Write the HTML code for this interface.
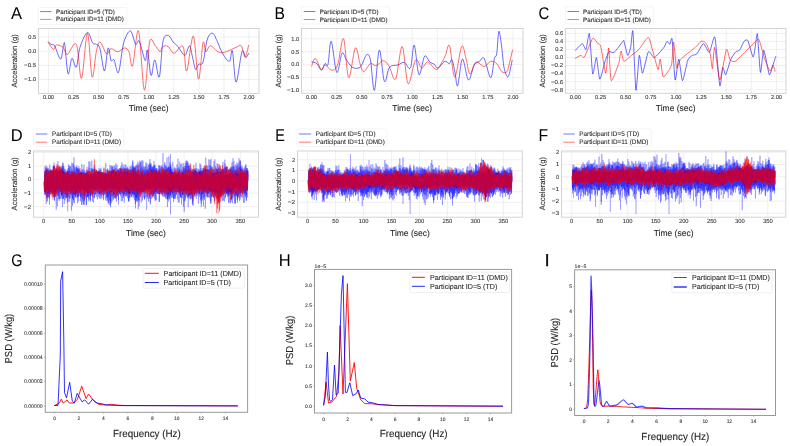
<!DOCTYPE html><html><head><meta charset="utf-8"><style>html,body{margin:0;padding:0;background:#fff;width:790px;height:446px;overflow:hidden}svg{display:block;will-change:transform}text{font-family:"Liberation Sans",sans-serif;text-rendering:geometricPrecision}</style></head><body><svg width="790" height="446" viewBox="0 0 790 446" font-family="'Liberation Sans', sans-serif">
<rect width="790" height="446" fill="#ffffff"/>
<rect x="38.5" y="28.5" width="220.5" height="65" fill="#ffffff" stroke="none" stroke-width="1"/>
<line x1="48.5" y1="28.5" x2="48.5" y2="93.5" stroke="#e9e9e9" stroke-width="0.7"/>
<line x1="73.56" y1="28.5" x2="73.56" y2="93.5" stroke="#e9e9e9" stroke-width="0.7"/>
<line x1="98.62" y1="28.5" x2="98.62" y2="93.5" stroke="#e9e9e9" stroke-width="0.7"/>
<line x1="123.69" y1="28.5" x2="123.69" y2="93.5" stroke="#e9e9e9" stroke-width="0.7"/>
<line x1="148.75" y1="28.5" x2="148.75" y2="93.5" stroke="#e9e9e9" stroke-width="0.7"/>
<line x1="173.81" y1="28.5" x2="173.81" y2="93.5" stroke="#e9e9e9" stroke-width="0.7"/>
<line x1="198.88" y1="28.5" x2="198.88" y2="93.5" stroke="#e9e9e9" stroke-width="0.7"/>
<line x1="223.94" y1="28.5" x2="223.94" y2="93.5" stroke="#e9e9e9" stroke-width="0.7"/>
<line x1="249" y1="28.5" x2="249" y2="93.5" stroke="#e9e9e9" stroke-width="0.7"/>
<line x1="38.5" y1="37.1" x2="259" y2="37.1" stroke="#e9e9e9" stroke-width="0.7"/>
<line x1="38.5" y1="51.23" x2="259" y2="51.23" stroke="#e9e9e9" stroke-width="0.7"/>
<line x1="38.5" y1="65.37" x2="259" y2="65.37" stroke="#e9e9e9" stroke-width="0.7"/>
<line x1="38.5" y1="79.5" x2="259" y2="79.5" stroke="#e9e9e9" stroke-width="0.7"/>
<path d="M48.1 41.6 C48.6 42.05 50.1 43.73 51.1 44.3 C52.1 44.87 53.35 44.38 54.1 45 C54.85 45.62 54.5 45.65 55.6 48 C56.7 50.35 59.35 59.72 60.7 59.1 C62.05 58.48 62.98 46.48 63.7 44.3 C64.42 42.12 64.27 41.07 65 46 C65.73 50.93 66.95 71.83 68.1 73.9 C69.25 75.97 70.53 59.5 71.9 58.4 C73.27 57.3 74.95 69.15 76.3 67.3 C77.65 65.45 78.15 53.12 80 47.3 C81.85 41.48 85.3 33.15 87.4 32.4 C89.5 31.65 91.12 40.82 92.6 42.8 C94.08 44.78 95.07 43.32 96.3 44.3 C97.53 45.28 98.65 44.25 100 48.7 C101.35 53.15 103.05 71.12 104.4 71 C105.75 70.88 106.98 49.73 108.1 48 C109.22 46.27 110.1 58.62 111.1 60.6 C112.1 62.58 112.87 57.93 114.1 59.9 C115.33 61.87 116.9 75.25 118.5 72.4 C120.1 69.55 121.72 49.7 123.7 42.8 C125.68 35.9 128.42 30.75 130.4 31 C132.38 31.25 134.12 42.58 135.6 44.3 C137.08 46.02 137.7 38.58 139.3 41.3 C140.9 44.02 143.85 59.12 145.2 60.6 C146.55 62.08 146.42 47.73 147.4 50.2 C148.38 52.67 149.87 73.78 151.1 75.4 C152.33 77.02 153.43 59.65 154.8 59.9 C156.17 60.15 157.93 80 159.3 76.9 C160.67 73.8 161.53 48.22 163 41.3 C164.47 34.38 166.38 35.27 168.1 35.4 C169.82 35.53 171.68 40.25 173.3 42.1 C174.92 43.95 176.07 44.4 177.8 46.5 C179.53 48.6 182.33 53.45 183.7 54.7 C185.07 55.95 185.02 55.48 186 54 C186.98 52.52 188.5 45.2 189.6 45.8 C190.7 46.4 191.6 53.65 192.6 57.6 C193.6 61.55 194.62 68.38 195.6 69.5 C196.58 70.62 197.27 65.53 198.5 64.3 C199.73 63.07 201.52 66.3 203 62.1 C204.48 57.9 205.8 43.92 207.4 39.1 C209 34.28 211.02 32.95 212.6 33.2 C214.18 33.45 215.2 37.15 216.9 40.6 C218.6 44.05 220.72 50.45 222.8 53.9 C224.88 57.35 227.8 61.78 229.4 61.3 C231 60.82 231.28 47.53 232.4 51 C233.52 54.47 234.5 81.98 236.1 82.1 C237.7 82.22 240.4 55.78 242 51.7 C243.6 47.62 244.58 57.35 245.7 57.6 C246.82 57.85 248.2 53.93 248.7 53.2" fill="none" stroke="#0000ff" stroke-width="0.95" stroke-opacity="0.62" stroke-linejoin="round"/>
<path d="M48.1 42.1 C48.97 43.33 51.93 49.02 53.3 49.5 C54.67 49.98 54.68 45.37 56.3 45 C57.92 44.63 61.15 45.73 63 47.3 C64.85 48.87 65.18 54.9 67.4 54.4 C69.62 53.9 73.95 40.3 76.3 44.3 C78.65 48.3 79.65 80.25 81.5 78.4 C83.35 76.55 85.63 33.45 87.4 33.2 C89.17 32.95 90.62 73.82 92.1 76.9 C93.58 79.98 94.98 57.5 96.3 51.7 C97.62 45.9 98.27 41.73 100 42.1 C101.73 42.47 104.85 52.8 106.7 53.9 C108.55 55 109.25 49.07 111.1 48.7 C112.95 48.33 115.58 51.82 117.8 51.7 C120.02 51.58 122.55 48 124.4 48 C126.25 48 127.53 48.73 128.9 51.7 C130.27 54.67 131 69.25 132.6 65.8 C134.2 62.35 136.53 26.93 138.5 31 C140.47 35.07 142.55 88.35 144.4 90.2 C146.25 92.05 147.87 49.63 149.6 42.1 C151.33 34.57 153.07 43.4 154.8 45 C156.53 46.6 158.63 51.45 160 51.7 C161.37 51.95 161.65 47.37 163 46.5 C164.35 45.63 166.25 45.38 168.1 46.5 C169.95 47.62 171.62 53.2 174.1 53.2 C176.58 53.2 180.9 43.53 183 46.5 C185.1 49.47 184.98 72.73 186.7 71 C188.42 69.27 191.33 34.75 193.3 36.1 C195.27 37.45 196.88 77.98 198.5 79.1 C200.12 80.22 201.77 47.37 203 42.8 C204.23 38.23 204.67 51.2 205.9 51.7 C207.13 52.2 208.2 45.68 210.4 45.8 C212.6 45.92 216.42 51.42 219.1 52.4 C221.78 53.38 223.67 52.55 226.5 51.7 C229.33 50.85 233.63 48.28 236.1 47.3 C238.57 46.32 239.82 44.2 241.3 45.8 C242.78 47.4 243.77 57.03 245 56.9 C246.23 56.77 248.08 46.98 248.7 45" fill="none" stroke="#ff0000" stroke-width="0.95" stroke-opacity="0.62" stroke-linejoin="round"/>
<rect x="38.5" y="28.5" width="220.5" height="65" fill="none" stroke="#cfcfcf" stroke-width="0.9"/>
<text x="48.5" y="99.1" font-size="5.75" text-anchor="middle" fill="#333333" stroke="#333333" stroke-width="0.08" textLength="11.13" lengthAdjust="spacingAndGlyphs">0.00</text>
<text x="73.56" y="99.1" font-size="5.75" text-anchor="middle" fill="#333333" stroke="#333333" stroke-width="0.08" textLength="11.13" lengthAdjust="spacingAndGlyphs">0.25</text>
<text x="98.62" y="99.1" font-size="5.75" text-anchor="middle" fill="#333333" stroke="#333333" stroke-width="0.08" textLength="11.13" lengthAdjust="spacingAndGlyphs">0.50</text>
<text x="123.69" y="99.1" font-size="5.75" text-anchor="middle" fill="#333333" stroke="#333333" stroke-width="0.08" textLength="11.13" lengthAdjust="spacingAndGlyphs">0.75</text>
<text x="148.75" y="99.1" font-size="5.75" text-anchor="middle" fill="#333333" stroke="#333333" stroke-width="0.08" textLength="11.13" lengthAdjust="spacingAndGlyphs">1.00</text>
<text x="173.81" y="99.1" font-size="5.75" text-anchor="middle" fill="#333333" stroke="#333333" stroke-width="0.08" textLength="11.13" lengthAdjust="spacingAndGlyphs">1.25</text>
<text x="198.88" y="99.1" font-size="5.75" text-anchor="middle" fill="#333333" stroke="#333333" stroke-width="0.08" textLength="11.13" lengthAdjust="spacingAndGlyphs">1.50</text>
<text x="223.94" y="99.1" font-size="5.75" text-anchor="middle" fill="#333333" stroke="#333333" stroke-width="0.08" textLength="11.13" lengthAdjust="spacingAndGlyphs">1.75</text>
<text x="249" y="99.1" font-size="5.75" text-anchor="middle" fill="#333333" stroke="#333333" stroke-width="0.08" textLength="11.13" lengthAdjust="spacingAndGlyphs">2.00</text>
<text x="36.2" y="39" font-size="5.75" text-anchor="end" fill="#333333" stroke="#333333" stroke-width="0.08" textLength="7.95" lengthAdjust="spacingAndGlyphs">0.5</text>
<text x="36.2" y="53.13" font-size="5.75" text-anchor="end" fill="#333333" stroke="#333333" stroke-width="0.08" textLength="7.95" lengthAdjust="spacingAndGlyphs">0.0</text>
<text x="36.2" y="67.27" font-size="5.75" text-anchor="end" fill="#333333" stroke="#333333" stroke-width="0.08" textLength="12.14" lengthAdjust="spacingAndGlyphs">−0.5</text>
<text x="36.2" y="81.4" font-size="5.75" text-anchor="end" fill="#333333" stroke="#333333" stroke-width="0.08" textLength="12.14" lengthAdjust="spacingAndGlyphs">−1.0</text>
<text transform="translate(11,18.7) scale(0.97,1)" x="0" y="0" font-size="17" fill="#000000">A</text>
<rect x="38.2" y="7.6" width="88.6" height="17.1" fill="#ffffff" stroke="#ececec" stroke-width="0.6" rx="1.2"/>
<line x1="40.1" y1="11.6" x2="51.5" y2="11.6" stroke="#0000ff" stroke-width="0.9" stroke-opacity="0.6"/>
<line x1="40.1" y1="19.4" x2="51.5" y2="19.4" stroke="#ff0000" stroke-width="0.9" stroke-opacity="0.6"/>
<text x="56" y="13.69" font-size="6.32" text-anchor="start" fill="#262626" stroke="#262626" stroke-width="0.08" textLength="58.79" lengthAdjust="spacingAndGlyphs">Participant ID=5 (TD)</text>
<text x="56" y="21.49" font-size="6.32" text-anchor="start" fill="#262626" stroke="#262626" stroke-width="0.08" textLength="67.91" lengthAdjust="spacingAndGlyphs">Participant ID=11 (DMD)</text>
<text x="148.75" y="110.8" font-size="8.74" text-anchor="middle" fill="#262626" stroke="#262626" stroke-width="0.105" textLength="39.76" lengthAdjust="spacingAndGlyphs">Time (sec)</text>
<text transform="translate(16.9,60.9) rotate(-90)" x="0" y="0" font-size="7.7" text-anchor="middle" fill="#262626" stroke="#262626" stroke-width="0.092" textLength="53.25" lengthAdjust="spacingAndGlyphs">Acceleration (g)</text>
<rect x="301.5" y="28.5" width="221.5" height="64.8" fill="#ffffff" stroke="none" stroke-width="1"/>
<line x1="311.5" y1="28.5" x2="311.5" y2="93.3" stroke="#e9e9e9" stroke-width="0.7"/>
<line x1="336.69" y1="28.5" x2="336.69" y2="93.3" stroke="#e9e9e9" stroke-width="0.7"/>
<line x1="361.88" y1="28.5" x2="361.88" y2="93.3" stroke="#e9e9e9" stroke-width="0.7"/>
<line x1="387.06" y1="28.5" x2="387.06" y2="93.3" stroke="#e9e9e9" stroke-width="0.7"/>
<line x1="412.25" y1="28.5" x2="412.25" y2="93.3" stroke="#e9e9e9" stroke-width="0.7"/>
<line x1="437.44" y1="28.5" x2="437.44" y2="93.3" stroke="#e9e9e9" stroke-width="0.7"/>
<line x1="462.62" y1="28.5" x2="462.62" y2="93.3" stroke="#e9e9e9" stroke-width="0.7"/>
<line x1="487.81" y1="28.5" x2="487.81" y2="93.3" stroke="#e9e9e9" stroke-width="0.7"/>
<line x1="513" y1="28.5" x2="513" y2="93.3" stroke="#e9e9e9" stroke-width="0.7"/>
<line x1="301.5" y1="38.8" x2="523" y2="38.8" stroke="#e9e9e9" stroke-width="0.7"/>
<line x1="301.5" y1="51.67" x2="523" y2="51.67" stroke="#e9e9e9" stroke-width="0.7"/>
<line x1="301.5" y1="64.55" x2="523" y2="64.55" stroke="#e9e9e9" stroke-width="0.7"/>
<line x1="301.5" y1="77.42" x2="523" y2="77.42" stroke="#e9e9e9" stroke-width="0.7"/>
<line x1="301.5" y1="90.3" x2="523" y2="90.3" stroke="#e9e9e9" stroke-width="0.7"/>
<path d="M311.6 61.8 C312.47 62.1 315.18 62.2 316.8 63.6 C318.42 65 319.93 70.2 321.3 70.2 C322.67 70.2 323.88 64.58 325 63.6 C326.12 62.62 326.97 68.02 328 64.3 C329.03 60.58 329.73 39.95 331.2 41.3 C332.67 42.65 335 70.42 336.8 72.4 C338.6 74.38 340.4 55.28 342 53.2 C343.6 51.12 344.67 57.55 346.4 59.9 C348.13 62.25 350.3 65.95 352.4 67.3 C354.5 68.65 357.4 68.5 359 68 C360.6 67.5 360.72 66.52 362 64.3 C363.28 62.08 365.3 55.43 366.7 54.7 C368.1 53.97 369.12 53.98 370.4 59.9 C371.68 65.82 372.92 91.82 374.4 90.2 C375.88 88.58 377.63 51.68 379.3 50.2 C380.97 48.72 382.68 78.45 384.4 81.3 C386.12 84.15 387.37 70.02 389.6 67.3 C391.83 64.58 395.33 65.82 397.8 65 C400.27 64.18 402.3 61.9 404.4 62.4 C406.5 62.9 408.78 70.9 410.4 68 C412.02 65.1 412.83 44.5 414.1 45 C415.37 45.5 416.98 66.3 418 71 C419.02 75.7 419.08 75.68 420.2 73.2 C421.32 70.72 423.08 57.95 424.7 56.1 C426.32 54.25 428.3 60.73 429.9 62.1 C431.5 63.47 432.95 63.32 434.3 64.3 C435.65 65.28 436.27 68.5 438 68 C439.73 67.5 442.85 62.03 444.7 61.3 C446.55 60.57 447.87 63.83 449.1 63.6 C450.33 63.37 451.12 58.43 452.1 59.9 C453.08 61.37 454.07 68.08 455 72.4 C455.93 76.72 456.47 88.02 457.7 85.8 C458.93 83.58 460.62 60.08 462.4 59.1 C464.18 58.12 466.42 78.92 468.4 79.9 C470.38 80.88 472.43 68.1 474.3 65 C476.17 61.9 477.97 62.4 479.6 61.3 C481.23 60.2 482.25 55.68 484.1 58.4 C485.95 61.12 488.98 77.6 490.7 77.6 C492.42 77.6 493.4 62.35 494.4 58.4 C495.4 54.45 495.95 58.42 496.7 53.9 C497.45 49.38 498.03 32.17 498.9 31.3 C499.77 30.43 501.03 42.58 501.9 48.7 C502.77 54.82 503.05 63.35 504.1 68 C505.15 72.65 506.85 77.95 508.2 76.6 C509.55 75.25 511.53 62.68 512.2 59.9" fill="none" stroke="#0000ff" stroke-width="0.95" stroke-opacity="0.62" stroke-linejoin="round"/>
<path d="M311.6 66.5 C312.22 65.15 313.68 57.9 315.3 58.4 C316.92 58.9 319.68 68.4 321.3 69.5 C322.92 70.6 323.28 64.88 325 65 C326.72 65.12 329.5 70.2 331.6 70.2 C333.7 70.2 335.62 70.25 337.6 65 C339.58 59.75 341.65 36.6 343.5 38.7 C345.35 40.8 346.73 76.05 348.7 77.6 C350.67 79.15 353.42 50.33 355.3 48 C357.18 45.67 358.6 59.65 360 63.6 C361.4 67.55 361.97 71.7 363.7 71.7 C365.43 71.7 368.3 64.58 370.4 63.6 C372.5 62.62 374.2 66.3 376.3 65.8 C378.4 65.3 380.9 60.6 383 60.6 C385.1 60.6 386.8 62.72 388.9 65.8 C391 68.88 393.38 82.32 395.6 79.1 C397.82 75.88 400.12 45.75 402.2 46.5 C404.28 47.25 405.87 81.37 408.1 83.6 C410.33 85.83 413.33 62.5 415.6 59.9 C417.87 57.3 419.7 67.63 421.7 68 C423.7 68.37 425.13 61.85 427.6 62.1 C430.07 62.35 434.03 69.63 436.5 69.5 C438.97 69.37 440.92 63.65 442.4 61.3 C443.88 58.95 444.2 57.98 445.4 55.4 C446.6 52.82 448.05 42.22 449.6 45.8 C451.15 49.38 452.68 76.78 454.7 76.9 C456.72 77.02 459.8 49.47 461.7 46.5 C463.6 43.53 464.73 54.53 466.1 59.1 C467.47 63.67 468.27 73.4 469.9 73.9 C471.53 74.4 473.53 63.33 475.9 62.1 C478.27 60.87 481.63 66.63 484.1 66.5 C486.57 66.37 488.6 61.78 490.7 61.3 C492.8 60.82 494.83 61.87 496.7 63.6 C498.57 65.33 500.18 70.35 501.9 71.7 C503.62 73.05 505.77 73.05 507 71.7 C508.23 70.35 508.35 67.3 509.3 63.6 C510.25 59.9 512.13 51.85 512.7 49.5" fill="none" stroke="#ff0000" stroke-width="0.95" stroke-opacity="0.62" stroke-linejoin="round"/>
<rect x="301.5" y="28.5" width="221.5" height="64.8" fill="none" stroke="#cfcfcf" stroke-width="0.9"/>
<text x="311.5" y="98.9" font-size="5.75" text-anchor="middle" fill="#333333" stroke="#333333" stroke-width="0.08" textLength="11.13" lengthAdjust="spacingAndGlyphs">0.00</text>
<text x="336.69" y="98.9" font-size="5.75" text-anchor="middle" fill="#333333" stroke="#333333" stroke-width="0.08" textLength="11.13" lengthAdjust="spacingAndGlyphs">0.25</text>
<text x="361.88" y="98.9" font-size="5.75" text-anchor="middle" fill="#333333" stroke="#333333" stroke-width="0.08" textLength="11.13" lengthAdjust="spacingAndGlyphs">0.50</text>
<text x="387.06" y="98.9" font-size="5.75" text-anchor="middle" fill="#333333" stroke="#333333" stroke-width="0.08" textLength="11.13" lengthAdjust="spacingAndGlyphs">0.75</text>
<text x="412.25" y="98.9" font-size="5.75" text-anchor="middle" fill="#333333" stroke="#333333" stroke-width="0.08" textLength="11.13" lengthAdjust="spacingAndGlyphs">1.00</text>
<text x="437.44" y="98.9" font-size="5.75" text-anchor="middle" fill="#333333" stroke="#333333" stroke-width="0.08" textLength="11.13" lengthAdjust="spacingAndGlyphs">1.25</text>
<text x="462.62" y="98.9" font-size="5.75" text-anchor="middle" fill="#333333" stroke="#333333" stroke-width="0.08" textLength="11.13" lengthAdjust="spacingAndGlyphs">1.50</text>
<text x="487.81" y="98.9" font-size="5.75" text-anchor="middle" fill="#333333" stroke="#333333" stroke-width="0.08" textLength="11.13" lengthAdjust="spacingAndGlyphs">1.75</text>
<text x="513" y="98.9" font-size="5.75" text-anchor="middle" fill="#333333" stroke="#333333" stroke-width="0.08" textLength="11.13" lengthAdjust="spacingAndGlyphs">2.00</text>
<text x="299.2" y="40.7" font-size="5.75" text-anchor="end" fill="#333333" stroke="#333333" stroke-width="0.08" textLength="7.95" lengthAdjust="spacingAndGlyphs">1.0</text>
<text x="299.2" y="53.57" font-size="5.75" text-anchor="end" fill="#333333" stroke="#333333" stroke-width="0.08" textLength="7.95" lengthAdjust="spacingAndGlyphs">0.5</text>
<text x="299.2" y="66.45" font-size="5.75" text-anchor="end" fill="#333333" stroke="#333333" stroke-width="0.08" textLength="7.95" lengthAdjust="spacingAndGlyphs">0.0</text>
<text x="299.2" y="79.33" font-size="5.75" text-anchor="end" fill="#333333" stroke="#333333" stroke-width="0.08" textLength="12.14" lengthAdjust="spacingAndGlyphs">−0.5</text>
<text x="299.2" y="92.2" font-size="5.75" text-anchor="end" fill="#333333" stroke="#333333" stroke-width="0.08" textLength="12.14" lengthAdjust="spacingAndGlyphs">−1.0</text>
<text transform="translate(274.61,18.9) scale(0.92,1)" x="0" y="0" font-size="17" fill="#000000">B</text>
<rect x="301.4" y="6.8" width="88" height="17.2" fill="#ffffff" stroke="#ececec" stroke-width="0.6" rx="1.2"/>
<line x1="303.7" y1="11.5" x2="315.3" y2="11.5" stroke="#0000ff" stroke-width="0.9" stroke-opacity="0.6"/>
<line x1="303.7" y1="19.5" x2="315.3" y2="19.5" stroke="#ff0000" stroke-width="0.9" stroke-opacity="0.6"/>
<text x="319.7" y="13.59" font-size="6.32" text-anchor="start" fill="#262626" stroke="#262626" stroke-width="0.08" textLength="58.79" lengthAdjust="spacingAndGlyphs">Participant ID=5 (TD)</text>
<text x="319.7" y="21.59" font-size="6.32" text-anchor="start" fill="#262626" stroke="#262626" stroke-width="0.08" textLength="67.91" lengthAdjust="spacingAndGlyphs">Participant ID=11 (DMD)</text>
<text x="412.25" y="110.8" font-size="8.74" text-anchor="middle" fill="#262626" stroke="#262626" stroke-width="0.105" textLength="39.76" lengthAdjust="spacingAndGlyphs">Time (sec)</text>
<text transform="translate(281,60.9) rotate(-90)" x="0" y="0" font-size="7.7" text-anchor="middle" fill="#262626" stroke="#262626" stroke-width="0.092" textLength="53.25" lengthAdjust="spacingAndGlyphs">Acceleration (g)</text>
<rect x="565.4" y="28.5" width="220.6" height="64.8" fill="#ffffff" stroke="none" stroke-width="1"/>
<line x1="575.4" y1="28.5" x2="575.4" y2="93.3" stroke="#e9e9e9" stroke-width="0.7"/>
<line x1="600.54" y1="28.5" x2="600.54" y2="93.3" stroke="#e9e9e9" stroke-width="0.7"/>
<line x1="625.67" y1="28.5" x2="625.67" y2="93.3" stroke="#e9e9e9" stroke-width="0.7"/>
<line x1="650.81" y1="28.5" x2="650.81" y2="93.3" stroke="#e9e9e9" stroke-width="0.7"/>
<line x1="675.95" y1="28.5" x2="675.95" y2="93.3" stroke="#e9e9e9" stroke-width="0.7"/>
<line x1="701.09" y1="28.5" x2="701.09" y2="93.3" stroke="#e9e9e9" stroke-width="0.7"/>
<line x1="726.23" y1="28.5" x2="726.23" y2="93.3" stroke="#e9e9e9" stroke-width="0.7"/>
<line x1="751.36" y1="28.5" x2="751.36" y2="93.3" stroke="#e9e9e9" stroke-width="0.7"/>
<line x1="776.5" y1="28.5" x2="776.5" y2="93.3" stroke="#e9e9e9" stroke-width="0.7"/>
<line x1="565.4" y1="33.3" x2="786" y2="33.3" stroke="#e9e9e9" stroke-width="0.7"/>
<line x1="565.4" y1="41.36" x2="786" y2="41.36" stroke="#e9e9e9" stroke-width="0.7"/>
<line x1="565.4" y1="49.41" x2="786" y2="49.41" stroke="#e9e9e9" stroke-width="0.7"/>
<line x1="565.4" y1="57.47" x2="786" y2="57.47" stroke="#e9e9e9" stroke-width="0.7"/>
<line x1="565.4" y1="65.53" x2="786" y2="65.53" stroke="#e9e9e9" stroke-width="0.7"/>
<line x1="565.4" y1="73.59" x2="786" y2="73.59" stroke="#e9e9e9" stroke-width="0.7"/>
<line x1="565.4" y1="81.64" x2="786" y2="81.64" stroke="#e9e9e9" stroke-width="0.7"/>
<line x1="565.4" y1="89.7" x2="786" y2="89.7" stroke="#e9e9e9" stroke-width="0.7"/>
<path d="M575.2 50.5 C575.91 49.81 581.22 43.7 582.3 43.6 C583.38 43.5 585.29 50.5 586 49.5 C586.71 48.5 588.73 31.16 589.4 33.6 C590.07 36.04 592 71.5 592.7 73.9 C593.4 76.3 595.69 57.08 596.4 57.6 C597.11 58.12 598.91 78.8 599.8 79.1 C600.69 79.4 604.38 63.34 605.3 60.6 C606.22 57.86 608.12 52.52 609 51.7 C609.88 50.88 612.7 53.44 614.1 52.4 C615.5 51.36 622.01 42.41 623 41.3 C623.99 40.19 623.53 39.89 624 41.3 C624.47 42.71 627.03 54.8 627.7 55.4 C628.37 56 630.18 49.71 630.7 47.3 C631.22 44.89 632.38 27.01 632.9 31.3 C633.42 35.59 635.26 87.79 635.9 90.2 C636.54 92.61 638.64 57.1 639.3 55.4 C639.96 53.7 641.59 73.57 642.5 73.2 C643.41 72.83 647.21 53.26 648.4 51.7 C649.59 50.14 652.84 58.04 654.4 57.6 C655.96 57.16 662.74 48.93 664 47.3 C665.26 45.67 666.41 41.6 667 41.3 C667.59 41 669.39 44.52 669.9 44.3 C670.41 44.08 671.58 35.54 672.1 39.1 C672.62 42.66 674.43 77.9 675.1 79.9 C675.77 81.9 678.06 59.03 678.8 59.1 C679.54 59.17 681.59 80.52 682.5 80.6 C683.41 80.68 686.91 62.42 687.9 59.9 C688.89 57.38 691.51 56 692.4 55.4 C693.29 54.8 695.69 55.08 696.8 53.9 C697.91 52.72 702.24 43.75 703.5 43.6 C704.76 43.45 708.26 53.04 709.4 52.4 C710.54 51.76 713.86 33.86 714.9 37.2 C715.94 40.54 719.02 82.79 719.8 85.8 C720.58 88.81 722.11 68.41 722.7 67.3 C723.29 66.19 724.88 75.52 725.7 74.7 C726.52 73.88 729.88 61.4 730.9 59.1 C731.92 56.8 735.03 52.59 735.9 51.7 C736.77 50.81 738.78 51.24 739.6 50.2 C740.42 49.16 743.28 42.26 744.1 41.3 C744.92 40.34 746.91 39.04 747.8 40.6 C748.69 42.16 752.26 56.23 753 56.9 C753.74 57.57 754.76 49.6 755.2 47.3 C755.64 45 756.88 31.39 757.4 33.9 C757.92 36.41 759.76 70.77 760.4 72.4 C761.04 74.03 762.91 49.97 763.8 50.2 C764.69 50.43 768.38 73.22 769.3 74.7 C770.22 76.18 772.34 66.86 773 65 C773.66 63.14 775.61 56.99 775.9 56.1" fill="none" stroke="#0000ff" stroke-width="0.95" stroke-opacity="0.62" stroke-linejoin="round"/>
<path d="M575.2 58.4 C575.76 58.1 579.87 55.55 580.8 55.4 C581.73 55.25 583.31 58.6 584.5 56.9 C585.69 55.2 591.36 39.73 592.7 38.4 C594.04 37.07 597.09 42.79 597.9 43.6 C598.71 44.41 600.02 43.54 600.8 46.5 C601.58 49.46 604.91 73.05 605.7 73.2 C606.49 73.35 608.15 47.26 608.7 48 C609.25 48.74 610.21 79.04 611.2 80.6 C612.19 82.16 617.61 66.56 618.6 63.6 C619.59 60.64 620.58 51.23 621.1 51 C621.62 50.77 622.77 60.86 623.8 61.3 C624.83 61.74 629.9 56.58 631.4 55.4 C632.9 54.22 637.32 51.13 638.8 49.5 C640.28 47.87 645.16 40.21 646.2 39.1 C647.24 37.99 648.38 36.62 649.2 38.4 C650.02 40.18 653.51 53.79 654.4 56.9 C655.29 60.01 657.51 69.28 658.1 69.5 C658.69 69.72 659.78 58.36 660.3 59.1 C660.82 59.84 662.19 76.31 663.3 76.9 C664.41 77.49 670.37 68.48 671.4 65 C672.43 61.52 673.08 41.8 673.6 42.1 C674.12 42.4 675.93 66.22 676.6 68 C677.27 69.78 679.17 61.38 680.3 59.9 C681.43 58.42 686.4 54.46 687.9 53.2 C689.4 51.94 693.96 48.49 695.3 47.3 C696.64 46.11 700.26 41.75 701.3 41.3 C702.34 40.85 704.82 41.61 705.7 42.8 C706.58 43.99 709.43 50.61 710.1 53.2 C710.77 55.79 711.95 69.29 712.4 68.7 C712.85 68.11 713.86 46.18 714.6 47.3 C715.34 48.42 718.62 79.68 719.8 79.9 C720.98 80.12 725.37 51.5 726.4 49.5 C727.43 47.5 729.22 58.72 730.1 59.9 C730.98 61.08 733.73 62.05 735.2 61.3 C736.67 60.55 742.58 54.54 744.8 52.4 C747.02 50.26 755.92 41.01 757.4 39.9 C758.88 38.79 758.86 39.38 759.6 41.3 C760.34 43.22 763.76 56.13 764.8 59.1 C765.84 62.07 769.18 70.41 770 71 C770.82 71.59 772.48 64.93 773 65 C773.52 65.07 774.98 71.03 775.2 71.7" fill="none" stroke="#ff0000" stroke-width="0.95" stroke-opacity="0.62" stroke-linejoin="round"/>
<rect x="565.4" y="28.5" width="220.6" height="64.8" fill="none" stroke="#cfcfcf" stroke-width="0.9"/>
<text x="575.4" y="98.9" font-size="5.75" text-anchor="middle" fill="#333333" stroke="#333333" stroke-width="0.08" textLength="11.13" lengthAdjust="spacingAndGlyphs">0.00</text>
<text x="600.54" y="98.9" font-size="5.75" text-anchor="middle" fill="#333333" stroke="#333333" stroke-width="0.08" textLength="11.13" lengthAdjust="spacingAndGlyphs">0.25</text>
<text x="625.67" y="98.9" font-size="5.75" text-anchor="middle" fill="#333333" stroke="#333333" stroke-width="0.08" textLength="11.13" lengthAdjust="spacingAndGlyphs">0.50</text>
<text x="650.81" y="98.9" font-size="5.75" text-anchor="middle" fill="#333333" stroke="#333333" stroke-width="0.08" textLength="11.13" lengthAdjust="spacingAndGlyphs">0.75</text>
<text x="675.95" y="98.9" font-size="5.75" text-anchor="middle" fill="#333333" stroke="#333333" stroke-width="0.08" textLength="11.13" lengthAdjust="spacingAndGlyphs">1.00</text>
<text x="701.09" y="98.9" font-size="5.75" text-anchor="middle" fill="#333333" stroke="#333333" stroke-width="0.08" textLength="11.13" lengthAdjust="spacingAndGlyphs">1.25</text>
<text x="726.23" y="98.9" font-size="5.75" text-anchor="middle" fill="#333333" stroke="#333333" stroke-width="0.08" textLength="11.13" lengthAdjust="spacingAndGlyphs">1.50</text>
<text x="751.36" y="98.9" font-size="5.75" text-anchor="middle" fill="#333333" stroke="#333333" stroke-width="0.08" textLength="11.13" lengthAdjust="spacingAndGlyphs">1.75</text>
<text x="776.5" y="98.9" font-size="5.75" text-anchor="middle" fill="#333333" stroke="#333333" stroke-width="0.08" textLength="11.13" lengthAdjust="spacingAndGlyphs">2.00</text>
<text x="563.1" y="35.2" font-size="5.75" text-anchor="end" fill="#333333" stroke="#333333" stroke-width="0.08" textLength="7.95" lengthAdjust="spacingAndGlyphs">0.6</text>
<text x="563.1" y="43.26" font-size="5.75" text-anchor="end" fill="#333333" stroke="#333333" stroke-width="0.08" textLength="7.95" lengthAdjust="spacingAndGlyphs">0.4</text>
<text x="563.1" y="51.31" font-size="5.75" text-anchor="end" fill="#333333" stroke="#333333" stroke-width="0.08" textLength="7.95" lengthAdjust="spacingAndGlyphs">0.2</text>
<text x="563.1" y="59.37" font-size="5.75" text-anchor="end" fill="#333333" stroke="#333333" stroke-width="0.08" textLength="7.95" lengthAdjust="spacingAndGlyphs">0.0</text>
<text x="563.1" y="67.43" font-size="5.75" text-anchor="end" fill="#333333" stroke="#333333" stroke-width="0.08" textLength="12.14" lengthAdjust="spacingAndGlyphs">−0.2</text>
<text x="563.1" y="75.49" font-size="5.75" text-anchor="end" fill="#333333" stroke="#333333" stroke-width="0.08" textLength="12.14" lengthAdjust="spacingAndGlyphs">−0.4</text>
<text x="563.1" y="83.54" font-size="5.75" text-anchor="end" fill="#333333" stroke="#333333" stroke-width="0.08" textLength="12.14" lengthAdjust="spacingAndGlyphs">−0.6</text>
<text x="563.1" y="91.6" font-size="5.75" text-anchor="end" fill="#333333" stroke="#333333" stroke-width="0.08" textLength="12.14" lengthAdjust="spacingAndGlyphs">−0.8</text>
<text transform="translate(538.41,18.7) scale(0.88,1)" x="0" y="0" font-size="17" fill="#000000">C</text>
<rect x="565.4" y="6.8" width="88" height="17.2" fill="#ffffff" stroke="#ececec" stroke-width="0.6" rx="1.2"/>
<line x1="567.5" y1="11.5" x2="579" y2="11.5" stroke="#0000ff" stroke-width="0.9" stroke-opacity="0.6"/>
<line x1="567.5" y1="19.5" x2="579" y2="19.5" stroke="#ff0000" stroke-width="0.9" stroke-opacity="0.6"/>
<text x="583" y="13.59" font-size="6.32" text-anchor="start" fill="#262626" stroke="#262626" stroke-width="0.08" textLength="58.79" lengthAdjust="spacingAndGlyphs">Participant ID=5 (TD)</text>
<text x="583" y="21.59" font-size="6.32" text-anchor="start" fill="#262626" stroke="#262626" stroke-width="0.08" textLength="67.91" lengthAdjust="spacingAndGlyphs">Participant ID=11 (DMD)</text>
<text x="675.7" y="110.8" font-size="8.74" text-anchor="middle" fill="#262626" stroke="#262626" stroke-width="0.105" textLength="39.76" lengthAdjust="spacingAndGlyphs">Time (sec)</text>
<text transform="translate(544.6,60.9) rotate(-90)" x="0" y="0" font-size="7.7" text-anchor="middle" fill="#262626" stroke="#262626" stroke-width="0.092" textLength="53.25" lengthAdjust="spacingAndGlyphs">Acceleration (g)</text>
<rect x="33.5" y="151" width="225" height="66.2" fill="#ffffff" stroke="none" stroke-width="1"/>
<line x1="43.7" y1="151" x2="43.7" y2="217.2" stroke="#e9e9e9" stroke-width="0.7"/>
<line x1="71.79" y1="151" x2="71.79" y2="217.2" stroke="#e9e9e9" stroke-width="0.7"/>
<line x1="99.87" y1="151" x2="99.87" y2="217.2" stroke="#e9e9e9" stroke-width="0.7"/>
<line x1="127.96" y1="151" x2="127.96" y2="217.2" stroke="#e9e9e9" stroke-width="0.7"/>
<line x1="156.04" y1="151" x2="156.04" y2="217.2" stroke="#e9e9e9" stroke-width="0.7"/>
<line x1="184.13" y1="151" x2="184.13" y2="217.2" stroke="#e9e9e9" stroke-width="0.7"/>
<line x1="212.21" y1="151" x2="212.21" y2="217.2" stroke="#e9e9e9" stroke-width="0.7"/>
<line x1="240.3" y1="151" x2="240.3" y2="217.2" stroke="#e9e9e9" stroke-width="0.7"/>
<line x1="33.5" y1="152.5" x2="258.5" y2="152.5" stroke="#e9e9e9" stroke-width="0.7"/>
<line x1="33.5" y1="166.03" x2="258.5" y2="166.03" stroke="#e9e9e9" stroke-width="0.7"/>
<line x1="33.5" y1="179.55" x2="258.5" y2="179.55" stroke="#e9e9e9" stroke-width="0.7"/>
<line x1="33.5" y1="193.07" x2="258.5" y2="193.07" stroke="#e9e9e9" stroke-width="0.7"/>
<line x1="33.5" y1="206.6" x2="258.5" y2="206.6" stroke="#e9e9e9" stroke-width="0.7"/>
<clipPath id="cp33"><rect x="33.5" y="151" width="225.0" height="66.19999999999999"/></clipPath><g clip-path="url(#cp33)">
<path d="M44.0 181.9 44.2 181.9 44.5 191.9 44.8 166.7 45.0 168.3 45.2 194.4 45.5 193.2 45.8 169.8 46.0 170.6 46.2 204.1 46.5 192.6 46.8 170.6 47.0 168.8 47.2 201.5 47.5 193.0 47.8 173.4 48.0 172.7 48.2 194.4 48.5 189.1 48.8 172.6 49.0 171.4 49.2 192.7 49.5 191.0 49.8 171.1 50.0 172.6 50.2 188.6 50.5 187.0 50.8 169.3 51.0 174.7 51.2 189.7 51.5 188.7 51.8 171.5 52.0 171.4 52.2 188.9 52.5 186.3 52.8 175.6 53.0 169.7 53.2 190.3 53.5 189.3 53.8 175.4 54.0 170.8 54.2 192.9 54.5 200.7 54.8 175.0 55.0 171.4 55.2 190.4 55.5 197.3 55.8 169.9 56.0 168.4 56.2 192.9 56.5 192.0 56.8 168.3 57.0 169.9 57.2 190.3 57.5 191.5 57.8 171.6 58.0 173.2 58.2 192.6 58.5 199.3 58.8 171.5 59.0 171.9 59.2 192.7 59.5 199.2 59.8 170.2 60.0 171.1 60.2 196.7 60.5 198.9 60.8 172.3 61.0 171.4 61.2 197.9 61.5 195.4 61.8 167.2 62.0 165.5 62.2 194.8 62.5 206.9 62.8 163.1 63.0 169.0 63.2 198.6 63.5 197.2 63.8 171.4 64.0 172.9 64.2 204.0 64.5 200.6 64.8 169.2 65.0 174.4 65.2 200.4 65.5 190.7 65.8 173.0 66.0 172.2 66.2 190.6 66.5 195.8 66.8 175.0 67.0 172.6 67.2 191.9 67.5 195.4 67.8 176.5 68.0 172.4 68.2 201.7 68.5 194.3 68.8 175.9 69.0 175.9 69.2 197.7 69.5 201.6 69.8 170.8 70.0 176.3 70.2 197.5 70.5 198.4 70.8 174.3 71.0 175.4 71.2 204.5 71.5 210.6 71.8 173.2 72.0 172.2 72.2 195.3 72.5 198.1 72.8 170.6 73.0 173.7 73.2 193.5 73.5 202.7 73.8 174.5 74.0 171.7 74.2 195.2 74.5 194.8 74.8 174.2 75.0 172.5 75.2 193.7 75.5 196.6 75.8 174.8 76.0 174.4 76.2 191.6 76.5 194.6 76.8 165.3 77.0 170.0 77.2 193.9 77.5 197.4 77.8 169.2 78.0 171.5 78.2 196.1 78.5 196.0 78.8 166.2 79.0 173.5 79.2 192.8 79.5 193.6 79.8 173.0 80.0 174.7 80.2 190.5 80.5 201.1 80.8 171.8 81.0 175.1 81.2 193.6 81.5 205.0 81.8 164.0 82.0 175.7 82.2 202.1 82.5 194.8 82.8 169.5 83.0 174.6 83.2 204.7 83.5 198.8 83.8 171.9 84.0 176.1 84.2 204.1 84.5 204.8 84.8 171.5 85.0 175.0 85.2 199.2 85.5 192.2 85.8 175.0 86.0 172.8 86.2 205.2 86.5 195.7 86.8 170.3 87.0 173.8 87.2 196.1 87.5 197.1 87.8 170.9 88.0 172.0 88.2 195.5 88.5 195.0 88.8 174.0 89.0 172.0 89.2 192.9 89.5 193.7 89.8 173.9 90.0 174.2 90.2 190.1 90.5 196.0 90.8 174.8 91.0 174.4 91.2 193.9 91.5 192.2 91.8 174.9 92.0 170.6 92.2 195.6 92.5 192.9 92.8 168.7 93.0 170.9 93.2 194.2 93.5 193.6 93.8 171.7 94.0 168.9 94.2 193.3 94.5 198.2 94.8 171.9 95.0 168.6 95.2 194.7 95.5 194.0 95.8 171.5 96.0 172.2 96.2 191.8 96.5 190.7 96.8 170.4 97.0 174.9 97.2 191.0 97.5 192.9 97.8 171.4 98.0 174.0 98.2 192.1 98.5 189.7 98.8 173.7 99.0 171.8 99.2 190.9 99.5 194.6 99.8 169.4 100.0 169.1 100.2 199.0 100.5 194.4 100.8 173.6 101.0 172.9 101.2 198.6 101.5 197.9 101.8 172.1 102.0 173.7 102.2 195.2 102.5 194.9 102.8 173.3 103.0 174.3 103.2 195.5 103.5 195.0 103.8 174.7 104.0 173.4 104.2 191.1 104.5 194.7 104.8 176.6 105.0 173.3 105.2 192.4 105.5 190.2 105.8 169.3 106.0 176.1 106.2 201.0 106.5 198.8 106.8 173.0 107.0 173.5 107.2 196.0 107.5 196.3 107.8 173.3 108.0 170.8 108.2 202.7 108.5 201.4 108.8 170.9 109.0 173.1 109.2 195.0 109.5 200.3 109.8 172.4 110.0 172.5 110.2 205.4 110.5 204.5 110.8 173.9 111.0 171.1 111.2 196.4 111.5 195.2 111.8 171.4 112.0 172.5 112.2 201.2 112.5 196.6 112.8 173.1 113.0 170.1 113.2 198.4 113.5 194.1 113.8 171.0 114.0 169.0 114.2 194.6 114.5 197.9 114.8 171.1 115.0 173.8 115.2 198.5 115.5 193.2 115.8 172.9 116.0 168.1 116.2 198.2 116.5 201.5 116.8 171.3 117.0 164.6 117.2 193.4 117.5 195.5 117.8 168.8 118.0 170.6 118.2 192.0 118.5 200.2 118.8 169.7 119.0 170.7 119.2 190.9 119.5 192.6 119.8 172.5 120.0 171.0 120.2 192.0 120.5 190.6 120.8 166.1 121.0 172.5 121.2 191.8 121.5 191.4 121.8 170.4 122.0 174.6 122.2 189.1 122.5 189.6 122.8 172.1 123.0 176.6 123.2 198.2 123.5 191.5 123.8 173.3 124.0 173.7 124.2 195.4 124.5 194.7 124.8 170.7 125.0 169.3 125.2 192.6 125.5 196.5 125.8 170.2 126.0 164.6 126.2 194.2 126.5 196.2 126.8 168.7 127.0 171.4 127.2 191.8 127.5 192.6 127.8 172.3 128.0 170.2 128.2 190.9 128.5 201.7 128.8 169.5 129.0 173.2 129.2 201.4 129.5 191.8 129.8 172.5 130.0 165.9 130.2 194.2 130.5 192.2 130.8 166.9 131.0 167.2 131.2 196.4 131.5 191.1 131.8 171.7 132.0 169.9 132.2 196.7 132.5 192.7 132.8 161.8 133.0 167.3 133.2 194.4 133.5 194.9 133.8 168.0 134.0 169.9 134.2 195.8 134.5 200.3 134.8 168.4 135.0 167.8 135.2 198.3 135.5 204.1 135.8 172.3 136.0 170.0 136.2 197.9 136.5 196.8 136.8 174.0 137.0 173.3 137.2 197.5 137.5 192.1 137.8 176.6 138.0 172.5 138.2 190.2 138.5 200.1 138.8 176.3 139.0 177.3 139.2 192.3 139.5 188.4 139.8 176.2 140.0 175.5 140.2 189.1 140.5 192.8 140.8 168.2 141.0 175.4 141.2 191.7 141.5 191.8 141.8 174.5 142.0 171.1 142.2 188.9 142.5 186.9 142.8 174.6 143.0 170.9 143.2 189.9 143.5 189.5 143.8 173.4 144.0 173.3 144.2 188.4 144.5 187.6 144.8 169.3 145.0 170.8 145.2 188.9 145.5 191.4 145.8 168.8 146.0 162.2 146.2 189.1 146.5 196.3 146.8 169.6 147.0 163.3 147.2 194.5 147.5 197.2 147.8 167.1 148.0 170.4 148.2 192.1 148.5 201.4 148.8 164.3 149.0 168.8 149.2 193.8 149.5 197.1 149.8 162.9 150.0 169.8 150.2 203.0 150.5 204.6 150.8 164.3 151.0 169.6 151.2 192.9 151.5 195.3 151.8 171.3 152.0 167.6 152.2 193.2 152.5 194.6 152.8 172.4 153.0 166.2 153.2 196.6 153.5 193.2 153.8 170.4 154.0 168.8 154.2 193.2 154.5 190.4 154.8 170.4 155.0 171.7 155.2 200.1 155.5 196.5 155.8 170.1 156.0 174.1 156.2 192.5 156.5 200.2 156.8 170.4 157.0 170.0 157.2 193.8 157.5 190.3 157.8 173.0 158.0 172.3 158.2 193.2 158.5 193.8 158.8 166.3 159.0 165.6 159.2 201.7 159.5 196.0 159.8 171.1 160.0 168.7 160.2 192.4 160.5 191.0 160.8 171.9 161.0 168.3 161.2 192.9 161.5 191.4 161.8 168.2 162.0 165.0 162.2 191.9 162.5 194.3 162.8 167.7 163.0 168.6 163.2 189.4 163.5 191.3 163.8 173.5 164.0 170.0 164.2 191.7 164.5 190.0 164.8 162.1 165.0 169.3 165.2 189.6 165.5 198.7 165.8 165.7 166.0 171.0 166.2 191.1 166.5 195.0 166.8 170.3 167.0 157.4 167.2 199.8 167.5 197.4 167.8 170.1 168.0 166.9 168.2 198.0 168.5 193.0 168.8 156.4 169.0 157.7 169.2 195.0 169.5 199.4 169.8 162.6 170.0 168.1 170.2 193.4 170.5 188.2 170.8 164.2 171.0 166.4 171.2 190.0 171.5 187.7 171.8 171.3 172.0 169.8 172.2 191.3 172.5 192.5 172.8 173.6 173.0 175.3 173.2 193.6 173.5 198.1 173.8 174.7 174.0 175.6 174.2 190.4 174.5 191.7 174.8 173.3 175.0 170.8 175.2 196.8 175.5 191.8 175.8 173.3 176.0 173.0 176.2 195.0 176.5 192.6 176.8 172.2 177.0 173.9 177.2 192.2 177.5 189.6 177.8 173.2 178.0 158.7 178.2 190.8 178.5 191.2 178.8 170.5 179.0 174.4 179.2 194.7 179.5 193.4 179.8 171.2 180.0 174.1 180.2 193.1 180.5 196.9 180.8 174.3 181.0 174.2 181.2 197.0 181.5 197.7 181.8 174.3 182.0 172.3 182.2 196.0 182.5 197.9 182.8 171.7 183.0 166.8 183.2 195.5 183.5 206.8 183.8 167.3 184.0 167.6 184.2 211.8 184.5 196.3 184.8 165.9 185.0 167.2 185.2 197.9 185.5 197.2 185.8 161.2 186.0 164.4 186.2 190.0 186.5 191.5 186.8 170.4 187.0 170.4 187.2 190.4 187.5 190.4 187.8 166.4 188.0 162.7 188.2 194.2 188.5 197.0 188.8 168.2 189.0 164.9 189.2 195.9 189.5 193.2 189.8 169.9 190.0 171.8 190.2 194.9 190.5 192.8 190.8 166.9 191.0 167.8 191.2 195.2 191.5 195.0 191.8 171.0 192.0 170.7 192.2 198.4 192.5 193.1 192.8 174.4 193.0 170.4 193.2 193.1 193.5 192.5 193.8 171.8 194.0 168.9 194.2 195.8 194.5 191.8 194.8 174.7 195.0 168.6 195.2 193.7 195.5 196.5 195.8 177.4 196.0 176.2 196.2 199.1 196.5 191.6 196.8 171.7 197.0 172.3 197.2 190.3 197.5 193.1 197.8 173.0 198.0 172.9 198.2 188.4 198.5 187.8 198.8 171.5 199.0 173.9 199.2 188.3 199.5 193.4 199.8 171.4 200.0 174.3 200.2 189.1 200.5 190.1 200.8 173.1 201.0 176.3 201.2 199.1 201.5 191.8 201.8 174.5 202.0 176.9 202.2 200.5 202.5 198.8 202.8 171.8 203.0 175.5 203.2 196.2 203.5 206.3 203.8 170.7 204.0 167.9 204.2 198.0 204.5 199.9 204.8 174.3 205.0 168.8 205.2 208.9 205.5 204.5 205.8 175.3 206.0 173.8 206.2 194.0 206.5 196.6 206.8 172.9 207.0 169.3 207.2 196.0 207.5 190.5 207.8 165.9 208.0 171.7 208.2 193.6 208.5 197.1 208.8 169.3 209.0 170.4 209.2 193.8 209.5 197.7 209.8 168.5 210.0 160.1 210.2 191.5 210.5 203.8 210.8 169.9 211.0 158.9 211.2 195.3 211.5 197.1 211.8 169.9 212.0 173.9 212.2 197.0 212.5 191.0 212.8 169.9 213.0 173.0 213.2 192.5 213.5 197.1 213.8 169.1 214.0 171.3 214.2 192.6 214.5 192.0 214.8 173.3 215.0 169.2 215.2 191.7 215.5 188.9 215.8 171.1 216.0 173.1 216.2 189.9 216.5 191.6 216.8 172.9 217.0 172.1 217.2 192.3 217.5 194.4 217.8 168.1 218.0 163.8 218.2 190.2 218.5 196.0 218.8 168.1 219.0 169.8 219.2 190.7 219.5 192.0 219.8 168.0 220.0 166.1 220.2 189.9 220.5 193.5 220.8 168.5 221.0 172.1 221.2 191.3 221.5 191.0 221.8 169.4 222.0 174.1 222.2 193.5 222.5 190.4 222.8 169.1 223.0 172.0 223.2 189.8 223.5 191.7 223.8 170.6 224.0 171.4 224.2 191.8 224.5 188.9 224.8 172.1 225.0 163.4 225.2 190.6 225.5 191.9 225.8 172.1 226.0 167.2 226.2 190.6 226.5 192.7 226.8 165.9 227.0 173.7 227.2 196.1 227.5 196.8 227.8 175.0 228.0 170.8 228.2 197.0 228.5 202.7 228.8 175.6 229.0 174.9 229.2 202.9 229.5 196.3 229.8 175.9 230.0 170.3 230.2 197.5 230.5 203.4 230.8 169.3 231.0 173.0 231.2 202.0 231.5 194.2 231.8 169.8 232.0 170.4 232.2 193.1 232.5 189.5 232.8 173.1 233.0 167.1 233.2 190.0 233.5 192.5 233.8 174.5 234.0 177.3 234.2 190.6 234.5 190.0 234.8 174.5 235.0 172.9 235.2 195.5 235.5 190.6 235.8 169.2 236.0 172.9 236.2 189.9 236.5 196.0 236.8 171.0 237.0 169.8 237.2 196.8 237.5 198.5 237.8 165.1 238.0 163.3 238.2 196.4 238.5 196.4 238.8 168.3 239.0 167.5 239.2 191.2 239.5 194.1 239.8 169.0 240.0 160.3 240.2 196.2 240.5 189.5 240.8 170.6 241.0 168.9 241.2 190.2 241.5 193.2 241.8 171.6 242.0 167.3 242.2 189.9 242.5 190.8 242.8 172.6 243.0 175.1 243.2 190.9 243.5 191.5 243.8 171.8 244.0 171.1 244.2 194.2 244.5 193.3 244.8 172.7 245.0 172.7 245.2 192.1 245.5 192.4 245.8 173.0 246.0 175.5 246.2 192.6 246.5 195.0 246.8 176.1 247.0 168.2 247.2 197.5 247.5 196.6 247.8 171.5 247.6 181.9" fill="none" stroke="#0000ff" stroke-width="0.6" stroke-opacity="0.42" stroke-linejoin="bevel"/>
<path d="M44.0 181.9 44.2 181.9 44.5 189.2 44.8 171.6 45.0 171.1 45.2 191.7 45.5 192.9 45.8 165.2 46.0 167.0 46.2 197.6 46.5 192.3 46.8 167.3 47.0 166.6 47.2 198.4 47.5 190.0 47.8 168.6 48.0 169.0 48.2 195.1 48.5 196.9 48.8 168.5 49.0 172.4 49.2 199.1 49.5 204.6 49.8 171.8 50.0 170.2 50.2 193.5 50.5 192.0 50.8 174.6 51.0 170.7 51.2 193.5 51.5 190.6 51.8 173.6 52.0 174.9 52.2 193.8 52.5 189.6 52.8 172.2 53.0 170.6 53.2 191.4 53.5 188.8 53.8 173.2 54.0 165.3 54.2 189.3 54.5 200.4 54.8 173.4 55.0 170.3 55.2 190.3 55.5 191.5 55.8 168.6 56.0 168.8 56.2 191.0 56.5 189.9 56.8 168.4 57.0 166.0 57.2 191.9 57.5 193.0 57.8 164.5 58.0 161.0 58.2 194.5 58.5 191.9 58.8 172.3 59.0 168.1 59.2 192.3 59.5 191.4 59.8 170.5 60.0 172.2 60.2 190.7 60.5 191.4 60.8 169.6 61.0 172.0 61.2 191.9 61.5 190.3 61.8 166.7 62.0 173.7 62.2 198.8 62.5 197.6 62.8 166.6 63.0 174.7 63.2 193.6 63.5 199.1 63.8 171.5 64.0 168.4 64.2 197.2 64.5 194.3 64.8 170.9 65.0 175.0 65.2 193.4 65.5 194.7 65.8 174.8 66.0 172.7 66.2 197.9 66.5 191.9 66.8 172.8 67.0 172.4 67.2 196.7 67.5 197.9 67.8 171.3 68.0 171.5 68.2 190.8 68.5 192.2 68.8 165.7 69.0 173.0 69.2 191.1 69.5 190.0 69.8 167.4 70.0 172.4 70.2 188.9 70.5 193.9 70.8 166.3 71.0 168.2 71.2 192.8 71.5 192.1 71.8 162.8 72.0 167.2 72.2 195.6 72.5 199.2 72.8 163.1 73.0 165.9 73.2 192.6 73.5 200.2 73.8 164.6 74.0 157.3 74.2 193.4 74.5 203.2 74.8 166.5 75.0 171.4 75.2 192.6 75.5 196.9 75.8 172.4 76.0 170.5 76.2 192.7 76.5 192.5 76.8 169.0 77.0 167.8 77.2 198.7 77.5 203.3 77.8 168.5 78.0 173.6 78.2 192.5 78.5 201.4 78.8 171.8 79.0 168.3 79.2 196.1 79.5 193.6 79.8 169.9 80.0 172.2 80.2 193.8 80.5 197.5 80.8 173.7 81.0 172.7 81.2 193.1 81.5 197.5 81.8 175.7 82.0 173.5 82.2 193.6 82.5 199.6 82.8 172.2 83.0 174.8 83.2 204.7 83.5 194.6 83.8 174.3 84.0 176.0 84.2 197.4 84.5 201.3 84.8 170.1 85.0 173.6 85.2 196.6 85.5 196.3 85.8 175.3 86.0 173.0 86.2 191.0 86.5 191.7 86.8 171.1 87.0 169.7 87.2 197.3 87.5 194.6 87.8 171.3 88.0 170.5 88.2 194.2 88.5 197.7 88.8 161.2 89.0 170.2 89.2 199.4 89.5 199.3 89.8 171.0 90.0 161.6 90.2 202.1 90.5 198.2 90.8 170.5 91.0 168.1 91.2 194.6 91.5 192.9 91.8 160.7 92.0 169.2 92.2 192.8 92.5 201.5 92.8 169.0 93.0 173.1 93.2 196.4 93.5 202.6 93.8 168.5 94.0 166.9 94.2 198.0 94.5 195.0 94.8 164.5 95.0 171.5 95.2 194.1 95.5 194.6 95.8 172.4 96.0 172.9 96.2 196.4 96.5 197.1 96.8 175.1 97.0 175.4 97.2 192.9 97.5 199.4 97.8 177.3 98.0 172.4 98.2 193.7 98.5 191.6 98.8 172.2 99.0 167.9 99.2 198.2 99.5 191.6 99.8 175.3 100.0 170.4 100.2 191.7 100.5 191.0 100.8 171.8 101.0 169.9 101.2 192.9 101.5 187.3 101.8 175.9 102.0 172.2 102.2 191.4 102.5 193.0 102.8 175.9 103.0 177.6 103.2 190.8 103.5 189.3 103.8 174.5 104.0 174.1 104.2 190.3 104.5 188.4 104.8 173.2 105.0 172.8 105.2 190.9 105.5 193.6 105.8 163.0 106.0 173.1 106.2 190.9 106.5 190.5 106.8 170.3 107.0 172.8 107.2 196.4 107.5 198.4 107.8 168.9 108.0 171.8 108.2 196.4 108.5 197.0 108.8 174.5 109.0 173.8 109.2 204.8 109.5 193.4 109.8 173.0 110.0 170.2 110.2 193.0 110.5 201.6 110.8 172.2 111.0 170.8 111.2 203.2 111.5 195.8 111.8 170.6 112.0 166.9 112.2 196.6 112.5 193.9 112.8 166.3 113.0 168.4 113.2 192.1 113.5 194.8 113.8 173.4 114.0 170.9 114.2 189.5 114.5 194.9 114.8 171.4 115.0 174.2 115.2 189.7 115.5 189.7 115.8 170.5 116.0 175.1 116.2 192.7 116.5 192.9 116.8 176.4 117.0 173.2 117.2 196.6 117.5 191.3 117.8 173.8 118.0 169.6 118.2 192.4 118.5 191.5 118.8 172.7 119.0 170.8 119.2 194.5 119.5 193.8 119.8 171.7 120.0 168.1 120.2 192.3 120.5 196.3 120.8 170.0 121.0 169.0 121.2 192.1 121.5 194.1 121.8 162.3 122.0 171.4 122.2 193.1 122.5 192.7 122.8 171.4 123.0 164.1 123.2 194.5 123.5 193.0 123.8 169.5 124.0 168.9 124.2 202.7 124.5 198.2 124.8 167.9 125.0 172.4 125.2 191.2 125.5 191.3 125.8 171.3 126.0 172.6 126.2 192.3 126.5 191.9 126.8 169.6 127.0 167.5 127.2 195.4 127.5 193.1 127.8 166.8 128.0 173.6 128.2 189.6 128.5 192.0 128.8 171.2 129.0 172.0 129.2 193.1 129.5 191.3 129.8 173.5 130.0 173.0 130.2 194.1 130.5 193.2 130.8 172.0 131.0 173.0 131.2 191.4 131.5 191.2 131.8 172.2 132.0 168.6 132.2 192.4 132.5 193.9 132.8 171.7 133.0 166.9 133.2 198.1 133.5 196.4 133.8 166.4 134.0 169.8 134.2 195.6 134.5 195.0 134.8 171.9 135.0 167.9 135.2 202.3 135.5 208.4 135.8 171.9 136.0 165.9 136.2 201.7 136.5 196.4 136.8 172.3 137.0 173.9 137.2 201.5 137.5 200.6 137.8 161.6 138.0 167.0 138.2 209.4 138.5 196.8 138.8 169.6 139.0 171.3 139.2 206.2 139.5 191.1 139.8 160.5 140.0 169.7 140.2 190.1 140.5 192.8 140.8 161.5 141.0 170.2 141.2 194.9 141.5 190.4 141.8 170.6 142.0 160.0 142.2 191.5 142.5 191.8 142.8 171.8 143.0 160.7 143.2 191.7 143.5 192.7 143.8 166.5 144.0 170.9 144.2 196.3 144.5 199.2 144.8 173.2 145.0 166.2 145.2 189.6 145.5 197.8 145.8 172.5 146.0 166.7 146.2 188.1 146.5 188.6 146.8 172.9 147.0 170.4 147.2 189.7 147.5 188.1 147.8 168.9 148.0 169.5 148.2 190.5 148.5 192.0 148.8 165.0 149.0 167.3 149.2 192.2 149.5 198.7 149.8 163.3 150.0 159.1 150.2 202.7 150.5 195.1 150.8 170.9 151.0 162.9 151.2 192.4 151.5 193.3 151.8 170.1 152.0 171.5 152.2 192.3 152.5 190.7 152.8 171.3 153.0 166.6 153.2 196.1 153.5 194.9 153.8 168.9 154.0 165.3 154.2 191.6 154.5 194.3 154.8 165.4 155.0 169.8 155.2 201.3 155.5 192.9 155.8 167.7 156.0 170.7 156.2 191.8 156.5 189.9 156.8 168.2 157.0 174.1 157.2 188.9 157.5 187.5 157.8 173.1 158.0 170.9 158.2 187.4 158.5 192.4 158.8 171.3 159.0 165.2 159.2 189.9 159.5 194.0 159.8 165.4 160.0 165.6 160.2 189.5 160.5 192.0 160.8 172.1 161.0 166.0 161.2 191.6 161.5 193.8 161.8 169.0 162.0 170.1 162.2 194.0 162.5 196.1 162.8 171.2 163.0 153.2 163.2 193.8 163.5 194.0 163.8 167.2 164.0 168.0 164.2 196.8 164.5 193.8 164.8 170.7 165.0 171.2 165.2 192.4 165.5 192.2 165.8 169.7 166.0 166.3 166.2 197.5 166.5 198.2 166.8 167.5 167.0 173.1 167.2 195.8 167.5 198.9 167.8 168.2 168.0 169.8 168.2 192.6 168.5 194.8 168.8 167.1 169.0 169.5 169.2 196.1 169.5 194.7 169.8 173.1 170.0 166.9 170.2 190.6 170.5 194.6 170.8 173.9 171.0 169.6 171.2 193.3 171.5 192.4 171.8 168.8 172.0 168.5 172.2 192.1 172.5 195.6 172.8 161.8 173.0 166.6 173.2 193.1 173.5 191.6 173.8 169.1 174.0 168.2 174.2 198.8 174.5 192.2 174.8 167.0 175.0 172.4 175.2 189.5 175.5 190.9 175.8 168.6 176.0 168.1 176.2 192.2 176.5 188.2 176.8 171.7 177.0 164.4 177.2 192.0 177.5 189.2 177.8 171.7 178.0 168.0 178.2 192.4 178.5 192.3 178.8 167.0 179.0 168.1 179.2 192.2 179.5 190.9 179.8 161.7 180.0 170.5 180.2 197.9 180.5 193.6 180.8 164.3 181.0 167.4 181.2 189.7 181.5 189.7 181.8 169.5 182.0 163.3 182.2 190.7 182.5 194.9 182.8 174.3 183.0 170.9 183.2 192.7 183.5 195.1 183.8 163.1 184.0 170.4 184.2 191.3 184.5 192.0 184.8 172.6 185.0 170.6 185.2 195.3 185.5 200.6 185.8 169.1 186.0 166.1 186.2 192.8 186.5 195.5 186.8 160.2 187.0 167.2 187.2 197.9 187.5 192.3 187.8 170.4 188.0 173.1 188.2 196.3 188.5 196.1 188.8 166.6 189.0 170.5 189.2 198.6 189.5 193.7 189.8 172.1 190.0 169.6 190.2 199.5 190.5 196.3 190.8 172.4 191.0 172.0 191.2 194.6 191.5 192.2 191.8 173.2 192.0 169.5 192.2 193.2 192.5 202.8 192.8 169.7 193.0 172.9 193.2 190.3 193.5 190.9 193.8 172.0 194.0 171.9 194.2 197.3 194.5 191.8 194.8 171.0 195.0 170.5 195.2 191.4 195.5 193.1 195.8 172.9 196.0 170.9 196.2 191.0 196.5 195.1 196.8 168.1 197.0 173.3 197.2 193.2 197.5 196.0 197.8 171.4 198.0 169.2 198.2 194.2 198.5 194.5 198.8 168.8 199.0 169.7 199.2 197.0 199.5 195.8 199.8 163.3 200.0 163.3 200.2 193.4 200.5 200.4 200.8 164.4 201.0 169.7 201.2 207.1 201.5 203.2 201.8 170.0 202.0 171.9 202.2 194.0 202.5 193.7 202.8 167.9 203.0 171.0 203.2 193.9 203.5 192.2 203.8 166.7 204.0 171.6 204.2 191.7 204.5 192.0 204.8 170.8 205.0 166.0 205.2 189.4 205.5 189.0 205.8 167.5 206.0 170.7 206.2 193.4 206.5 189.3 206.8 170.9 207.0 169.8 207.2 193.6 207.5 188.5 207.8 169.6 208.0 169.7 208.2 193.7 208.5 189.6 208.8 159.2 209.0 169.5 209.2 189.3 209.5 190.9 209.8 165.0 210.0 166.2 210.2 191.5 210.5 188.7 210.8 168.2 211.0 170.7 211.2 187.5 211.5 192.1 211.8 167.6 212.0 168.3 212.2 191.1 212.5 192.4 212.8 166.8 213.0 167.6 213.2 187.8 213.5 192.1 213.8 166.0 214.0 160.9 214.2 194.1 214.5 200.8 214.8 159.2 215.0 160.5 215.2 194.1 215.5 192.5 215.8 168.6 216.0 167.6 216.2 194.4 216.5 194.4 216.8 172.7 217.0 163.4 217.2 196.0 217.5 197.9 217.8 171.1 218.0 172.6 218.2 197.3 218.5 194.9 218.8 167.0 219.0 171.4 219.2 191.2 219.5 193.5 219.8 175.1 220.0 168.4 220.2 196.9 220.5 195.0 220.8 170.4 221.0 173.6 221.2 195.1 221.5 195.9 221.8 168.7 222.0 172.7 222.2 196.5 222.5 201.1 222.8 170.6 223.0 169.1 223.2 193.5 223.5 193.0 223.8 171.8 224.0 169.7 224.2 196.2 224.5 201.4 224.8 167.5 225.0 170.9 225.2 192.9 225.5 192.0 225.8 173.1 226.0 167.6 226.2 193.2 226.5 194.1 226.8 169.6 227.0 171.4 227.2 192.2 227.5 190.5 227.8 174.5 228.0 174.8 228.2 196.5 228.5 191.9 228.8 169.8 229.0 171.9 229.2 191.5 229.5 191.4 229.8 168.8 230.0 173.5 230.2 192.7 230.5 193.9 230.8 170.9 231.0 166.7 231.2 195.5 231.5 199.5 231.8 173.7 232.0 170.2 232.2 196.3 232.5 203.2 232.8 173.5 233.0 166.3 233.2 193.0 233.5 194.3 233.8 166.7 234.0 171.2 234.2 196.6 234.5 203.4 234.8 169.8 235.0 172.1 235.2 200.4 235.5 202.7 235.8 172.6 236.0 172.4 236.2 195.7 236.5 196.0 236.8 166.5 237.0 174.6 237.2 200.1 237.5 198.9 237.8 170.6 238.0 172.5 238.2 196.6 238.5 196.2 238.8 172.7 239.0 174.1 239.2 194.2 239.5 201.2 239.8 170.5 240.0 161.9 240.2 199.6 240.5 196.0 240.8 166.4 241.0 171.0 241.2 190.2 241.5 192.3 241.8 172.9 242.0 165.4 242.2 192.1 242.5 190.0 242.8 170.6 243.0 169.8 243.2 192.0 243.5 192.7 243.8 170.1 244.0 167.7 244.2 194.0 244.5 191.2 244.8 169.4 245.0 172.5 245.2 194.7 245.5 196.8 245.8 165.2 246.0 170.6 246.2 197.7 246.5 200.8 246.8 170.2 247.0 168.0 247.2 190.1 247.5 190.8 247.8 170.8 247.6 181.9" fill="none" stroke="#0000ff" stroke-width="0.6" stroke-opacity="0.42" stroke-linejoin="bevel"/>
<path d="M44.0 181.9 44.2 181.9 44.5 195.0 44.8 171.1 45.0 173.1 45.2 192.7 45.5 193.9 45.8 168.4 46.0 170.5 46.2 191.2 46.5 189.7 46.8 171.7 47.0 173.6 47.2 197.1 47.5 194.4 47.8 170.8 48.0 167.6 48.2 195.7 48.5 197.6 48.8 170.4 49.0 172.5 49.2 191.0 49.5 198.9 49.8 164.6 50.0 172.9 50.2 194.8 50.5 190.2 50.8 169.6 51.0 170.9 51.2 192.1 51.5 187.3 51.8 171.7 52.0 171.5 52.2 190.9 52.5 187.9 52.8 170.0 53.0 166.2 53.2 188.6 53.5 189.4 53.8 167.7 54.0 162.6 54.2 188.0 54.5 196.4 54.8 170.0 55.0 174.5 55.2 196.6 55.5 195.4 55.8 173.4 56.0 174.2 56.2 209.7 56.5 198.5 56.8 171.5 57.0 171.5 57.2 203.9 57.5 206.2 57.8 171.1 58.0 169.4 58.2 196.4 58.5 195.9 58.8 172.7 59.0 170.0 59.2 201.0 59.5 194.1 59.8 169.7 60.0 169.0 60.2 190.4 60.5 191.5 60.8 170.4 61.0 168.6 61.2 194.4 61.5 191.3 61.8 172.3 62.0 168.1 62.2 190.9 62.5 194.7 62.8 172.4 63.0 162.6 63.2 193.5 63.5 188.2 63.8 165.8 64.0 169.7 64.2 191.0 64.5 191.5 64.8 173.6 65.0 172.9 65.2 193.8 65.5 191.1 65.8 169.0 66.0 174.5 66.2 193.3 66.5 198.0 66.8 174.1 67.0 170.9 67.2 202.7 67.5 194.6 67.8 173.5 68.0 168.0 68.2 196.6 68.5 196.2 68.8 164.2 69.0 171.1 69.2 196.0 69.5 198.3 69.8 169.1 70.0 165.9 70.2 193.8 70.5 193.6 70.8 173.3 71.0 171.1 71.2 195.2 71.5 193.0 71.8 169.4 72.0 172.3 72.2 193.2 72.5 205.8 72.8 171.9 73.0 171.9 73.2 194.4 73.5 194.3 73.8 164.6 74.0 170.8 74.2 193.3 74.5 194.6 74.8 169.3 75.0 168.5 75.2 197.5 75.5 191.8 75.8 167.1 76.0 167.0 76.2 195.9 76.5 197.8 76.8 167.3 77.0 169.0 77.2 191.8 77.5 192.0 77.8 174.4 78.0 168.6 78.2 197.1 78.5 189.8 78.8 171.1 79.0 170.1 79.2 192.4 79.5 191.0 79.8 172.8 80.0 172.0 80.2 194.3 80.5 196.0 80.8 170.4 81.0 170.5 81.2 190.5 81.5 190.1 81.8 172.6 82.0 172.6 82.2 188.8 82.5 190.0 82.8 173.6 83.0 169.0 83.2 194.7 83.5 189.4 83.8 170.4 84.0 164.8 84.2 194.6 84.5 197.1 84.8 172.7 85.0 173.3 85.2 192.7 85.5 193.1 85.8 174.5 86.0 175.3 86.2 195.3 86.5 204.6 86.8 171.9 87.0 174.3 87.2 194.9 87.5 196.7 87.8 174.6 88.0 174.9 88.2 197.1 88.5 200.9 88.8 173.0 89.0 167.4 89.2 196.0 89.5 191.9 89.8 175.7 90.0 173.6 90.2 194.5 90.5 200.4 90.8 175.7 91.0 173.8 91.2 193.6 91.5 190.6 91.8 168.5 92.0 173.4 92.2 191.3 92.5 190.8 92.8 174.2 93.0 173.6 93.2 188.7 93.5 191.0 93.8 174.0 94.0 172.8 94.2 189.3 94.5 190.1 94.8 169.0 95.0 172.4 95.2 187.1 95.5 189.2 95.8 170.0 96.0 174.2 96.2 186.8 96.5 191.1 96.8 170.8 97.0 173.8 97.2 188.9 97.5 190.4 97.8 174.2 98.0 170.7 98.2 190.2 98.5 196.5 98.8 170.8 99.0 174.5 99.2 193.5 99.5 192.2 99.8 171.6 100.0 174.4 100.2 193.5 100.5 194.4 100.8 169.8 101.0 167.6 101.2 196.3 101.5 192.5 101.8 172.7 102.0 172.0 102.2 190.0 102.5 192.1 102.8 172.8 103.0 172.2 103.2 198.3 103.5 192.2 103.8 173.6 104.0 168.5 104.2 193.3 104.5 194.3 104.8 173.1 105.0 173.3 105.2 199.4 105.5 199.5 105.8 175.0 106.0 173.7 106.2 190.7 106.5 197.4 106.8 176.6 107.0 173.3 107.2 193.8 107.5 200.7 107.8 174.7 108.0 172.4 108.2 203.6 108.5 191.8 108.8 170.5 109.0 173.3 109.2 193.3 109.5 193.7 109.8 168.1 110.0 164.9 110.2 194.1 110.5 207.3 110.8 171.7 111.0 165.6 111.2 192.3 111.5 190.6 111.8 170.7 112.0 165.5 112.2 191.6 112.5 191.2 112.8 168.8 113.0 170.8 113.2 192.6 113.5 199.8 113.8 169.0 114.0 165.2 114.2 196.3 114.5 192.3 114.8 166.6 115.0 172.7 115.2 193.7 115.5 198.6 115.8 163.4 116.0 168.1 116.2 198.0 116.5 196.2 116.8 171.1 117.0 175.0 117.2 191.6 117.5 192.9 117.8 175.3 118.0 169.7 118.2 193.0 118.5 204.5 118.8 170.1 119.0 168.7 119.2 192.5 119.5 193.9 119.8 168.0 120.0 173.1 120.2 192.3 120.5 194.3 120.8 168.3 121.0 170.8 121.2 201.5 121.5 198.0 121.8 169.4 122.0 168.5 122.2 195.2 122.5 201.0 122.8 169.7 123.0 168.4 123.2 194.8 123.5 196.7 123.8 167.1 124.0 170.9 124.2 191.0 124.5 193.7 124.8 170.9 125.0 164.6 125.2 194.0 125.5 191.2 125.8 168.4 126.0 172.2 126.2 196.2 126.5 192.6 126.8 172.9 127.0 170.3 127.2 194.6 127.5 198.2 127.8 168.3 128.0 168.8 128.2 192.4 128.5 200.5 128.8 169.8 129.0 171.9 129.2 193.6 129.5 197.6 129.8 168.9 130.0 169.7 130.2 197.7 130.5 191.4 130.8 172.9 131.0 171.5 131.2 194.7 131.5 196.9 131.8 164.9 132.0 168.4 132.2 194.6 132.5 191.1 132.8 160.1 133.0 170.3 133.2 193.7 133.5 192.8 133.8 172.6 134.0 166.6 134.2 193.0 134.5 194.4 134.8 171.0 135.0 166.9 135.2 194.5 135.5 197.5 135.8 165.5 136.0 167.0 136.2 199.8 136.5 194.9 136.8 164.2 137.0 169.4 137.2 201.5 137.5 194.3 137.8 165.1 138.0 168.7 138.2 194.7 138.5 193.9 138.8 167.6 139.0 163.1 139.2 200.8 139.5 193.8 139.8 172.0 140.0 170.4 140.2 196.8 140.5 193.7 140.8 162.2 141.0 172.2 141.2 202.7 141.5 194.6 141.8 166.5 142.0 168.7 142.2 194.4 142.5 200.7 142.8 169.4 143.0 172.5 143.2 197.5 143.5 194.0 143.8 171.7 144.0 167.4 144.2 194.5 144.5 199.5 144.8 172.2 145.0 170.8 145.2 193.4 145.5 191.7 145.8 171.7 146.0 172.0 146.2 191.1 146.5 189.8 146.8 172.3 147.0 169.8 147.2 192.1 147.5 194.5 147.8 172.0 148.0 170.6 148.2 188.8 148.5 189.8 148.8 171.8 149.0 172.4 149.2 188.7 149.5 189.2 149.8 168.4 150.0 169.6 150.2 188.5 150.5 189.4 150.8 165.3 151.0 173.5 151.2 191.6 151.5 198.6 151.8 170.2 152.0 166.7 152.2 191.0 152.5 197.6 152.8 168.0 153.0 167.8 153.2 195.0 153.5 190.0 153.8 168.7 154.0 160.9 154.2 198.3 154.5 194.6 154.8 164.4 155.0 166.8 155.2 191.4 155.5 192.0 155.8 170.5 156.0 169.0 156.2 193.0 156.5 191.4 156.8 168.0 157.0 170.1 157.2 191.4 157.5 193.8 157.8 173.0 158.0 174.4 158.2 193.8 158.5 190.3 158.8 175.9 159.0 170.3 159.2 201.9 159.5 195.5 159.8 171.8 160.0 170.6 160.2 193.6 160.5 190.9 160.8 174.2 161.0 174.9 161.2 195.2 161.5 188.4 161.8 172.3 162.0 172.9 162.2 192.0 162.5 192.3 162.8 172.7 163.0 173.4 163.2 192.7 163.5 192.6 163.8 169.0 164.0 169.1 164.2 196.6 164.5 195.0 164.8 164.1 165.0 171.4 165.2 193.0 165.5 195.6 165.8 170.9 166.0 169.1 166.2 192.4 166.5 193.2 166.8 169.4 167.0 169.7 167.2 200.4 167.5 207.0 167.8 171.7 168.0 168.3 168.2 193.0 168.5 201.4 168.8 170.1 169.0 166.5 169.2 198.9 169.5 190.8 169.8 172.9 170.0 168.1 170.2 196.0 170.5 196.5 170.8 166.6 171.0 171.5 171.2 193.8 171.5 197.7 171.8 171.8 172.0 174.8 172.2 197.8 172.5 195.7 172.8 173.4 173.0 172.1 173.2 196.4 173.5 202.1 173.8 173.1 174.0 172.9 174.2 199.1 174.5 198.0 174.8 171.3 175.0 171.7 175.2 198.9 175.5 197.9 175.8 174.5 176.0 176.3 176.2 194.1 176.5 194.5 176.8 175.4 177.0 173.2 177.2 199.4 177.5 198.9 177.8 173.4 178.0 171.5 178.2 202.6 178.5 197.6 178.8 174.9 179.0 172.4 179.2 202.6 179.5 195.1 179.8 168.9 180.0 171.6 180.2 196.0 180.5 196.7 180.8 173.8 181.0 174.1 181.2 190.4 181.5 204.6 181.8 169.8 182.0 169.3 182.2 192.2 182.5 194.9 182.8 172.7 183.0 172.6 183.2 191.8 183.5 192.3 183.8 168.4 184.0 170.6 184.2 201.4 184.5 191.6 184.8 168.6 185.0 168.9 185.2 192.7 185.5 191.8 185.8 163.1 186.0 163.2 186.2 194.7 186.5 194.6 186.8 170.8 187.0 160.9 187.2 194.8 187.5 197.6 187.8 169.8 188.0 162.2 188.2 207.1 188.5 193.4 188.8 165.8 189.0 169.2 189.2 195.7 189.5 193.7 189.8 167.4 190.0 165.1 190.2 196.4 190.5 198.2 190.8 172.1 191.0 168.3 191.2 197.8 191.5 199.2 191.8 172.7 192.0 175.5 192.2 192.7 192.5 205.2 192.8 175.1 193.0 176.2 193.2 205.6 193.5 202.6 193.8 175.2 194.0 170.0 194.2 194.9 194.5 193.8 194.8 169.6 195.0 171.5 195.2 192.6 195.5 193.5 195.8 173.1 196.0 162.7 196.2 190.8 196.5 190.2 196.8 171.3 197.0 172.1 197.2 192.0 197.5 190.4 197.8 174.4 198.0 175.7 198.2 195.5 198.5 203.7 198.8 174.8 199.0 170.4 199.2 194.1 199.5 193.5 199.8 171.0 200.0 175.0 200.2 195.4 200.5 193.4 200.8 167.9 201.0 170.0 201.2 203.4 201.5 192.7 201.8 170.1 202.0 173.9 202.2 194.5 202.5 194.6 202.8 172.0 203.0 169.8 203.2 198.5 203.5 193.0 203.8 170.2 204.0 170.9 204.2 192.3 204.5 196.8 204.8 172.4 205.0 169.5 205.2 192.0 205.5 191.9 205.8 157.7 206.0 168.0 206.2 192.9 206.5 191.4 206.8 172.2 207.0 169.5 207.2 190.9 207.5 196.9 207.8 169.6 208.0 169.3 208.2 191.4 208.5 193.1 208.8 172.0 209.0 170.3 209.2 193.8 209.5 191.8 209.8 171.2 210.0 171.3 210.2 192.0 210.5 201.1 210.8 166.0 211.0 174.2 211.2 203.3 211.5 194.7 211.8 171.9 212.0 175.3 212.2 194.2 212.5 191.9 212.8 173.0 213.0 172.5 213.2 192.7 213.5 197.9 213.8 172.6 214.0 176.1 214.2 201.6 214.5 199.2 214.8 172.1 215.0 176.5 215.2 196.3 215.5 196.7 215.8 174.9 216.0 172.9 216.2 194.7 216.5 198.0 216.8 176.6 217.0 176.0 217.2 192.3 217.5 190.9 217.8 176.4 218.0 176.4 218.2 193.8 218.5 194.0 218.8 175.8 219.0 175.8 219.2 197.0 219.5 193.5 219.8 174.6 220.0 175.0 220.2 193.1 220.5 195.6 220.8 174.3 221.0 172.2 221.2 194.1 221.5 197.8 221.8 170.7 222.0 172.5 222.2 195.0 222.5 193.2 222.8 167.8 223.0 161.9 223.2 193.0 223.5 200.6 223.8 168.9 224.0 170.5 224.2 192.4 224.5 193.5 224.8 159.6 225.0 172.5 225.2 198.3 225.5 191.5 225.8 167.2 226.0 172.9 226.2 193.9 226.5 189.6 226.8 169.0 227.0 167.1 227.2 194.6 227.5 189.4 227.8 173.6 228.0 169.0 228.2 191.9 228.5 195.9 228.8 169.6 229.0 173.7 229.2 192.9 229.5 194.7 229.8 172.1 230.0 167.7 230.2 193.0 230.5 194.3 230.8 172.5 231.0 167.6 231.2 196.0 231.5 199.2 231.8 165.2 232.0 162.3 232.2 198.7 232.5 196.2 232.8 169.4 233.0 158.2 233.2 197.4 233.5 192.0 233.8 167.3 234.0 161.0 234.2 196.3 234.5 196.6 234.8 168.1 235.0 165.7 235.2 203.9 235.5 200.1 235.8 164.5 236.0 164.7 236.2 192.4 236.5 193.4 236.8 162.4 237.0 164.1 237.2 194.5 237.5 202.8 237.8 166.5 238.0 164.9 238.2 190.4 238.5 194.1 238.8 168.1 239.0 158.2 239.2 187.8 239.5 191.3 239.8 167.0 240.0 169.9 240.2 192.6 240.5 193.0 240.8 169.3 241.0 170.6 241.2 195.6 241.5 196.8 241.8 170.4 242.0 168.5 242.2 197.8 242.5 196.1 242.8 170.5 243.0 172.0 243.2 197.5 243.5 202.7 243.8 174.5 244.0 171.8 244.2 200.0 244.5 202.6 244.8 166.6 245.0 170.9 245.2 196.5 245.5 192.5 245.8 164.2 246.0 169.4 246.2 200.4 246.5 191.0 246.8 169.7 247.0 168.3 247.2 189.5 247.5 189.4 247.8 170.0 247.6 181.9" fill="none" stroke="#0000ff" stroke-width="0.6" stroke-opacity="0.42" stroke-linejoin="bevel"/>
<path d="M44.0 181.7 44.2 181.7 44.5 190.3 44.8 174.8 45.0 174.3 45.2 192.3 45.5 190.4 45.8 171.6 46.0 173.7 46.2 189.7 46.5 190.7 46.8 173.2 47.0 169.8 47.2 189.8 47.5 188.9 47.8 174.3 48.0 172.8 48.2 192.5 48.5 191.3 48.8 173.9 49.0 171.6 49.2 189.4 49.5 189.7 49.8 172.5 50.0 173.7 50.2 190.7 50.5 191.3 50.8 171.7 51.0 171.2 51.2 191.9 51.5 191.9 51.8 171.9 52.0 170.0 52.2 193.5 52.5 192.2 52.8 171.4 53.0 171.5 53.2 196.8 53.5 192.9 53.8 170.4 54.0 166.4 54.2 193.3 54.5 194.0 54.8 171.2 55.0 172.4 55.2 192.6 55.5 190.0 55.8 170.9 56.0 170.1 56.2 190.2 56.5 188.5 56.8 168.9 57.0 170.2 57.2 190.4 57.5 188.1 57.8 172.5 58.0 170.8 58.2 188.0 58.5 188.7 58.8 172.1 59.0 172.5 59.2 188.5 59.5 188.1 59.8 167.1 60.0 168.2 60.2 188.1 60.5 189.5 60.8 172.1 61.0 169.8 61.2 188.2 61.5 195.4 61.8 171.7 62.0 173.5 62.2 189.5 62.5 189.4 62.8 173.4 63.0 171.0 63.2 188.3 63.5 189.3 63.8 172.3 64.0 172.9 64.2 189.5 64.5 189.1 64.8 173.8 65.0 174.1 65.2 188.5 65.5 190.6 65.8 173.3 66.0 175.3 66.2 190.9 66.5 188.7 66.8 175.0 67.0 175.0 67.2 190.7 67.5 190.4 67.8 170.4 68.0 174.2 68.2 190.3 68.5 189.5 68.8 175.0 69.0 175.7 69.2 189.6 69.5 189.2 69.8 174.8 70.0 174.7 70.2 191.8 70.5 190.4 70.8 176.3 71.0 175.6 71.2 189.9 71.5 188.5 71.8 174.3 72.0 173.6 72.2 189.4 72.5 188.8 72.8 173.7 73.0 174.0 73.2 191.1 73.5 189.7 73.8 174.6 74.0 173.4 74.2 189.7 74.5 190.0 74.8 173.6 75.0 174.1 75.2 193.6 75.5 193.5 75.8 176.0 76.0 175.8 76.2 191.8 76.5 192.5 76.8 175.2 77.0 175.6 77.2 189.5 77.5 189.2 77.8 175.1 78.0 174.4 78.2 189.7 78.5 190.0 78.8 174.1 79.0 175.1 79.2 188.6 79.5 187.8 79.8 173.8 80.0 173.3 80.2 188.3 80.5 191.4 80.8 174.0 81.0 172.2 81.2 189.4 81.5 189.8 81.8 173.1 82.0 173.9 82.2 188.0 82.5 188.7 82.8 174.4 83.0 175.3 83.2 188.9 83.5 189.2 83.8 174.9 84.0 175.3 84.2 189.2 84.5 189.3 84.8 174.3 85.0 175.4 85.2 190.4 85.5 189.9 85.8 173.4 86.0 174.8 86.2 191.1 86.5 188.6 86.8 175.4 87.0 172.9 87.2 188.1 87.5 191.1 87.8 175.3 88.0 174.9 88.2 191.1 88.5 190.3 88.8 175.7 89.0 173.7 89.2 189.0 89.5 189.8 89.8 175.6 90.0 175.2 90.2 189.7 90.5 188.7 90.8 174.2 91.0 175.9 91.2 188.0 91.5 187.1 91.8 175.1 92.0 176.6 92.2 187.4 92.5 187.6 92.8 174.4 93.0 175.3 93.2 187.5 93.5 187.4 93.8 175.7 94.0 173.7 94.2 189.9 94.5 187.3 94.8 173.6 95.0 175.0 95.2 189.2 95.5 189.6 95.8 173.7 96.0 173.9 96.2 187.8 96.5 188.4 96.8 171.4 97.0 174.4 97.2 187.3 97.5 188.2 97.8 173.1 98.0 173.7 98.2 188.8 98.5 188.1 98.8 172.2 99.0 173.6 99.2 188.2 99.5 187.4 99.8 173.2 100.0 173.3 100.2 186.9 100.5 188.2 100.8 172.1 101.0 174.1 101.2 188.5 101.5 189.0 101.8 172.6 102.0 174.2 102.2 188.7 102.5 189.1 102.8 174.0 103.0 173.1 103.2 191.5 103.5 187.7 103.8 173.8 104.0 174.8 104.2 188.0 104.5 190.5 104.8 175.3 105.0 174.5 105.2 188.6 105.5 190.0 105.8 174.1 106.0 174.9 106.2 187.7 106.5 189.5 106.8 175.6 107.0 174.8 107.2 187.8 107.5 187.4 107.8 174.0 108.0 174.4 108.2 188.4 108.5 188.3 108.8 174.9 109.0 172.6 109.2 187.8 109.5 188.1 109.8 175.0 110.0 175.2 110.2 188.7 110.5 187.9 110.8 173.5 111.0 173.6 111.2 191.7 111.5 189.4 111.8 171.8 112.0 172.7 112.2 188.8 112.5 187.6 112.8 171.4 113.0 170.4 113.2 188.8 113.5 189.0 113.8 171.1 114.0 173.0 114.2 189.0 114.5 188.7 114.8 172.3 115.0 174.1 115.2 189.1 115.5 189.3 115.8 173.2 116.0 172.5 116.2 190.9 116.5 191.1 116.8 173.7 117.0 173.0 117.2 189.4 117.5 189.8 117.8 173.9 118.0 174.1 118.2 191.0 118.5 191.4 118.8 173.3 119.0 172.0 119.2 189.9 119.5 189.7 119.8 172.4 120.0 172.5 120.2 188.2 120.5 187.9 120.8 171.8 121.0 172.5 121.2 190.2 121.5 188.1 121.8 172.5 122.0 172.5 122.2 186.7 122.5 187.2 122.8 173.0 123.0 172.3 123.2 187.7 123.5 189.7 123.8 174.6 124.0 173.7 124.2 187.4 124.5 189.0 124.8 173.9 125.0 171.6 125.2 190.0 125.5 187.7 125.8 171.7 126.0 171.6 126.2 188.7 126.5 189.5 126.8 173.2 127.0 172.9 127.2 189.5 127.5 189.1 127.8 171.2 128.0 173.7 128.2 189.3 128.5 193.0 128.8 174.2 129.0 172.5 129.2 193.7 129.5 188.1 129.8 173.7 130.0 174.2 130.2 188.1 130.5 189.8 130.8 172.4 131.0 170.0 131.2 190.8 131.5 188.9 131.8 173.0 132.0 173.3 132.2 188.6 132.5 189.3 132.8 173.7 133.0 170.4 133.2 190.2 133.5 190.5 133.8 171.9 134.0 174.2 134.2 190.3 134.5 191.0 134.8 174.0 135.0 173.0 135.2 190.1 135.5 190.6 135.8 172.8 136.0 174.7 136.2 191.3 136.5 190.6 136.8 175.6 137.0 175.3 137.2 191.0 137.5 191.5 137.8 174.3 138.0 170.1 138.2 188.6 138.5 189.2 138.8 174.0 139.0 176.7 139.2 192.6 139.5 190.8 139.8 174.9 140.0 176.0 140.2 190.6 140.5 189.8 140.8 174.9 141.0 175.5 141.2 190.6 141.5 189.8 141.8 174.3 142.0 176.8 142.2 190.5 142.5 192.2 142.8 175.1 143.0 174.6 143.2 191.4 143.5 189.6 143.8 175.1 144.0 174.8 144.2 189.4 144.5 191.0 144.8 174.7 145.0 176.1 145.2 188.2 145.5 189.6 145.8 176.4 146.0 176.2 146.2 188.9 146.5 188.2 146.8 174.4 147.0 175.8 147.2 188.3 147.5 188.7 147.8 174.9 148.0 173.6 148.2 188.6 148.5 190.0 148.8 173.8 149.0 175.1 149.2 189.4 149.5 188.3 149.8 174.5 150.0 173.8 150.2 188.7 150.5 188.0 150.8 174.0 151.0 174.4 151.2 188.6 151.5 187.4 151.8 170.2 152.0 173.9 152.2 188.7 152.5 188.4 152.8 174.0 153.0 171.9 153.2 187.1 153.5 187.7 153.8 174.6 154.0 173.2 154.2 186.7 154.5 188.9 154.8 171.3 155.0 171.7 155.2 186.4 155.5 187.3 155.8 172.8 156.0 172.4 156.2 190.7 156.5 188.1 156.8 172.3 157.0 172.3 157.2 188.9 157.5 188.8 157.8 173.2 158.0 173.4 158.2 188.8 158.5 188.5 158.8 173.0 159.0 174.0 159.2 188.2 159.5 187.4 159.8 172.7 160.0 174.5 160.2 188.2 160.5 188.3 160.8 175.6 161.0 175.3 161.2 186.3 161.5 187.1 161.8 175.4 162.0 173.1 162.2 187.0 162.5 187.7 162.8 174.8 163.0 172.6 163.2 187.9 163.5 188.4 163.8 174.1 164.0 172.6 164.2 190.2 164.5 187.0 164.8 173.3 165.0 172.0 165.2 186.8 165.5 186.9 165.8 170.9 166.0 173.8 166.2 188.5 166.5 190.0 166.8 174.4 167.0 173.9 167.2 187.5 167.5 189.3 167.8 174.9 168.0 174.3 168.2 188.9 168.5 190.1 168.8 173.0 169.0 173.5 169.2 187.9 169.5 190.9 169.8 172.1 170.0 171.3 170.2 190.5 170.5 188.6 170.8 172.0 171.0 172.6 171.2 191.6 171.5 190.2 171.8 172.9 172.0 172.1 172.2 189.4 172.5 188.6 172.8 172.0 173.0 172.4 173.2 187.7 173.5 189.1 173.8 173.7 174.0 174.3 174.2 187.6 174.5 188.2 174.8 172.3 175.0 172.8 175.2 187.9 175.5 186.7 175.8 175.3 176.0 175.4 176.2 187.3 176.5 188.3 176.8 175.3 177.0 174.8 177.2 188.9 177.5 188.0 177.8 174.6 178.0 173.8 178.2 189.5 178.5 188.0 178.8 174.1 179.0 173.8 179.2 191.3 179.5 191.7 179.8 174.4 180.0 174.6 180.2 191.3 180.5 190.2 180.8 174.9 181.0 173.9 181.2 189.9 181.5 190.0 181.8 175.5 182.0 175.4 182.2 190.8 182.5 189.9 182.8 172.4 183.0 174.0 183.2 190.0 183.5 191.0 183.8 174.7 184.0 174.0 184.2 189.7 184.5 188.6 184.8 174.2 185.0 175.6 185.2 189.6 185.5 189.0 185.8 174.2 186.0 175.9 186.2 190.4 186.5 190.2 186.8 175.5 187.0 176.6 187.2 189.1 187.5 191.1 187.8 177.1 188.0 174.1 188.2 191.0 188.5 190.0 188.8 176.7 189.0 176.2 189.2 190.0 189.5 190.2 189.8 175.1 190.0 176.6 190.2 189.7 190.5 192.2 190.8 175.1 191.0 175.3 191.2 191.1 191.5 189.8 191.8 174.3 192.0 171.8 192.2 190.1 192.5 188.6 192.8 175.4 193.0 173.3 193.2 189.1 193.5 190.0 193.8 172.9 194.0 171.1 194.2 190.2 194.5 189.2 194.8 173.2 195.0 174.3 195.2 188.8 195.5 189.3 195.8 170.4 196.0 174.5 196.2 190.4 196.5 189.8 196.8 174.3 197.0 173.6 197.2 188.4 197.5 189.7 197.8 173.1 198.0 172.8 198.2 188.2 198.5 188.3 198.8 173.6 199.0 172.4 199.2 191.2 199.5 188.6 199.8 173.6 200.0 171.6 200.2 188.0 200.5 188.5 200.8 171.6 201.0 171.5 201.2 189.0 201.5 188.6 201.8 173.2 202.0 173.7 202.2 189.5 202.5 189.5 202.8 171.1 203.0 174.3 203.2 190.8 203.5 190.3 203.8 174.2 204.0 174.8 204.2 189.0 204.5 188.5 204.8 174.2 205.0 172.2 205.2 189.8 205.5 188.5 205.8 169.3 206.0 175.0 206.2 190.8 206.5 190.9 206.8 174.3 207.0 175.2 207.2 189.1 207.5 188.9 207.8 175.9 208.0 175.2 208.2 189.1 208.5 190.1 208.8 175.6 209.0 175.6 209.2 188.9 209.5 189.6 209.8 172.6 210.0 174.7 210.2 191.4 210.5 189.9 210.8 175.2 211.0 176.7 211.2 191.5 211.5 189.2 211.8 175.9 212.0 175.4 212.2 189.7 212.5 191.3 212.8 173.2 213.0 176.4 213.2 191.3 213.5 191.9 213.8 175.4 214.0 174.8 214.2 192.0 214.5 192.7 214.8 175.0 215.0 172.9 215.2 195.5 215.5 194.1 215.8 173.8 216.0 173.8 216.2 193.1 216.5 193.6 216.8 168.8 217.0 173.1 217.2 194.9 217.5 199.3 217.8 169.5 218.0 172.7 218.2 198.5 218.5 201.4 218.8 172.4 219.0 172.5 219.2 198.4 219.5 200.3 219.8 172.7 220.0 171.8 220.2 195.8 220.5 196.4 220.8 171.9 221.0 172.5 221.2 193.7 221.5 192.8 221.8 171.9 222.0 172.6 222.2 189.8 222.5 189.1 222.8 171.2 223.0 172.3 223.2 188.1 223.5 188.1 223.8 174.7 224.0 175.0 224.2 187.3 224.5 188.2 224.8 175.3 225.0 176.3 225.2 188.5 225.5 189.6 225.8 175.2 226.0 175.1 226.2 189.5 226.5 189.2 226.8 174.6 227.0 174.6 227.2 190.5 227.5 193.0 227.8 174.6 228.0 174.6 228.2 190.4 228.5 190.2 228.8 173.4 229.0 174.5 229.2 192.3 229.5 190.2 229.8 173.0 230.0 175.3 230.2 190.6 230.5 191.9 230.8 174.1 231.0 175.4 231.2 192.6 231.5 190.8 231.8 174.7 232.0 173.2 232.2 190.5 232.5 189.6 232.8 174.5 233.0 174.3 233.2 189.9 233.5 187.7 233.8 173.8 234.0 173.7 234.2 187.8 234.5 187.7 234.8 173.2 235.0 171.5 235.2 187.7 235.5 188.0 235.8 173.4 236.0 173.7 236.2 187.4 236.5 188.0 236.8 173.2 237.0 173.7 237.2 188.6 237.5 187.5 237.8 173.3 238.0 175.7 238.2 188.0 238.5 187.6 238.8 175.8 239.0 175.7 239.2 188.8 239.5 188.8 239.8 174.3 240.0 173.4 240.2 187.4 240.5 190.6 240.8 174.1 241.0 173.8 241.2 188.2 241.5 187.9 241.8 174.2 242.0 173.1 242.2 190.0 242.5 189.1 242.8 173.7 243.0 173.5 243.2 189.5 243.5 189.6 243.8 175.0 244.0 175.2 244.2 190.4 244.5 188.7 244.8 174.5 245.0 175.0 245.2 188.0 245.5 187.1 245.8 173.0 246.0 174.7 246.2 190.0 246.5 188.1 246.8 174.0 247.0 171.5 247.2 188.9 247.5 188.5 247.8 174.7 247.6 181.5" fill="none" stroke="#0000ff" stroke-width="0.6" stroke-opacity="0.8" stroke-linejoin="bevel"/>
<line x1="67.7" y1="195" x2="67.7" y2="211.5" stroke="#0000ff" stroke-width="0.7" stroke-opacity="0.55"/>
<line x1="170.5" y1="154" x2="170.5" y2="214.5" stroke="#0000ff" stroke-width="0.7" stroke-opacity="0.55"/>
<line x1="146.6" y1="195" x2="146.6" y2="210" stroke="#0000ff" stroke-width="0.7" stroke-opacity="0.55"/>
<line x1="240.6" y1="170" x2="240.6" y2="160.5" stroke="#0000ff" stroke-width="0.7" stroke-opacity="0.55"/>
<path d="M44.0 181.7 44.3 181.7 44.6 191.9 44.9 175.2 45.2 173.9 45.5 194.8 45.8 191.3 46.1 173.7 46.4 175.1 46.7 192.3 47.0 193.3 47.3 172.8 47.6 171.1 47.9 189.7 48.2 190.7 48.5 171.9 48.8 171.0 49.1 191.2 49.4 193.9 49.7 170.3 50.0 171.3 50.3 195.0 50.6 193.0 50.9 171.6 51.2 170.9 51.5 191.5 51.8 196.3 52.1 171.2 52.4 170.4 52.7 194.5 53.0 194.4 53.3 169.9 53.6 167.2 53.9 195.7 54.2 193.2 54.5 166.0 54.8 166.1 55.1 193.7 55.4 192.0 55.7 169.2 56.0 168.4 56.3 195.8 56.6 194.3 56.9 164.0 57.2 167.8 57.5 189.7 57.8 190.2 58.1 165.7 58.4 169.2 58.7 189.4 59.0 188.4 59.3 165.3 59.6 169.1 59.9 190.1 60.2 189.9 60.5 166.6 60.8 169.9 61.1 190.6 61.4 193.0 61.7 169.3 62.0 172.0 62.3 189.4 62.6 193.7 62.9 172.6 63.2 173.2 63.5 191.3 63.8 191.4 64.1 172.6 64.4 174.0 64.7 191.5 65.0 193.9 65.3 174.4 65.6 172.9 65.9 198.3 66.2 192.0 66.5 171.8 66.8 174.6 67.1 191.9 67.4 193.2 67.7 171.6 68.0 173.8 68.3 191.0 68.6 189.9 68.9 174.0 69.2 173.8 69.5 189.9 69.8 188.6 70.1 173.7 70.4 173.6 70.7 189.0 71.0 192.0 71.3 175.0 71.6 173.9 71.9 190.3 72.2 189.9 72.5 172.3 72.8 173.8 73.1 191.8 73.4 190.5 73.7 176.1 74.0 174.0 74.3 192.9 74.6 191.2 74.9 174.9 75.2 174.3 75.5 190.7 75.8 190.9 76.1 174.0 76.4 174.0 76.7 191.5 77.0 193.8 77.3 173.4 77.6 175.8 77.9 196.0 78.2 191.7 78.5 172.6 78.8 172.9 79.1 192.2 79.4 191.6 79.7 175.0 80.0 174.4 80.3 189.8 80.6 192.8 80.9 173.8 81.2 174.5 81.5 195.5 81.8 191.1 82.1 175.0 82.4 173.9 82.7 190.2 83.0 190.6 83.3 173.6 83.6 172.7 83.9 191.1 84.2 191.0 84.5 174.0 84.8 174.8 85.1 194.5 85.4 195.2 85.7 174.6 86.0 173.9 86.3 191.8 86.6 193.3 86.9 167.1 87.2 171.3 87.5 193.2 87.8 192.5 88.1 172.7 88.4 170.4 88.7 192.9 89.0 191.6 89.3 171.9 89.6 174.1 89.9 189.6 90.2 190.9 90.5 174.4 90.8 171.4 91.1 193.0 91.4 191.3 91.7 174.6 92.0 174.5 92.3 196.9 92.6 195.3 92.9 171.8 93.2 173.0 93.5 191.2 93.8 191.1 94.1 173.3 94.4 171.4 94.7 188.7 95.0 189.5 95.3 170.7 95.6 172.3 95.9 188.9 96.2 187.6 96.5 169.6 96.8 173.0 97.1 191.0 97.4 188.5 97.7 173.5 98.0 172.8 98.3 189.0 98.6 189.4 98.9 171.7 99.2 172.9 99.5 190.1 99.8 190.6 100.1 172.2 100.4 171.5 100.7 193.8 101.0 191.3 101.3 171.9 101.6 172.7 101.9 194.1 102.2 188.9 102.5 172.4 102.8 172.8 103.1 193.9 103.4 190.4 103.7 172.2 104.0 167.4 104.3 190.9 104.6 188.5 104.9 171.6 105.2 173.0 105.5 188.1 105.8 191.2 106.1 173.7 106.4 173.5 106.7 189.3 107.0 190.2 107.3 173.0 107.6 168.6 107.9 189.3 108.2 188.8 108.5 171.2 108.8 173.0 109.1 188.6 109.4 190.0 109.7 173.0 110.0 174.4 110.3 188.8 110.6 190.7 110.9 173.9 111.2 175.2 111.5 190.5 111.8 189.3 112.1 173.9 112.4 173.9 112.7 189.9 113.0 192.8 113.3 170.5 113.6 171.2 113.9 191.6 114.2 193.4 114.5 169.0 114.8 172.3 115.1 197.6 115.4 192.3 115.7 174.1 116.0 171.9 116.3 195.6 116.6 192.0 116.9 170.7 117.2 173.3 117.5 192.3 117.8 190.5 118.1 174.1 118.4 172.3 118.7 189.2 119.0 191.4 119.3 173.4 119.6 170.8 119.9 190.0 120.2 191.1 120.5 171.1 120.8 167.9 121.1 189.6 121.4 191.6 121.7 170.6 122.0 169.3 122.3 191.3 122.6 190.5 122.9 169.4 123.2 171.8 123.5 190.9 123.8 191.3 124.1 174.1 124.4 174.5 124.7 191.5 125.0 189.9 125.3 174.3 125.6 172.5 125.9 191.7 126.2 191.2 126.5 175.1 126.8 174.8 127.1 191.7 127.4 193.8 127.7 173.5 128.0 170.7 128.3 193.5 128.6 193.1 128.9 171.8 129.2 174.0 129.5 189.5 129.8 189.6 130.1 170.7 130.4 172.3 130.7 189.8 131.0 189.9 131.3 173.2 131.6 171.3 131.9 190.7 132.2 189.3 132.5 169.7 132.8 170.7 133.1 190.0 133.4 189.6 133.7 172.7 134.0 170.5 134.3 189.6 134.6 191.7 134.9 170.5 135.2 174.0 135.5 192.6 135.8 189.6 136.1 171.2 136.4 172.5 136.7 190.0 137.0 189.7 137.3 170.5 137.6 174.2 137.9 191.7 138.2 188.9 138.5 171.8 138.8 165.7 139.1 189.1 139.4 189.8 139.7 173.1 140.0 173.3 140.3 191.3 140.6 193.0 140.9 172.9 141.2 174.0 141.5 191.4 141.8 191.8 142.1 172.8 142.4 169.6 142.7 191.8 143.0 192.0 143.3 174.0 143.6 171.8 143.9 191.7 144.2 190.3 144.5 176.1 144.8 173.0 145.1 191.2 145.4 192.7 145.7 173.2 146.0 173.8 146.3 189.8 146.6 191.4 146.9 175.5 147.2 176.7 147.5 190.9 147.8 198.8 148.1 173.6 148.4 173.3 148.7 191.9 149.0 195.1 149.3 173.1 149.6 170.1 149.9 195.2 150.2 195.1 150.5 171.6 150.8 173.7 151.1 194.0 151.4 189.7 151.7 173.4 152.0 174.1 152.3 190.7 152.6 189.9 152.9 171.7 153.2 173.0 153.5 189.5 153.8 190.0 154.1 173.7 154.4 171.9 154.7 189.3 155.0 189.0 155.3 171.4 155.6 173.0 155.9 188.7 156.2 190.5 156.5 172.6 156.8 172.9 157.1 188.6 157.4 189.2 157.7 171.7 158.0 173.1 158.3 194.0 158.6 192.0 158.9 171.8 159.2 169.5 159.5 189.8 159.8 189.7 160.1 171.6 160.4 172.8 160.7 190.2 161.0 190.0 161.3 166.8 161.6 168.3 161.9 189.1 162.2 189.4 162.5 170.6 162.8 167.2 163.1 189.3 163.4 188.8 163.7 171.6 164.0 173.3 164.3 191.5 164.6 191.6 164.9 172.4 165.2 169.9 165.5 190.1 165.8 190.8 166.1 170.2 166.4 173.3 166.7 191.5 167.0 192.0 167.3 169.4 167.6 170.6 167.9 192.9 168.2 190.3 168.5 173.5 168.8 171.5 169.1 189.4 169.4 188.6 169.7 173.1 170.0 172.7 170.3 191.5 170.6 187.0 170.9 172.8 171.2 172.0 171.5 186.2 171.8 188.3 172.1 173.2 172.4 172.8 172.7 187.1 173.0 186.9 173.3 172.7 173.6 172.9 173.9 191.1 174.2 190.1 174.5 173.7 174.8 168.8 175.1 190.6 175.4 192.4 175.7 172.4 176.0 174.3 176.3 189.1 176.6 188.7 176.9 169.5 177.2 173.4 177.5 189.8 177.8 191.6 178.1 172.7 178.4 174.2 178.7 193.3 179.0 192.5 179.3 174.1 179.6 169.2 179.9 192.9 180.2 192.6 180.5 173.3 180.8 175.2 181.1 193.3 181.4 190.5 181.7 175.2 182.0 174.0 182.3 190.5 182.6 192.6 182.9 173.5 183.2 176.8 183.5 190.8 183.8 194.4 184.1 175.7 184.4 173.0 184.7 191.3 185.0 190.6 185.3 171.2 185.6 174.1 185.9 192.8 186.2 191.9 186.5 173.4 186.8 174.3 187.1 194.0 187.4 194.3 187.7 173.5 188.0 174.1 188.3 193.1 188.6 195.5 188.9 171.5 189.2 172.8 189.5 191.6 189.8 192.5 190.1 174.6 190.4 171.5 190.7 194.0 191.0 194.3 191.3 172.9 191.6 171.1 191.9 190.3 192.2 192.6 192.5 171.1 192.8 168.8 193.1 194.1 193.4 194.2 193.7 164.9 194.0 172.0 194.3 195.5 194.6 192.2 194.9 168.1 195.2 168.9 195.5 192.4 195.8 189.6 196.1 171.4 196.4 171.7 196.7 191.1 197.0 192.9 197.3 172.0 197.6 173.2 197.9 189.9 198.2 189.6 198.5 175.2 198.8 172.0 199.1 188.9 199.4 188.7 199.7 172.4 200.0 173.0 200.3 188.9 200.6 188.6 200.9 172.5 201.2 173.7 201.5 187.8 201.8 192.2 202.1 174.0 202.4 172.0 202.7 188.4 203.0 190.7 203.3 168.2 203.6 171.9 203.9 190.0 204.2 190.3 204.5 172.3 204.8 165.0 205.1 187.7 205.4 193.0 205.7 170.8 206.0 166.2 206.3 188.9 206.6 188.7 206.9 165.0 207.2 169.5 207.5 189.0 207.8 190.6 208.1 173.3 208.4 173.8 208.7 189.5 209.0 188.9 209.3 171.1 209.6 174.0 209.9 189.9 210.2 190.1 210.5 170.5 210.8 175.1 211.1 192.3 211.4 193.0 211.7 173.8 212.0 174.9 212.3 195.3 212.6 191.8 212.9 175.9 213.2 175.1 213.5 191.1 213.8 191.7 214.1 175.7 214.4 175.1 214.7 194.4 215.0 194.1 215.3 173.6 215.6 173.6 215.9 195.2 216.2 197.9 216.5 175.9 216.8 173.5 217.1 197.9 217.4 203.4 217.7 172.4 218.0 173.9 218.3 204.3 218.6 199.4 218.9 167.5 219.2 164.1 219.5 209.8 219.8 209.1 220.1 165.4 220.4 167.9 220.7 201.8 221.0 198.8 221.3 169.4 221.6 170.4 221.9 196.1 222.2 195.2 222.5 165.1 222.8 167.7 223.1 193.1 223.4 195.8 223.7 170.7 224.0 167.5 224.3 192.3 224.6 193.5 224.9 173.6 225.2 172.9 225.5 196.6 225.8 190.8 226.1 173.3 226.4 172.1 226.7 192.0 227.0 190.6 227.3 171.1 227.6 172.6 227.9 188.5 228.2 193.0 228.5 170.8 228.8 169.2 229.1 190.2 229.4 190.3 229.7 173.2 230.0 170.7 230.3 194.1 230.6 199.9 230.9 173.3 231.2 170.7 231.5 193.3 231.8 194.8 232.1 174.5 232.4 173.5 232.7 195.3 233.0 190.7 233.3 172.7 233.6 172.7 233.9 192.8 234.2 192.7 234.5 174.7 234.8 176.7 235.1 189.1 235.4 190.4 235.7 174.6 236.0 175.1 236.3 190.5 236.6 189.1 236.9 176.0 237.2 176.5 237.5 190.0 237.8 188.9 238.1 177.5 238.4 177.0 238.7 194.3 239.0 198.1 239.3 174.7 239.6 173.7 239.9 193.4 240.2 192.0 240.5 173.3 240.8 172.1 241.1 191.9 241.4 193.0 241.7 169.6 242.0 170.4 242.3 195.2 242.6 192.1 242.9 171.0 243.2 172.3 243.5 191.2 243.8 189.3 244.1 171.5 244.4 174.0 244.7 189.9 245.0 189.8 245.3 174.0 245.6 173.5 245.9 189.9 246.2 189.3 246.5 175.0 246.8 174.5 247.1 189.0 247.4 189.7 247.7 170.2 247.6 181.5" fill="none" stroke="#ff0000" stroke-width="0.6" stroke-opacity="0.58" stroke-linejoin="bevel"/>
<path d="M44.0 181.7 44.3 181.7 44.6 189.3 44.9 173.7 45.2 172.4 45.5 189.7 45.8 189.3 46.1 172.3 46.4 168.6 46.7 194.0 47.0 189.5 47.3 173.0 47.6 171.9 47.9 191.2 48.2 190.0 48.5 171.4 48.8 171.2 49.1 196.8 49.4 190.9 49.7 173.4 50.0 170.0 50.3 190.2 50.6 189.5 50.9 172.4 51.2 171.9 51.5 190.9 51.8 193.8 52.1 169.7 52.4 169.9 52.7 195.3 53.0 199.5 53.3 168.4 53.6 165.8 53.9 197.4 54.2 194.0 54.5 169.2 54.8 167.1 55.1 196.3 55.4 194.1 55.7 168.6 56.0 169.0 56.3 194.3 56.6 194.0 56.9 169.5 57.2 166.3 57.5 195.4 57.8 190.6 58.1 170.6 58.4 166.5 58.7 190.4 59.0 189.5 59.3 169.0 59.6 167.3 59.9 189.4 60.2 190.4 60.5 170.6 60.8 170.1 61.1 189.1 61.4 189.9 61.7 169.7 62.0 171.7 62.3 191.3 62.6 188.8 62.9 173.5 63.2 173.5 63.5 188.2 63.8 189.2 64.1 173.8 64.4 173.4 64.7 190.7 65.0 189.2 65.3 175.3 65.6 173.3 65.9 191.3 66.2 193.7 66.5 172.7 66.8 173.6 67.1 193.8 67.4 192.3 67.7 174.9 68.0 174.6 68.3 194.4 68.6 193.2 68.9 175.0 69.2 173.9 69.5 191.9 69.8 191.0 70.1 174.2 70.4 174.9 70.7 193.8 71.0 190.9 71.3 174.1 71.6 174.0 71.9 189.8 72.2 192.8 72.5 173.0 72.8 172.2 73.1 191.5 73.4 193.8 73.7 172.0 74.0 173.0 74.3 190.9 74.6 192.4 74.9 171.5 75.2 174.0 75.5 192.0 75.8 195.6 76.1 174.8 76.4 174.6 76.7 189.8 77.0 190.5 77.3 168.9 77.6 174.1 77.9 190.3 78.2 192.4 78.5 174.2 78.8 172.6 79.1 189.7 79.4 190.0 79.7 170.6 80.0 168.0 80.3 190.8 80.6 191.7 80.9 173.5 81.2 171.5 81.5 192.1 81.8 190.9 82.1 174.0 82.4 173.6 82.7 195.7 83.0 191.9 83.3 172.8 83.6 176.2 83.9 193.7 84.2 199.6 84.5 176.7 84.8 174.8 85.1 192.8 85.4 190.3 85.7 175.4 86.0 174.0 86.3 192.5 86.6 190.0 86.9 175.4 87.2 174.9 87.5 189.9 87.8 190.0 88.1 174.8 88.4 171.9 88.7 189.6 89.0 191.8 89.3 172.4 89.6 170.8 89.9 191.8 90.2 192.0 90.5 171.0 90.8 175.1 91.1 192.4 91.4 195.5 91.7 171.6 92.0 174.5 92.3 194.0 92.6 191.5 92.9 172.9 93.2 173.3 93.5 194.1 93.8 190.6 94.1 169.0 94.4 159.3 94.7 191.2 95.0 191.2 95.3 173.6 95.6 172.6 95.9 192.3 96.2 194.0 96.5 170.3 96.8 174.0 97.1 190.2 97.4 190.0 97.7 174.5 98.0 173.5 98.3 192.3 98.6 189.9 98.9 173.6 99.2 173.2 99.5 188.1 99.8 189.1 100.1 173.4 100.4 172.0 100.7 189.2 101.0 191.5 101.3 172.0 101.6 173.3 101.9 191.5 102.2 190.8 102.5 173.1 102.8 173.0 103.1 192.5 103.4 200.3 103.7 171.8 104.0 171.5 104.3 191.3 104.6 192.3 104.9 175.1 105.2 175.5 105.5 193.4 105.8 189.4 106.1 176.1 106.4 174.6 106.7 194.4 107.0 189.9 107.3 171.7 107.6 172.6 107.9 190.9 108.2 190.5 108.5 171.6 108.8 172.8 109.1 191.6 109.4 191.3 109.7 170.6 110.0 172.4 110.3 189.5 110.6 194.7 110.9 170.8 111.2 172.6 111.5 191.9 111.8 188.0 112.1 170.3 112.4 170.2 112.7 189.0 113.0 193.9 113.3 173.4 113.6 172.8 113.9 191.1 114.2 190.1 114.5 171.9 114.8 173.1 115.1 190.1 115.4 190.6 115.7 170.9 116.0 173.5 116.3 194.4 116.6 194.2 116.9 170.9 117.2 174.0 117.5 192.4 117.8 195.8 118.1 174.3 118.4 172.5 118.7 192.0 119.0 189.2 119.3 174.1 119.6 171.7 119.9 189.4 120.2 188.7 120.5 173.2 120.8 174.9 121.1 189.0 121.4 191.6 121.7 172.9 122.0 171.4 122.3 192.2 122.6 189.4 122.9 170.6 123.2 169.9 123.5 191.2 123.8 193.8 124.1 172.0 124.4 169.8 124.7 187.9 125.0 190.6 125.3 168.7 125.6 171.7 125.9 187.6 126.2 187.7 126.5 170.3 126.8 171.5 127.1 189.3 127.4 189.5 127.7 170.5 128.0 168.8 128.3 188.2 128.6 189.6 128.9 169.6 129.2 171.1 129.5 191.5 129.8 189.6 130.1 172.6 130.4 172.7 130.7 193.9 131.0 190.4 131.3 172.1 131.6 170.3 131.9 190.5 132.2 190.4 132.5 174.4 132.8 170.6 133.1 191.1 133.4 190.0 133.7 175.4 134.0 174.8 134.3 190.3 134.6 190.6 134.9 175.5 135.2 172.6 135.5 190.8 135.8 193.7 136.1 174.0 136.4 174.7 136.7 192.3 137.0 190.6 137.3 171.5 137.6 172.3 137.9 194.8 138.2 192.7 138.5 169.5 138.8 170.2 139.1 192.1 139.4 195.0 139.7 172.1 140.0 173.5 140.3 197.3 140.6 192.1 140.9 174.9 141.2 171.9 141.5 191.5 141.8 194.3 142.1 176.2 142.4 175.7 142.7 191.1 143.0 191.2 143.3 176.2 143.6 174.8 143.9 192.5 144.2 192.1 144.5 176.8 144.8 175.1 145.1 191.0 145.4 190.4 145.7 176.9 146.0 172.0 146.3 191.4 146.6 193.8 146.9 173.3 147.2 173.8 147.5 190.0 147.8 190.9 148.1 171.4 148.4 175.6 148.7 190.3 149.0 192.8 149.3 174.7 149.6 171.2 149.9 192.8 150.2 194.0 150.5 170.1 150.8 172.5 151.1 192.1 151.4 193.1 151.7 172.2 152.0 170.8 152.3 195.8 152.6 196.9 152.9 172.2 153.2 172.8 153.5 192.0 153.8 193.7 154.1 172.5 154.4 170.6 154.7 191.9 155.0 190.1 155.3 169.5 155.6 172.3 155.9 188.2 156.2 188.1 156.5 172.7 156.8 173.2 157.1 188.1 157.4 191.1 157.7 170.9 158.0 170.3 158.3 190.5 158.6 188.6 158.9 171.7 159.2 173.1 159.5 190.7 159.8 191.3 160.1 172.8 160.4 174.4 160.7 193.8 161.0 192.6 161.3 173.8 161.6 169.9 161.9 190.9 162.2 191.1 162.5 168.9 162.8 173.0 163.1 196.6 163.4 190.0 163.7 172.3 164.0 170.9 164.3 193.7 164.6 192.4 164.9 171.5 165.2 171.6 165.5 191.5 165.8 193.4 166.1 172.0 166.4 173.2 166.7 192.1 167.0 192.8 167.3 169.2 167.6 170.7 167.9 192.7 168.2 192.9 168.5 171.6 168.8 171.7 169.1 189.8 169.4 188.8 169.7 172.7 170.0 171.3 170.3 187.7 170.6 190.4 170.9 174.6 171.2 174.8 171.5 187.6 171.8 190.5 172.1 173.5 172.4 173.7 172.7 190.4 173.0 191.6 173.3 174.1 173.6 173.2 173.9 192.3 174.2 189.9 174.5 172.6 174.8 172.2 175.1 191.7 175.4 189.0 175.7 170.2 176.0 171.8 176.3 192.7 176.6 191.8 176.9 173.6 177.2 172.8 177.5 190.8 177.8 189.3 178.1 171.9 178.4 173.7 178.7 188.2 179.0 188.8 179.3 174.3 179.6 171.1 179.9 191.0 180.2 190.2 180.5 173.5 180.8 172.3 181.1 190.0 181.4 190.2 181.7 172.6 182.0 171.0 182.3 188.8 182.6 188.5 182.9 174.4 183.2 171.9 183.5 193.3 183.8 193.3 184.1 174.7 184.4 173.2 184.7 191.3 185.0 193.5 185.3 173.1 185.6 170.0 185.9 193.7 186.2 193.6 186.5 171.7 186.8 169.6 187.1 193.7 187.4 192.0 187.7 171.5 188.0 169.7 188.3 189.7 188.6 191.7 188.9 170.1 189.2 169.0 189.5 193.6 189.8 189.5 190.1 172.4 190.4 163.4 190.7 193.2 191.0 193.2 191.3 171.9 191.6 173.9 191.9 196.7 192.2 196.1 192.5 173.7 192.8 175.5 193.1 200.5 193.4 192.1 193.7 175.6 194.0 174.9 194.3 193.3 194.6 191.9 194.9 175.1 195.2 176.1 195.5 192.8 195.8 191.5 196.1 176.4 196.4 176.6 196.7 191.5 197.0 190.1 197.3 177.2 197.6 174.0 197.9 189.4 198.2 193.5 198.5 176.7 198.8 173.3 199.1 189.9 199.4 190.5 199.7 175.9 200.0 174.2 200.3 191.2 200.6 190.6 200.9 174.8 201.2 175.6 201.5 196.1 201.8 192.9 202.1 175.4 202.4 175.3 202.7 191.5 203.0 189.8 203.3 172.6 203.6 169.7 203.9 191.7 204.2 191.7 204.5 171.5 204.8 172.9 205.1 188.7 205.4 190.7 205.7 172.8 206.0 174.5 206.3 190.1 206.6 193.4 206.9 175.1 207.2 173.8 207.5 189.7 207.8 197.8 208.1 170.9 208.4 172.6 208.7 190.7 209.0 191.7 209.3 173.7 209.6 172.7 209.9 188.8 210.2 191.7 210.5 169.6 210.8 172.6 211.1 190.5 211.4 190.9 211.7 170.0 212.0 167.2 212.3 196.3 212.6 195.1 212.9 169.3 213.2 171.4 213.5 194.8 213.8 193.7 214.1 172.7 214.4 170.7 214.7 204.2 215.0 196.2 215.3 166.1 215.6 170.9 215.9 198.6 216.2 199.6 216.5 170.9 216.8 168.7 217.1 196.3 217.4 208.4 217.7 174.0 218.0 174.3 218.3 202.5 218.6 198.4 218.9 173.7 219.2 175.1 219.5 203.1 219.8 197.0 220.1 173.9 220.4 173.6 220.7 197.4 221.0 197.7 221.3 173.9 221.6 171.5 221.9 193.0 222.2 194.7 222.5 173.5 222.8 171.4 223.1 192.1 223.4 194.6 223.7 171.6 224.0 171.2 224.3 189.8 224.6 189.2 224.9 170.9 225.2 173.3 225.5 188.9 225.8 189.2 226.1 166.0 226.4 170.5 226.7 188.2 227.0 186.9 227.3 170.9 227.6 167.0 227.9 186.5 228.2 186.9 228.5 172.2 228.8 172.5 229.1 186.7 229.4 186.6 229.7 172.9 230.0 173.9 230.3 189.1 230.6 186.7 230.9 170.4 231.2 167.5 231.5 189.4 231.8 188.1 232.1 172.7 232.4 172.6 232.7 187.0 233.0 189.7 233.3 171.5 233.6 171.8 233.9 188.2 234.2 192.8 234.5 171.8 234.8 170.7 235.1 189.7 235.4 191.8 235.7 170.8 236.0 173.2 236.3 188.9 236.6 193.3 236.9 171.9 237.2 170.2 237.5 189.2 237.8 191.1 238.1 168.0 238.4 172.7 238.7 189.0 239.0 189.4 239.3 174.1 239.6 171.2 239.9 189.9 240.2 190.3 240.5 170.6 240.8 173.5 241.1 189.4 241.4 191.6 241.7 171.8 242.0 172.1 242.3 190.6 242.6 193.4 242.9 169.2 243.2 171.8 243.5 192.1 243.8 191.7 244.1 174.5 244.4 170.6 244.7 190.0 245.0 187.9 245.3 173.8 245.6 170.2 245.9 190.5 246.2 190.6 246.5 172.7 246.8 174.2 247.1 187.3 247.4 190.6 247.7 173.2 247.6 181.5" fill="none" stroke="#ff0000" stroke-width="0.6" stroke-opacity="0.58" stroke-linejoin="bevel"/>
<line x1="216.5" y1="195" x2="216.5" y2="213" stroke="#ff0000" stroke-width="0.7" stroke-opacity="0.6"/>
<line x1="218" y1="195" x2="218" y2="214" stroke="#ff0000" stroke-width="0.7" stroke-opacity="0.6"/>
<line x1="219.5" y1="195" x2="219.5" y2="212" stroke="#ff0000" stroke-width="0.7" stroke-opacity="0.6"/>
<line x1="47" y1="190" x2="47" y2="201.5" stroke="#ff0000" stroke-width="0.7" stroke-opacity="0.6"/>
</g>
<rect x="33.5" y="151" width="225" height="66.2" fill="none" stroke="#cfcfcf" stroke-width="0.9"/>
<text x="43.7" y="223" font-size="5.86" text-anchor="middle" fill="#333333" stroke="#333333" stroke-width="0.08" textLength="3.24" lengthAdjust="spacingAndGlyphs">0</text>
<text x="71.79" y="223" font-size="5.86" text-anchor="middle" fill="#333333" stroke="#333333" stroke-width="0.08" textLength="6.49" lengthAdjust="spacingAndGlyphs">50</text>
<text x="99.87" y="223" font-size="5.86" text-anchor="middle" fill="#333333" stroke="#333333" stroke-width="0.08" textLength="9.73" lengthAdjust="spacingAndGlyphs">100</text>
<text x="127.96" y="223" font-size="5.86" text-anchor="middle" fill="#333333" stroke="#333333" stroke-width="0.08" textLength="9.73" lengthAdjust="spacingAndGlyphs">150</text>
<text x="156.04" y="223" font-size="5.86" text-anchor="middle" fill="#333333" stroke="#333333" stroke-width="0.08" textLength="9.73" lengthAdjust="spacingAndGlyphs">200</text>
<text x="184.13" y="223" font-size="5.86" text-anchor="middle" fill="#333333" stroke="#333333" stroke-width="0.08" textLength="9.73" lengthAdjust="spacingAndGlyphs">250</text>
<text x="212.21" y="223" font-size="5.86" text-anchor="middle" fill="#333333" stroke="#333333" stroke-width="0.08" textLength="9.73" lengthAdjust="spacingAndGlyphs">300</text>
<text x="240.3" y="223" font-size="5.86" text-anchor="middle" fill="#333333" stroke="#333333" stroke-width="0.08" textLength="9.73" lengthAdjust="spacingAndGlyphs">350</text>
<text x="31.2" y="154.44" font-size="5.86" text-anchor="end" fill="#333333" stroke="#333333" stroke-width="0.08" textLength="3.24" lengthAdjust="spacingAndGlyphs">2</text>
<text x="31.2" y="167.96" font-size="5.86" text-anchor="end" fill="#333333" stroke="#333333" stroke-width="0.08" textLength="3.24" lengthAdjust="spacingAndGlyphs">1</text>
<text x="31.2" y="181.49" font-size="5.86" text-anchor="end" fill="#333333" stroke="#333333" stroke-width="0.08" textLength="3.24" lengthAdjust="spacingAndGlyphs">0</text>
<text x="31.2" y="195.01" font-size="5.86" text-anchor="end" fill="#333333" stroke="#333333" stroke-width="0.08" textLength="7.52" lengthAdjust="spacingAndGlyphs">−1</text>
<text x="31.2" y="208.54" font-size="5.86" text-anchor="end" fill="#333333" stroke="#333333" stroke-width="0.08" textLength="7.52" lengthAdjust="spacingAndGlyphs">−2</text>
<text transform="translate(10.64,141.1) scale(0.97,1)" x="0" y="0" font-size="17" fill="#000000">D</text>
<rect x="33.6" y="129" width="90.2" height="17.3" fill="#ffffff" stroke="#ececec" stroke-width="0.6" rx="1.2"/>
<line x1="35.8" y1="134" x2="47.3" y2="134" stroke="#0000ff" stroke-width="0.9" stroke-opacity="0.6"/>
<line x1="35.8" y1="142.2" x2="47.3" y2="142.2" stroke="#ff0000" stroke-width="0.9" stroke-opacity="0.6"/>
<text x="51.9" y="136.13" font-size="6.44" text-anchor="start" fill="#262626" stroke="#262626" stroke-width="0.08" textLength="59.86" lengthAdjust="spacingAndGlyphs">Participant ID=5 (TD)</text>
<text x="51.9" y="144.33" font-size="6.44" text-anchor="start" fill="#262626" stroke="#262626" stroke-width="0.08" textLength="69.14" lengthAdjust="spacingAndGlyphs">Participant ID=11 (DMD)</text>
<text x="146" y="235.6" font-size="8.74" text-anchor="middle" fill="#262626" stroke="#262626" stroke-width="0.105" textLength="39.76" lengthAdjust="spacingAndGlyphs">Time (sec)</text>
<text transform="translate(16.9,183.8) rotate(-90)" x="0" y="0" font-size="7.7" text-anchor="middle" fill="#262626" stroke="#262626" stroke-width="0.092" textLength="53.25" lengthAdjust="spacingAndGlyphs">Acceleration (g)</text>
<rect x="297.5" y="151" width="224.8" height="66.2" fill="#ffffff" stroke="none" stroke-width="1"/>
<line x1="307.6" y1="151" x2="307.6" y2="217.2" stroke="#e9e9e9" stroke-width="0.7"/>
<line x1="335.57" y1="151" x2="335.57" y2="217.2" stroke="#e9e9e9" stroke-width="0.7"/>
<line x1="363.54" y1="151" x2="363.54" y2="217.2" stroke="#e9e9e9" stroke-width="0.7"/>
<line x1="391.51" y1="151" x2="391.51" y2="217.2" stroke="#e9e9e9" stroke-width="0.7"/>
<line x1="419.49" y1="151" x2="419.49" y2="217.2" stroke="#e9e9e9" stroke-width="0.7"/>
<line x1="447.46" y1="151" x2="447.46" y2="217.2" stroke="#e9e9e9" stroke-width="0.7"/>
<line x1="475.43" y1="151" x2="475.43" y2="217.2" stroke="#e9e9e9" stroke-width="0.7"/>
<line x1="503.4" y1="151" x2="503.4" y2="217.2" stroke="#e9e9e9" stroke-width="0.7"/>
<line x1="297.5" y1="159.8" x2="522.3" y2="159.8" stroke="#e9e9e9" stroke-width="0.7"/>
<line x1="297.5" y1="170.44" x2="522.3" y2="170.44" stroke="#e9e9e9" stroke-width="0.7"/>
<line x1="297.5" y1="181.08" x2="522.3" y2="181.08" stroke="#e9e9e9" stroke-width="0.7"/>
<line x1="297.5" y1="191.72" x2="522.3" y2="191.72" stroke="#e9e9e9" stroke-width="0.7"/>
<line x1="297.5" y1="202.36" x2="522.3" y2="202.36" stroke="#e9e9e9" stroke-width="0.7"/>
<line x1="297.5" y1="213" x2="522.3" y2="213" stroke="#e9e9e9" stroke-width="0.7"/>
<clipPath id="cp297"><rect x="297.5" y="151" width="224.79999999999995" height="66.19999999999999"/></clipPath><g clip-path="url(#cp297)">
<path d="M308.0 180.7 308.2 180.7 308.5 187.4 308.8 175.0 309.0 170.0 309.2 189.6 309.5 189.1 309.8 169.2 310.0 169.9 310.2 190.4 310.5 188.6 310.8 171.6 311.0 169.2 311.2 192.4 311.5 190.6 311.8 172.6 312.0 168.7 312.2 195.9 312.5 191.9 312.8 168.8 313.0 167.3 313.2 192.4 313.5 192.0 313.8 166.5 314.0 172.0 314.2 199.9 314.5 195.8 314.8 172.9 315.0 171.6 315.2 191.2 315.5 189.8 315.8 167.2 316.0 172.9 316.2 191.5 316.5 200.5 316.8 173.4 317.0 174.3 317.2 190.7 317.5 191.2 317.8 169.2 318.0 173.0 318.2 188.8 318.5 187.5 318.8 172.8 319.0 169.0 319.2 188.9 319.5 192.6 319.8 172.6 320.0 169.5 320.2 190.2 320.5 187.9 320.8 164.9 321.0 166.0 321.2 193.2 321.5 189.1 321.8 171.2 322.0 173.7 322.2 198.1 322.5 201.6 322.8 165.6 323.0 175.9 323.2 201.5 323.5 192.5 323.8 173.2 324.0 175.9 324.2 196.0 324.5 190.3 324.8 174.1 325.0 175.5 325.2 190.1 325.5 194.1 325.8 175.9 326.0 175.0 326.2 191.6 326.5 191.4 326.8 171.6 327.0 173.8 327.2 193.2 327.5 198.3 327.8 168.4 328.0 172.2 328.2 191.7 328.5 195.2 328.8 171.5 329.0 170.8 329.2 191.5 329.5 192.0 329.8 167.9 330.0 172.1 330.2 194.9 330.5 189.6 330.8 170.1 331.0 172.2 331.2 190.6 331.5 190.0 331.8 170.6 332.0 171.8 332.2 196.8 332.5 197.2 332.8 175.0 333.0 175.7 333.2 191.1 333.5 196.6 333.8 175.7 334.0 174.8 334.2 195.9 334.5 197.5 334.8 172.6 335.0 175.1 335.2 191.7 335.5 191.8 335.8 170.8 336.0 174.1 336.2 193.0 336.5 191.4 336.8 168.7 337.0 166.0 337.2 190.9 337.5 190.3 337.8 169.3 338.0 169.8 338.2 188.7 338.5 189.4 338.8 165.0 339.0 173.4 339.2 190.3 339.5 188.7 339.8 174.8 340.0 173.6 340.2 191.1 340.5 189.3 340.8 175.2 341.0 175.2 341.2 194.1 341.5 192.1 341.8 175.6 342.0 175.5 342.2 193.4 342.5 195.8 342.8 174.2 343.0 173.6 343.2 191.3 343.5 191.8 343.8 176.7 344.0 173.8 344.2 189.1 344.5 194.7 344.8 174.6 345.0 171.6 345.2 194.6 345.5 193.5 345.8 172.3 346.0 173.0 346.2 191.7 346.5 192.1 346.8 168.9 347.0 170.8 347.2 188.8 347.5 188.3 347.8 169.3 348.0 172.7 348.2 194.9 348.5 193.0 348.8 171.5 349.0 171.2 349.2 190.1 349.5 201.1 349.8 172.4 350.0 167.8 350.2 193.8 350.5 196.0 350.8 173.8 351.0 172.4 351.2 194.1 351.5 190.5 351.8 173.9 352.0 174.3 352.2 189.9 352.5 190.0 352.8 174.2 353.0 170.6 353.2 190.2 353.5 190.7 353.8 174.4 354.0 168.3 354.2 192.3 354.5 192.0 354.8 171.5 355.0 171.3 355.2 192.0 355.5 195.4 355.8 171.6 356.0 166.2 356.2 194.5 356.5 193.9 356.8 174.5 357.0 169.8 357.2 190.3 357.5 190.7 357.8 169.8 358.0 172.4 358.2 190.1 358.5 189.2 358.8 173.6 359.0 171.9 359.2 187.5 359.5 189.4 359.8 170.7 360.0 165.4 360.2 190.4 360.5 196.3 360.8 166.6 361.0 169.5 361.2 192.3 361.5 191.0 361.8 170.8 362.0 166.7 362.2 206.3 362.5 192.0 362.8 171.4 363.0 173.9 363.2 194.9 363.5 200.1 363.8 175.2 364.0 175.2 364.2 194.6 364.5 197.0 364.8 172.7 365.0 175.5 365.2 193.9 365.5 191.7 365.8 174.3 366.0 176.2 366.2 193.2 366.5 195.1 366.8 175.2 367.0 172.7 367.2 190.3 367.5 191.9 367.8 170.7 368.0 172.5 368.2 191.9 368.5 191.3 368.8 174.3 369.0 170.8 369.2 190.4 369.5 196.8 369.8 171.3 370.0 172.2 370.2 190.3 370.5 189.9 370.8 169.3 371.0 164.2 371.2 192.0 371.5 189.4 371.8 168.2 372.0 171.3 372.2 188.1 372.5 186.9 372.8 172.3 373.0 174.2 373.2 186.8 373.5 188.5 373.8 170.6 374.0 174.8 374.2 187.8 374.5 187.6 374.8 176.0 375.0 172.3 375.2 193.6 375.5 190.7 375.8 174.7 376.0 168.9 376.2 193.6 376.5 195.3 376.8 173.4 377.0 165.3 377.2 198.9 377.5 197.7 377.8 171.1 378.0 166.6 378.2 193.8 378.5 194.2 378.8 170.0 379.0 172.3 379.2 192.6 379.5 192.3 379.8 172.5 380.0 175.3 380.2 194.9 380.5 188.9 380.8 169.9 381.0 175.1 381.2 190.3 381.5 194.5 381.8 175.0 382.0 174.1 382.2 189.9 382.5 187.5 382.8 173.1 383.0 172.2 383.2 188.5 383.5 188.3 383.8 174.1 384.0 170.4 384.2 188.0 384.5 189.8 384.8 170.9 385.0 171.6 385.2 187.7 385.5 186.5 385.8 163.5 386.0 168.4 386.2 188.2 386.5 187.1 386.8 169.1 387.0 172.8 387.2 192.5 387.5 187.3 387.8 170.4 388.0 171.1 388.2 186.6 388.5 190.7 388.8 171.5 389.0 174.3 389.2 187.0 389.5 188.7 389.8 170.2 390.0 171.6 390.2 187.4 390.5 197.5 390.8 168.7 391.0 171.9 391.2 190.9 391.5 192.2 391.8 170.5 392.0 170.2 392.2 191.3 392.5 189.7 392.8 171.6 393.0 170.5 393.2 194.7 393.5 191.9 393.8 172.0 394.0 166.6 394.2 187.3 394.5 188.8 394.8 167.4 395.0 169.4 395.2 190.2 395.5 194.4 395.8 170.9 396.0 171.0 396.2 188.1 396.5 188.1 396.8 170.9 397.0 173.3 397.2 187.9 397.5 189.9 397.8 171.8 398.0 172.6 398.2 188.2 398.5 189.6 398.8 172.4 399.0 171.6 399.2 186.5 399.5 194.1 399.8 168.7 400.0 169.8 400.2 190.0 400.5 187.6 400.8 172.0 401.0 171.6 401.2 193.0 401.5 189.7 401.8 172.8 402.0 172.6 402.2 188.9 402.5 195.8 402.8 171.5 403.0 157.4 403.2 195.6 403.5 194.6 403.8 170.2 404.0 172.4 404.2 189.1 404.5 193.4 404.8 167.3 405.0 168.7 405.2 190.0 405.5 188.1 405.8 173.9 406.0 171.3 406.2 192.7 406.5 188.8 406.8 166.8 407.0 172.4 407.2 193.0 407.5 190.5 407.8 169.4 408.0 175.8 408.2 192.8 408.5 188.9 408.8 174.0 409.0 172.1 409.2 190.0 409.5 192.4 409.8 172.5 410.0 164.4 410.2 191.4 410.5 191.8 410.8 169.7 411.0 173.9 411.2 191.2 411.5 190.9 411.8 171.4 412.0 173.7 412.2 189.2 412.5 190.3 412.8 173.9 413.0 173.4 413.2 190.5 413.5 192.3 413.8 166.5 414.0 167.2 414.2 195.8 414.5 189.9 414.8 170.9 415.0 172.2 415.2 192.5 415.5 194.5 415.8 173.9 416.0 174.3 416.2 198.8 416.5 195.0 416.8 172.9 417.0 171.5 417.2 199.4 417.5 193.9 417.8 170.2 418.0 169.9 418.2 193.8 418.5 191.0 418.8 173.8 419.0 172.8 419.2 196.9 419.5 190.8 419.8 166.4 420.0 168.4 420.2 194.6 420.5 191.0 420.8 167.9 421.0 171.2 421.2 192.5 421.5 191.5 421.8 166.8 422.0 169.7 422.2 191.6 422.5 196.6 422.8 172.7 423.0 171.7 423.2 199.6 423.5 192.7 423.8 170.0 424.0 168.8 424.2 191.2 424.5 189.8 424.8 170.0 425.0 170.2 425.2 195.5 425.5 191.0 425.8 169.2 426.0 170.2 426.2 190.4 426.5 188.2 426.8 168.7 427.0 170.4 427.2 189.5 427.5 188.7 427.8 171.3 428.0 167.5 428.2 187.2 428.5 188.2 428.8 165.7 429.0 170.4 429.2 187.0 429.5 187.6 429.8 172.1 430.0 173.2 430.2 186.8 430.5 196.5 430.8 175.4 431.0 175.7 431.2 189.7 431.5 192.5 431.8 173.0 432.0 174.3 432.2 189.6 432.5 196.9 432.8 173.3 433.0 170.2 433.2 198.2 433.5 203.3 433.8 170.2 434.0 168.7 434.2 200.5 434.5 194.6 434.8 173.2 435.0 168.7 435.2 194.9 435.5 191.5 435.8 167.3 436.0 167.2 436.2 195.1 436.5 192.4 436.8 171.1 437.0 174.2 437.2 192.9 437.5 192.0 437.8 168.8 438.0 168.6 438.2 194.2 438.5 192.0 438.8 172.9 439.0 171.9 439.2 191.6 439.5 190.8 439.8 173.3 440.0 172.9 440.2 190.2 440.5 199.8 440.8 175.4 441.0 173.8 441.2 191.4 441.5 192.3 441.8 174.4 442.0 172.1 442.2 195.3 442.5 191.3 442.8 171.5 443.0 171.3 443.2 188.6 443.5 189.3 443.8 170.0 444.0 170.1 444.2 187.9 444.5 188.6 444.8 171.8 445.0 169.4 445.2 193.9 445.5 191.9 445.8 171.7 446.0 169.1 446.2 187.3 446.5 191.7 446.8 172.8 447.0 174.0 447.2 191.3 447.5 187.7 447.8 171.6 448.0 174.1 448.2 189.9 448.5 193.2 448.8 170.2 449.0 175.2 449.2 190.3 449.5 197.0 449.8 174.3 450.0 174.3 450.2 192.4 450.5 199.3 450.8 174.1 451.0 175.0 451.2 193.2 451.5 193.1 451.8 170.3 452.0 172.8 452.2 194.7 452.5 199.1 452.8 169.5 453.0 170.3 453.2 191.2 453.5 194.0 453.8 170.0 454.0 171.6 454.2 190.8 454.5 195.4 454.8 172.7 455.0 173.0 455.2 189.8 455.5 189.9 455.8 170.1 456.0 173.3 456.2 187.6 456.5 190.8 456.8 168.1 457.0 170.6 457.2 194.4 457.5 189.4 457.8 173.4 458.0 175.3 458.2 189.5 458.5 187.3 458.8 171.9 459.0 172.2 459.2 185.3 459.5 188.0 459.8 171.7 460.0 174.2 460.2 188.2 460.5 190.3 460.8 169.2 461.0 175.5 461.2 189.9 461.5 189.2 461.8 176.3 462.0 174.5 462.2 187.4 462.5 188.6 462.8 175.4 463.0 173.8 463.2 192.9 463.5 190.7 463.8 177.1 464.0 175.8 464.2 190.9 464.5 194.0 464.8 174.1 465.0 173.9 465.2 190.4 465.5 191.2 465.8 175.4 466.0 174.3 466.2 194.2 466.5 190.9 466.8 169.9 467.0 171.6 467.2 197.1 467.5 193.8 467.8 171.7 468.0 171.9 468.2 193.7 468.5 193.1 468.8 173.7 469.0 171.2 469.2 195.1 469.5 192.2 469.8 170.9 470.0 173.5 470.2 194.1 470.5 188.2 470.8 173.1 471.0 171.2 471.2 187.6 471.5 187.5 471.8 174.4 472.0 173.6 472.2 187.5 472.5 188.2 472.8 173.2 473.0 174.7 473.2 190.3 473.5 194.4 473.8 172.1 474.0 174.6 474.2 191.8 474.5 201.6 474.8 173.8 475.0 172.5 475.2 190.8 475.5 190.9 475.8 168.5 476.0 164.4 476.2 192.8 476.5 194.4 476.8 169.8 477.0 165.2 477.2 190.7 477.5 190.4 477.8 167.1 478.0 165.9 478.2 191.7 478.5 195.2 478.8 163.0 479.0 172.9 479.2 201.6 479.5 189.9 479.8 172.7 480.0 172.5 480.2 191.5 480.5 192.2 480.8 174.3 481.0 172.4 481.2 188.6 481.5 189.4 481.8 172.3 482.0 171.0 482.2 188.6 482.5 188.0 482.8 170.6 483.0 174.7 483.2 190.4 483.5 191.9 483.8 173.9 484.0 173.4 484.2 190.0 484.5 189.8 484.8 168.9 485.0 170.1 485.2 193.4 485.5 192.7 485.8 172.7 486.0 171.2 486.2 193.5 486.5 196.4 486.8 168.1 487.0 171.5 487.2 188.2 487.5 189.0 487.8 171.2 488.0 164.2 488.2 189.0 488.5 192.9 488.8 170.0 489.0 171.8 489.2 192.8 489.5 193.9 489.8 169.7 490.0 171.8 490.2 189.4 490.5 198.0 490.8 168.9 491.0 172.9 491.2 190.8 491.5 192.9 491.8 166.5 492.0 169.7 492.2 189.2 492.5 191.5 492.8 170.8 493.0 171.1 493.2 195.6 493.5 193.2 493.8 168.6 494.0 170.6 494.2 189.3 494.5 191.2 494.8 169.8 495.0 169.9 495.2 189.0 495.5 190.1 495.8 174.7 496.0 171.6 496.2 192.3 496.5 190.0 496.8 174.6 497.0 173.6 497.2 187.9 497.5 190.5 497.8 172.9 498.0 174.2 498.2 191.8 498.5 190.7 498.8 172.2 499.0 171.0 499.2 191.3 499.5 190.8 499.8 173.5 500.0 172.7 500.2 190.7 500.5 188.5 500.8 170.8 501.0 172.0 501.2 190.7 501.5 191.4 501.8 172.4 502.0 169.5 502.2 191.5 502.5 197.7 502.8 168.3 503.0 166.3 503.2 192.4 503.5 189.2 503.8 168.2 504.0 170.1 504.2 191.4 504.5 188.7 504.8 171.8 505.0 170.1 505.2 188.2 505.5 187.7 505.8 170.7 506.0 171.6 506.2 193.0 506.5 190.9 506.8 169.5 507.0 168.6 507.2 193.9 507.5 194.9 507.8 168.7 508.0 171.9 508.2 194.7 508.5 193.3 508.8 167.5 509.0 170.6 509.2 199.4 509.5 194.1 509.8 168.8 510.0 171.3 510.2 191.0 510.5 191.4 510.8 169.9 511.0 170.3 511.2 189.7 511.5 194.0 511.8 173.2 511.7 181.2" fill="none" stroke="#0000ff" stroke-width="0.6" stroke-opacity="0.42" stroke-linejoin="bevel"/>
<path d="M308.0 180.7 308.2 180.7 308.5 191.1 308.8 171.0 309.0 173.7 309.2 190.9 309.5 192.4 309.8 171.8 310.0 168.1 310.2 191.2 310.5 191.1 310.8 172.3 311.0 168.0 311.2 194.3 311.5 197.1 311.8 169.0 312.0 169.5 312.2 199.3 312.5 191.6 312.8 168.1 313.0 172.1 313.2 193.4 313.5 192.9 313.8 172.7 314.0 170.4 314.2 189.8 314.5 188.5 314.8 171.0 315.0 175.6 315.2 190.6 315.5 189.4 315.8 174.7 316.0 176.6 316.2 189.3 316.5 186.9 316.8 174.0 317.0 176.1 317.2 189.3 317.5 190.3 317.8 175.1 318.0 175.7 318.2 187.9 318.5 188.4 318.8 172.8 319.0 173.3 319.2 187.3 319.5 186.4 319.8 172.0 320.0 174.0 320.2 187.7 320.5 186.9 320.8 168.3 321.0 169.5 321.2 187.3 321.5 189.9 321.8 167.7 322.0 162.3 322.2 191.5 322.5 191.1 322.8 168.4 323.0 164.8 323.2 190.5 323.5 200.0 323.8 170.4 324.0 172.2 324.2 192.2 324.5 193.8 324.8 171.8 325.0 171.9 325.2 189.3 325.5 188.5 325.8 175.2 326.0 174.1 326.2 191.2 326.5 189.7 326.8 172.9 327.0 174.6 327.2 195.6 327.5 193.7 327.8 171.5 328.0 174.0 328.2 192.2 328.5 189.5 328.8 173.6 329.0 167.9 329.2 192.4 329.5 189.6 329.8 173.7 330.0 174.3 330.2 193.9 330.5 191.4 330.8 173.1 331.0 174.6 331.2 189.5 331.5 188.7 331.8 173.9 332.0 172.4 332.2 190.4 332.5 189.7 332.8 173.3 333.0 172.0 333.2 186.5 333.5 187.4 333.8 174.4 334.0 170.9 334.2 188.9 334.5 188.3 334.8 174.5 335.0 174.8 335.2 187.3 335.5 188.0 335.8 169.9 336.0 171.9 336.2 189.6 336.5 192.3 336.8 174.5 337.0 173.0 337.2 192.1 337.5 190.1 337.8 173.6 338.0 173.8 338.2 187.8 338.5 190.2 338.8 176.8 339.0 176.9 339.2 194.5 339.5 195.7 339.8 176.6 340.0 173.5 340.2 188.8 340.5 187.4 340.8 176.3 341.0 176.2 341.2 190.3 341.5 192.3 341.8 175.9 342.0 176.0 342.2 194.1 342.5 188.5 342.8 175.0 343.0 173.4 343.2 192.2 343.5 188.3 343.8 171.7 344.0 173.1 344.2 192.4 344.5 191.0 344.8 170.7 345.0 169.6 345.2 190.7 345.5 191.3 345.8 171.3 346.0 167.0 346.2 191.5 346.5 193.1 346.8 173.1 347.0 167.4 347.2 192.0 347.5 198.2 347.8 170.6 348.0 169.2 348.2 194.3 348.5 192.6 348.8 170.7 349.0 172.1 349.2 192.1 349.5 190.6 349.8 173.1 350.0 170.3 350.2 194.2 350.5 192.7 350.8 170.9 351.0 170.2 351.2 196.9 351.5 191.7 351.8 174.1 352.0 168.6 352.2 195.2 352.5 190.5 352.8 169.0 353.0 173.7 353.2 194.1 353.5 192.1 353.8 172.7 354.0 173.1 354.2 189.7 354.5 191.6 354.8 170.1 355.0 168.9 355.2 188.6 355.5 190.2 355.8 170.9 356.0 173.9 356.2 191.7 356.5 190.2 356.8 171.4 357.0 172.4 357.2 188.6 357.5 194.2 357.8 173.7 358.0 171.9 358.2 201.0 358.5 187.3 358.8 171.4 359.0 175.0 359.2 188.8 359.5 189.5 359.8 174.8 360.0 173.3 360.2 189.8 360.5 191.2 360.8 169.3 361.0 170.7 361.2 190.0 361.5 195.7 361.8 173.4 362.0 172.9 362.2 188.2 362.5 193.2 362.8 166.3 363.0 171.0 363.2 191.5 363.5 193.5 363.8 172.2 364.0 170.3 364.2 190.2 364.5 188.1 364.8 172.3 365.0 170.9 365.2 191.1 365.5 190.0 365.8 169.8 366.0 172.7 366.2 190.8 366.5 193.3 366.8 164.9 367.0 171.1 367.2 193.8 367.5 188.4 367.8 171.4 368.0 174.5 368.2 198.6 368.5 189.5 368.8 175.3 369.0 175.0 369.2 189.2 369.5 187.4 369.8 175.0 370.0 173.6 370.2 188.3 370.5 187.7 370.8 175.2 371.0 175.7 371.2 190.0 371.5 190.8 371.8 173.5 372.0 174.7 372.2 192.6 372.5 190.1 372.8 175.6 373.0 175.2 373.2 191.9 373.5 192.3 373.8 175.3 374.0 172.0 374.2 194.9 374.5 194.8 374.8 172.0 375.0 168.6 375.2 192.0 375.5 196.4 375.8 170.1 376.0 163.2 376.2 195.5 376.5 191.2 376.8 173.2 377.0 171.2 377.2 191.9 377.5 192.0 377.8 168.8 378.0 171.4 378.2 192.7 378.5 195.6 378.8 167.1 379.0 168.0 379.2 191.7 379.5 189.2 379.8 166.4 380.0 173.0 380.2 187.3 380.5 189.4 380.8 172.4 381.0 169.4 381.2 188.0 381.5 190.3 381.8 171.8 382.0 172.0 382.2 189.1 382.5 189.4 382.8 172.7 383.0 166.9 383.2 189.7 383.5 189.5 383.8 170.2 384.0 171.6 384.2 191.4 384.5 190.0 384.8 160.1 385.0 171.9 385.2 192.0 385.5 191.7 385.8 168.5 386.0 174.3 386.2 190.6 386.5 191.8 386.8 172.0 387.0 173.7 387.2 192.7 387.5 189.7 387.8 173.5 388.0 169.4 388.2 188.6 388.5 191.2 388.8 171.5 389.0 173.2 389.2 195.0 389.5 191.9 389.8 171.2 390.0 175.9 390.2 193.8 390.5 191.3 390.8 174.9 391.0 168.6 391.2 192.1 391.5 194.6 391.8 172.6 392.0 176.1 392.2 199.5 392.5 193.3 392.8 172.8 393.0 174.0 393.2 200.6 393.5 193.4 393.8 167.3 394.0 173.9 394.2 198.7 394.5 198.5 394.8 172.5 395.0 166.8 395.2 191.9 395.5 192.2 395.8 172.5 396.0 173.7 396.2 190.0 396.5 195.7 396.8 170.9 397.0 171.8 397.2 189.2 397.5 188.8 397.8 173.3 398.0 172.3 398.2 188.8 398.5 189.2 398.8 173.4 399.0 174.1 399.2 190.9 399.5 191.1 399.8 171.6 400.0 168.0 400.2 190.2 400.5 192.5 400.8 170.1 401.0 170.8 401.2 195.0 401.5 188.5 401.8 170.1 402.0 171.0 402.2 188.1 402.5 188.1 402.8 172.0 403.0 167.2 403.2 190.8 403.5 190.9 403.8 167.5 404.0 166.7 404.2 191.3 404.5 190.4 404.8 171.1 405.0 169.1 405.2 189.5 405.5 192.5 405.8 168.9 406.0 171.3 406.2 192.9 406.5 194.1 406.8 170.4 407.0 168.1 407.2 190.8 407.5 192.4 407.8 170.2 408.0 171.9 408.2 196.0 408.5 194.1 408.8 172.6 409.0 167.8 409.2 200.2 409.5 191.0 409.8 172.1 410.0 168.8 410.2 191.1 410.5 189.7 410.8 172.3 411.0 174.1 411.2 190.7 411.5 188.0 411.8 172.3 412.0 171.7 412.2 190.6 412.5 187.0 412.8 173.2 413.0 170.5 413.2 185.1 413.5 186.6 413.8 164.7 414.0 164.6 414.2 192.8 414.5 187.6 414.8 172.1 415.0 170.3 415.2 187.9 415.5 192.8 415.8 171.9 416.0 167.6 416.2 189.6 416.5 192.3 416.8 166.5 417.0 167.0 417.2 196.5 417.5 187.7 417.8 167.1 418.0 170.7 418.2 189.7 418.5 188.8 418.8 169.5 419.0 167.8 419.2 191.8 419.5 192.0 419.8 170.5 420.0 169.8 420.2 189.8 420.5 188.9 420.8 171.7 421.0 170.3 421.2 188.1 421.5 192.2 421.8 170.3 422.0 168.3 422.2 191.2 422.5 188.4 422.8 168.6 423.0 169.8 423.2 189.2 423.5 191.4 423.8 170.1 424.0 169.7 424.2 189.6 424.5 194.2 424.8 167.2 425.0 167.6 425.2 189.9 425.5 188.8 425.8 171.6 426.0 171.5 426.2 195.3 426.5 190.9 426.8 174.0 427.0 170.3 427.2 190.3 427.5 192.1 427.8 173.7 428.0 173.7 428.2 187.9 428.5 187.0 428.8 175.1 429.0 174.8 429.2 187.9 429.5 193.9 429.8 175.0 430.0 172.5 430.2 193.2 430.5 190.9 430.8 172.5 431.0 173.5 431.2 190.0 431.5 193.8 431.8 173.1 432.0 168.9 432.2 191.9 432.5 190.9 432.8 172.9 433.0 174.7 433.2 190.5 433.5 191.5 433.8 170.0 434.0 173.9 434.2 195.1 434.5 189.7 434.8 173.0 435.0 175.0 435.2 195.4 435.5 191.6 435.8 169.9 436.0 167.9 436.2 189.7 436.5 191.5 436.8 170.6 437.0 170.7 437.2 192.4 437.5 192.5 437.8 175.6 438.0 175.0 438.2 190.0 438.5 193.9 438.8 175.4 439.0 165.4 439.2 193.7 439.5 193.6 439.8 170.2 440.0 174.2 440.2 190.1 440.5 188.1 440.8 172.1 441.0 173.4 441.2 195.0 441.5 196.7 441.8 168.7 442.0 172.0 442.2 192.2 442.5 193.9 442.8 174.1 443.0 174.4 443.2 194.0 443.5 196.4 443.8 173.1 444.0 174.2 444.2 189.3 444.5 190.0 444.8 172.8 445.0 172.6 445.2 195.3 445.5 193.1 445.8 171.8 446.0 170.0 446.2 193.2 446.5 188.6 446.8 170.4 447.0 169.4 447.2 189.1 447.5 192.7 447.8 173.0 448.0 166.7 448.2 188.3 448.5 188.8 448.8 169.2 449.0 169.7 449.2 194.5 449.5 191.8 449.8 173.1 450.0 167.0 450.2 189.9 450.5 191.8 450.8 172.6 451.0 172.0 451.2 192.8 451.5 188.6 451.8 170.4 452.0 170.8 452.2 198.7 452.5 192.6 452.8 173.0 453.0 169.4 453.2 193.5 453.5 196.1 453.8 175.0 454.0 174.3 454.2 196.8 454.5 192.9 454.8 172.0 455.0 175.6 455.2 191.1 455.5 193.1 455.8 175.5 456.0 174.8 456.2 198.4 456.5 194.5 456.8 169.0 457.0 175.4 457.2 191.2 457.5 190.0 457.8 174.0 458.0 174.4 458.2 188.0 458.5 193.9 458.8 173.2 459.0 168.5 459.2 193.1 459.5 193.3 459.8 171.5 460.0 172.3 460.2 191.7 460.5 189.2 460.8 172.1 461.0 170.6 461.2 192.4 461.5 188.2 461.8 173.2 462.0 171.2 462.2 187.7 462.5 187.6 462.8 172.0 463.0 172.3 463.2 187.2 463.5 189.3 463.8 175.1 464.0 173.6 464.2 186.3 464.5 185.4 464.8 177.2 465.0 173.7 465.2 186.2 465.5 185.3 465.8 174.6 466.0 174.2 466.2 185.5 466.5 188.6 466.8 174.9 467.0 172.8 467.2 188.6 467.5 186.8 467.8 173.4 468.0 174.2 468.2 189.0 468.5 190.3 468.8 170.8 469.0 170.2 469.2 189.1 469.5 191.9 469.8 174.4 470.0 170.5 470.2 192.4 470.5 187.2 470.8 171.5 471.0 169.8 471.2 187.7 471.5 189.7 471.8 172.7 472.0 171.4 472.2 188.6 472.5 187.1 472.8 172.5 473.0 173.2 473.2 189.2 473.5 191.2 473.8 168.4 474.0 173.8 474.2 188.4 474.5 188.8 474.8 171.4 475.0 171.8 475.2 193.4 475.5 194.4 475.8 172.0 476.0 165.0 476.2 193.5 476.5 191.4 476.8 169.8 477.0 174.2 477.2 193.8 477.5 191.8 477.8 170.8 478.0 171.8 478.2 190.9 478.5 190.2 478.8 171.2 479.0 174.4 479.2 195.7 479.5 191.7 479.8 172.1 480.0 171.4 480.2 193.7 480.5 190.8 480.8 168.7 481.0 172.8 481.2 200.9 481.5 189.2 481.8 173.3 482.0 169.5 482.2 196.5 482.5 193.1 482.8 171.9 483.0 174.5 483.2 191.3 483.5 193.0 483.8 170.9 484.0 175.2 484.2 192.1 484.5 194.3 484.8 173.0 485.0 172.4 485.2 194.2 485.5 196.8 485.8 173.0 486.0 175.1 486.2 197.0 486.5 192.6 486.8 172.0 487.0 166.9 487.2 194.6 487.5 192.1 487.8 170.2 488.0 171.3 488.2 190.3 488.5 197.7 488.8 171.3 489.0 168.3 489.2 193.1 489.5 190.1 489.8 172.5 490.0 171.0 490.2 190.7 490.5 191.8 490.8 168.5 491.0 167.5 491.2 194.0 491.5 193.7 491.8 174.2 492.0 171.4 492.2 195.2 492.5 197.2 492.8 171.9 493.0 172.1 493.2 189.5 493.5 193.4 493.8 174.2 494.0 170.6 494.2 191.3 494.5 191.5 494.8 172.8 495.0 172.4 495.2 188.5 495.5 188.3 495.8 172.2 496.0 174.4 496.2 187.7 496.5 187.8 496.8 172.7 497.0 174.6 497.2 187.0 497.5 186.9 497.8 168.7 498.0 171.7 498.2 187.2 498.5 187.6 498.8 175.0 499.0 174.4 499.2 189.3 499.5 190.3 499.8 175.7 500.0 175.7 500.2 196.7 500.5 189.2 500.8 173.2 501.0 175.6 501.2 193.7 501.5 190.6 501.8 175.0 502.0 171.3 502.2 192.8 502.5 189.0 502.8 174.2 503.0 173.9 503.2 193.4 503.5 191.5 503.8 173.8 504.0 170.5 504.2 189.5 504.5 192.6 504.8 170.9 505.0 173.8 505.2 191.1 505.5 188.6 505.8 172.0 506.0 173.6 506.2 187.4 506.5 188.5 506.8 172.5 507.0 171.3 507.2 188.4 507.5 187.3 507.8 173.8 508.0 172.7 508.2 189.5 508.5 188.3 508.8 173.1 509.0 174.0 509.2 189.0 509.5 192.0 509.8 173.5 510.0 167.6 510.2 190.2 510.5 194.7 510.8 167.0 511.0 169.2 511.2 189.9 511.5 192.7 511.8 170.4 511.7 181.2" fill="none" stroke="#0000ff" stroke-width="0.6" stroke-opacity="0.42" stroke-linejoin="bevel"/>
<path d="M308.0 180.7 308.2 180.7 308.5 187.7 308.8 173.5 309.0 168.7 309.2 193.2 309.5 189.3 309.8 167.5 310.0 163.8 310.2 192.2 310.5 187.9 310.8 172.7 311.0 167.7 311.2 188.0 311.5 190.5 311.8 170.4 312.0 171.0 312.2 195.3 312.5 190.0 312.8 171.9 313.0 170.6 313.2 194.4 313.5 191.2 313.8 172.4 314.0 171.7 314.2 191.7 314.5 188.9 314.8 167.0 315.0 177.2 315.2 191.8 315.5 191.8 315.8 174.9 316.0 176.9 316.2 192.1 316.5 190.4 316.8 174.8 317.0 174.3 317.2 192.4 317.5 187.9 317.8 167.7 318.0 171.2 318.2 188.6 318.5 190.0 318.8 170.9 319.0 166.8 319.2 186.0 319.5 188.4 319.8 168.6 320.0 169.6 320.2 186.8 320.5 185.8 320.8 164.3 321.0 169.3 321.2 186.5 321.5 190.3 321.8 172.9 322.0 168.9 322.2 193.0 322.5 191.7 322.8 171.8 323.0 171.7 323.2 197.8 323.5 198.3 323.8 170.2 324.0 165.3 324.2 202.0 324.5 196.9 324.8 173.5 325.0 174.0 325.2 194.9 325.5 194.1 325.8 171.6 326.0 171.4 326.2 193.4 326.5 198.8 326.8 171.2 327.0 175.1 327.2 190.2 327.5 192.8 327.8 171.1 328.0 173.9 328.2 194.0 328.5 191.5 328.8 176.3 329.0 174.8 329.2 192.6 329.5 191.0 329.8 174.2 330.0 175.5 330.2 190.9 330.5 195.4 330.8 173.0 331.0 173.3 331.2 191.5 331.5 193.1 331.8 171.5 332.0 171.4 332.2 197.5 332.5 188.6 332.8 172.8 333.0 171.2 333.2 189.8 333.5 190.8 333.8 173.8 334.0 172.9 334.2 189.5 334.5 191.3 334.8 173.0 335.0 174.9 335.2 187.9 335.5 191.9 335.8 167.4 336.0 165.5 336.2 185.5 336.5 187.1 336.8 171.1 337.0 174.7 337.2 186.5 337.5 188.0 337.8 170.2 338.0 174.9 338.2 192.1 338.5 188.5 338.8 170.0 339.0 174.0 339.2 187.6 339.5 188.0 339.8 172.4 340.0 170.3 340.2 190.2 340.5 190.7 340.8 174.8 341.0 172.0 341.2 196.3 341.5 190.8 341.8 172.4 342.0 174.3 342.2 193.7 342.5 195.8 342.8 173.6 343.0 175.1 343.2 188.8 343.5 195.2 343.8 174.1 344.0 174.5 344.2 190.8 344.5 195.2 344.8 176.5 345.0 173.5 345.2 188.8 345.5 201.5 345.8 175.7 346.0 173.6 346.2 192.6 346.5 197.6 346.8 173.8 347.0 171.1 347.2 190.9 347.5 189.6 347.8 172.4 348.0 168.9 348.2 188.3 348.5 190.9 348.8 172.5 349.0 173.5 349.2 188.1 349.5 188.1 349.8 170.8 350.0 170.4 350.2 186.6 350.5 187.4 350.8 170.8 351.0 173.6 351.2 189.4 351.5 189.4 351.8 175.2 352.0 172.6 352.2 188.0 352.5 188.6 352.8 175.2 353.0 166.7 353.2 193.3 353.5 196.8 353.8 171.8 354.0 170.6 354.2 190.1 354.5 190.8 354.8 171.7 355.0 174.8 355.2 189.8 355.5 195.3 355.8 175.2 356.0 173.7 356.2 192.5 356.5 189.1 356.8 174.4 357.0 173.7 357.2 189.4 357.5 188.0 357.8 174.5 358.0 175.5 358.2 190.4 358.5 192.4 358.8 174.5 359.0 172.8 359.2 189.4 359.5 191.9 359.8 171.7 360.0 173.8 360.2 193.2 360.5 190.5 360.8 168.3 361.0 164.7 361.2 190.8 361.5 194.9 361.8 170.8 362.0 172.0 362.2 191.2 362.5 196.2 362.8 170.7 363.0 170.8 363.2 191.7 363.5 192.4 363.8 168.7 364.0 172.3 364.2 196.1 364.5 194.9 364.8 166.7 365.0 167.3 365.2 191.6 365.5 194.6 365.8 166.8 366.0 171.2 366.2 194.8 366.5 197.5 366.8 169.2 367.0 169.3 367.2 192.3 367.5 197.5 367.8 166.8 368.0 172.4 368.2 191.9 368.5 189.2 368.8 171.6 369.0 171.5 369.2 191.7 369.5 191.3 369.8 171.6 370.0 166.4 370.2 193.3 370.5 192.6 370.8 171.8 371.0 172.3 371.2 198.4 371.5 199.2 371.8 171.7 372.0 169.2 372.2 190.5 372.5 189.6 372.8 164.1 373.0 169.3 373.2 190.2 373.5 193.7 373.8 174.0 374.0 167.5 374.2 195.5 374.5 193.7 374.8 171.7 375.0 172.2 375.2 195.3 375.5 191.5 375.8 172.3 376.0 172.7 376.2 193.3 376.5 194.0 376.8 174.6 377.0 173.3 377.2 189.2 377.5 188.5 377.8 170.5 378.0 171.7 378.2 187.9 378.5 187.6 378.8 174.0 379.0 173.8 379.2 188.3 379.5 189.8 379.8 175.3 380.0 173.8 380.2 193.5 380.5 197.3 380.8 169.5 381.0 172.1 381.2 189.5 381.5 196.4 381.8 174.0 382.0 174.2 382.2 194.7 382.5 190.9 382.8 176.0 383.0 173.1 383.2 190.1 383.5 190.4 383.8 173.4 384.0 173.4 384.2 189.4 384.5 189.1 384.8 170.9 385.0 172.1 385.2 189.8 385.5 188.9 385.8 173.9 386.0 171.4 386.2 191.9 386.5 191.5 386.8 164.2 387.0 174.0 387.2 194.4 387.5 191.3 387.8 171.9 388.0 165.0 388.2 192.6 388.5 190.4 388.8 168.5 389.0 171.9 389.2 190.6 389.5 199.3 389.8 170.8 390.0 167.3 390.2 191.6 390.5 190.1 390.8 169.5 391.0 168.9 391.2 191.7 391.5 197.7 391.8 167.4 392.0 170.6 392.2 195.9 392.5 192.4 392.8 167.7 393.0 171.2 393.2 188.3 393.5 188.9 393.8 172.2 394.0 170.8 394.2 187.2 394.5 185.9 394.8 170.2 395.0 172.6 395.2 187.9 395.5 188.3 395.8 173.1 396.0 165.9 396.2 187.3 396.5 192.1 396.8 168.8 397.0 168.9 397.2 190.6 397.5 190.1 397.8 170.9 398.0 171.5 398.2 187.5 398.5 188.4 398.8 164.5 399.0 168.1 399.2 187.2 399.5 187.8 399.8 158.4 400.0 168.0 400.2 186.9 400.5 189.8 400.8 168.1 401.0 165.4 401.2 191.9 401.5 186.0 401.8 171.1 402.0 169.0 402.2 190.7 402.5 186.4 402.8 167.9 403.0 170.3 403.2 188.6 403.5 188.8 403.8 172.6 404.0 170.0 404.2 189.6 404.5 189.9 404.8 169.8 405.0 172.1 405.2 189.4 405.5 193.3 405.8 170.4 406.0 167.2 406.2 188.4 406.5 189.6 406.8 174.1 407.0 169.5 407.2 189.1 407.5 186.2 407.8 172.9 408.0 173.4 408.2 184.7 408.5 185.7 408.8 170.7 409.0 172.4 409.2 187.9 409.5 187.2 409.8 171.1 410.0 166.0 410.2 192.2 410.5 188.6 410.8 167.7 411.0 170.6 411.2 189.3 411.5 189.7 411.8 170.9 412.0 173.0 412.2 189.2 412.5 190.1 412.8 171.2 413.0 172.7 413.2 187.9 413.5 185.9 413.8 173.4 414.0 169.7 414.2 186.3 414.5 186.9 414.8 175.8 415.0 175.6 415.2 190.6 415.5 192.6 415.8 176.4 416.0 176.2 416.2 191.4 416.5 190.7 416.8 176.8 417.0 177.4 417.2 192.0 417.5 195.8 417.8 175.5 418.0 176.7 418.2 192.7 418.5 196.2 418.8 176.8 419.0 173.1 419.2 189.2 419.5 188.5 419.8 177.0 420.0 177.2 420.2 188.3 420.5 188.2 420.8 171.6 421.0 175.0 421.2 189.8 421.5 191.9 421.8 174.4 422.0 173.5 422.2 188.0 422.5 187.7 422.8 168.5 423.0 173.1 423.2 191.4 423.5 193.7 423.8 174.1 424.0 169.1 424.2 202.8 424.5 192.4 424.8 171.2 425.0 169.8 425.2 205.1 425.5 194.9 425.8 173.4 426.0 174.9 426.2 192.5 426.5 199.3 426.8 172.9 427.0 174.0 427.2 199.0 427.5 192.3 427.8 174.9 428.0 177.3 428.2 191.2 428.5 197.4 428.8 172.2 429.0 175.8 429.2 193.1 429.5 193.1 429.8 173.0 430.0 172.9 430.2 194.0 430.5 190.1 430.8 170.5 431.0 163.1 431.2 194.4 431.5 192.5 431.8 160.0 432.0 165.9 432.2 191.9 432.5 194.2 432.8 164.6 433.0 170.0 433.2 188.9 433.5 200.2 433.8 172.3 434.0 169.7 434.2 194.0 434.5 188.6 434.8 174.0 435.0 173.2 435.2 195.4 435.5 192.1 435.8 174.4 436.0 171.8 436.2 190.1 436.5 189.3 436.8 174.3 437.0 174.2 437.2 191.2 437.5 199.7 437.8 174.1 438.0 173.2 438.2 193.5 438.5 189.8 438.8 169.6 439.0 171.5 439.2 188.7 439.5 187.6 439.8 172.7 440.0 172.8 440.2 191.9 440.5 194.7 440.8 174.6 441.0 174.6 441.2 197.1 441.5 190.4 441.8 173.8 442.0 171.7 442.2 191.1 442.5 204.9 442.8 174.1 443.0 176.3 443.2 198.0 443.5 190.8 443.8 176.0 444.0 175.5 444.2 190.1 444.5 190.6 444.8 173.9 445.0 173.8 445.2 199.8 445.5 190.5 445.8 173.1 446.0 171.3 446.2 189.3 446.5 191.6 446.8 174.0 447.0 173.9 447.2 191.3 447.5 190.4 447.8 172.6 448.0 170.4 448.2 189.9 448.5 189.8 448.8 173.7 449.0 171.3 449.2 190.6 449.5 195.4 449.8 172.3 450.0 172.6 450.2 187.9 450.5 190.5 450.8 171.8 451.0 172.7 451.2 189.4 451.5 190.7 451.8 173.2 452.0 173.0 452.2 194.5 452.5 205.5 452.8 172.5 453.0 174.5 453.2 194.7 453.5 197.9 453.8 173.9 454.0 173.6 454.2 189.1 454.5 193.0 454.8 172.2 455.0 167.6 455.2 190.9 455.5 189.0 455.8 168.0 456.0 173.1 456.2 188.2 456.5 189.0 456.8 170.5 457.0 173.3 457.2 192.3 457.5 196.6 457.8 174.1 458.0 175.3 458.2 189.5 458.5 193.2 458.8 177.1 459.0 176.5 459.2 193.4 459.5 190.0 459.8 176.7 460.0 175.8 460.2 191.1 460.5 189.7 460.8 177.1 461.0 176.6 461.2 192.4 461.5 192.5 461.8 175.1 462.0 172.8 462.2 190.3 462.5 187.7 462.8 172.7 463.0 168.2 463.2 189.8 463.5 189.3 463.8 173.7 464.0 172.5 464.2 192.4 464.5 188.1 464.8 172.6 465.0 172.7 465.2 187.7 465.5 190.8 465.8 173.3 466.0 173.6 466.2 187.7 466.5 196.2 466.8 170.0 467.0 166.8 467.2 197.7 467.5 194.3 467.8 170.3 468.0 165.8 468.2 197.9 468.5 192.2 468.8 171.0 469.0 172.4 469.2 188.7 469.5 191.0 469.8 170.3 470.0 163.4 470.2 193.5 470.5 191.9 470.8 170.0 471.0 172.4 471.2 189.1 471.5 192.3 471.8 166.7 472.0 174.0 472.2 193.1 472.5 192.9 472.8 174.4 473.0 171.9 473.2 195.0 473.5 189.9 473.8 170.2 474.0 173.2 474.2 195.6 474.5 189.0 474.8 170.9 475.0 170.5 475.2 190.5 475.5 195.4 475.8 163.9 476.0 173.2 476.2 193.3 476.5 188.1 476.8 173.0 477.0 171.2 477.2 189.9 477.5 187.6 477.8 170.8 478.0 172.6 478.2 190.9 478.5 191.1 478.8 167.7 479.0 169.9 479.2 191.8 479.5 190.7 479.8 174.6 480.0 174.0 480.2 193.0 480.5 187.6 480.8 171.8 481.0 171.5 481.2 189.1 481.5 187.1 481.8 168.1 482.0 173.5 482.2 188.2 482.5 187.6 482.8 175.3 483.0 172.0 483.2 191.0 483.5 192.8 483.8 174.1 484.0 174.0 484.2 189.0 484.5 192.3 484.8 172.1 485.0 175.4 485.2 189.2 485.5 201.1 485.8 173.7 486.0 172.2 486.2 197.2 486.5 197.1 486.8 172.3 487.0 171.9 487.2 192.4 487.5 190.2 487.8 173.6 488.0 168.9 488.2 201.6 488.5 190.5 488.8 172.8 489.0 168.4 489.2 191.6 489.5 196.5 489.8 171.0 490.0 170.6 490.2 190.0 490.5 192.8 490.8 164.9 491.0 170.5 491.2 190.9 491.5 193.1 491.8 168.1 492.0 168.0 492.2 196.3 492.5 188.9 492.8 170.8 493.0 171.5 493.2 189.0 493.5 194.9 493.8 172.7 494.0 167.4 494.2 189.6 494.5 193.7 494.8 168.3 495.0 172.4 495.2 191.9 495.5 194.6 495.8 172.1 496.0 172.5 496.2 186.9 496.5 189.5 496.8 173.8 497.0 171.7 497.2 189.7 497.5 184.8 497.8 174.5 498.0 172.7 498.2 186.2 498.5 187.9 498.8 172.5 499.0 170.9 499.2 188.9 499.5 186.3 499.8 173.2 500.0 172.8 500.2 189.2 500.5 191.3 500.8 172.9 501.0 173.0 501.2 187.0 501.5 186.4 501.8 173.9 502.0 171.2 502.2 186.9 502.5 188.2 502.8 171.6 503.0 171.5 503.2 188.2 503.5 190.6 503.8 173.7 504.0 169.5 504.2 186.3 504.5 193.1 504.8 171.6 505.0 169.6 505.2 190.9 505.5 196.7 505.8 173.7 506.0 169.9 506.2 191.7 506.5 192.8 506.8 173.6 507.0 170.9 507.2 190.9 507.5 191.5 507.8 172.6 508.0 172.7 508.2 194.2 508.5 189.8 508.8 172.9 509.0 173.2 509.2 191.1 509.5 189.8 509.8 175.2 510.0 171.5 510.2 188.2 510.5 188.0 510.8 175.0 511.0 173.1 511.2 190.4 511.5 189.7 511.8 170.7 511.7 181.2" fill="none" stroke="#0000ff" stroke-width="0.6" stroke-opacity="0.42" stroke-linejoin="bevel"/>
<path d="M308.0 180.1 308.2 180.1 308.5 185.4 308.8 174.7 309.0 172.5 309.2 187.0 309.5 187.4 309.8 170.6 310.0 171.6 310.2 187.4 310.5 188.3 310.8 171.1 311.0 172.2 311.2 188.1 311.5 189.7 311.8 172.2 312.0 172.3 312.2 188.7 312.5 190.0 312.8 169.9 313.0 170.9 313.2 192.0 313.5 188.9 313.8 168.9 314.0 170.0 314.2 189.3 314.5 190.8 314.8 169.4 315.0 167.3 315.2 190.4 315.5 189.5 315.8 170.4 316.0 172.0 316.2 189.8 316.5 189.2 316.8 171.1 317.0 171.2 317.2 190.2 317.5 189.3 317.8 171.2 318.0 173.0 318.2 189.7 318.5 187.6 318.8 172.6 319.0 172.9 319.2 187.7 319.5 188.7 319.8 170.8 320.0 173.7 320.2 187.6 320.5 185.8 320.8 173.5 321.0 173.4 321.2 185.7 321.5 186.5 321.8 173.6 322.0 173.7 322.2 186.3 322.5 188.6 322.8 173.6 323.0 175.1 323.2 186.7 323.5 186.8 323.8 174.9 324.0 174.5 324.2 187.5 324.5 187.2 324.8 174.3 325.0 175.2 325.2 185.8 325.5 188.9 325.8 176.4 326.0 176.5 326.2 185.8 326.5 187.3 326.8 175.8 327.0 177.0 327.2 186.0 327.5 185.5 327.8 176.3 328.0 175.8 328.2 186.2 328.5 186.8 328.8 177.3 329.0 177.4 329.2 186.7 329.5 186.9 329.8 177.1 330.0 176.7 330.2 187.4 330.5 186.8 330.8 177.4 331.0 176.4 331.2 189.1 331.5 188.5 331.8 174.9 332.0 177.5 332.2 186.9 332.5 189.4 332.8 177.2 333.0 177.3 333.2 187.8 333.5 186.3 333.8 175.1 334.0 177.0 334.2 187.6 334.5 186.9 334.8 177.1 335.0 177.2 335.2 188.5 335.5 187.1 335.8 177.8 336.0 175.4 336.2 187.2 336.5 186.9 336.8 177.1 337.0 176.9 337.2 187.4 337.5 187.3 337.8 177.6 338.0 176.3 338.2 187.7 338.5 186.8 338.8 176.7 339.0 177.5 339.2 186.8 339.5 187.6 339.8 176.5 340.0 176.0 340.2 186.4 340.5 186.3 340.8 175.7 341.0 175.9 341.2 187.8 341.5 186.2 341.8 174.9 342.0 174.5 342.2 186.5 342.5 187.1 342.8 175.7 343.0 176.1 343.2 186.2 343.5 186.6 343.8 175.7 344.0 177.1 344.2 186.3 344.5 186.5 344.8 175.4 345.0 176.9 345.2 185.4 345.5 185.9 345.8 176.1 346.0 176.9 346.2 185.2 346.5 185.2 346.8 175.2 347.0 176.6 347.2 185.3 347.5 186.1 347.8 175.5 348.0 175.8 348.2 185.7 348.5 186.8 348.8 175.7 349.0 176.3 349.2 185.6 349.5 186.0 349.8 176.4 350.0 176.3 350.2 186.4 350.5 188.0 350.8 174.7 351.0 175.9 351.2 187.0 351.5 188.2 351.8 176.1 352.0 175.0 352.2 187.1 352.5 188.7 352.8 176.0 353.0 175.1 353.2 187.1 353.5 189.0 353.8 176.8 354.0 176.3 354.2 187.0 354.5 188.1 354.8 175.9 355.0 176.9 355.2 186.5 355.5 186.9 355.8 175.0 356.0 175.6 356.2 187.7 356.5 187.3 356.8 176.5 357.0 174.4 357.2 187.9 357.5 186.8 357.8 176.6 358.0 176.4 358.2 186.7 358.5 186.6 358.8 176.4 359.0 176.1 359.2 187.3 359.5 186.7 359.8 176.3 360.0 177.1 360.2 187.8 360.5 186.1 360.8 177.1 361.0 176.5 361.2 187.1 361.5 186.8 361.8 174.6 362.0 177.1 362.2 186.0 362.5 186.3 362.8 175.6 363.0 177.1 363.2 186.3 363.5 185.9 363.8 177.1 364.0 176.4 364.2 186.6 364.5 186.3 364.8 175.7 365.0 175.9 365.2 185.3 365.5 186.1 365.8 174.7 366.0 175.9 366.2 185.5 366.5 185.7 366.8 175.6 367.0 175.6 367.2 185.6 367.5 185.6 367.8 175.3 368.0 176.2 368.2 186.6 368.5 186.2 368.8 174.6 369.0 175.1 369.2 188.1 369.5 186.2 369.8 176.0 370.0 176.0 370.2 186.4 370.5 185.8 370.8 176.6 371.0 176.3 371.2 185.8 371.5 186.4 371.8 176.4 372.0 175.8 372.2 185.2 372.5 185.5 372.8 176.1 373.0 176.1 373.2 185.5 373.5 185.4 373.8 176.1 374.0 175.7 374.2 185.3 374.5 185.2 374.8 173.8 375.0 175.7 375.2 185.3 375.5 186.3 375.8 173.8 376.0 174.4 376.2 186.0 376.5 186.1 376.8 173.6 377.0 174.6 377.2 185.0 377.5 185.7 377.8 173.4 378.0 174.3 378.2 185.3 378.5 185.1 378.8 174.0 379.0 174.4 379.2 185.0 379.5 185.6 379.8 174.0 380.0 173.7 380.2 184.8 380.5 185.1 380.8 175.9 381.0 175.1 381.2 186.5 381.5 186.4 381.8 175.0 382.0 175.0 382.2 187.5 382.5 187.0 382.8 175.8 383.0 176.4 383.2 186.7 383.5 187.9 383.8 174.5 384.0 176.2 384.2 185.1 384.5 186.2 384.8 176.1 385.0 174.7 385.2 185.0 385.5 185.3 385.8 174.8 386.0 173.9 386.2 184.5 386.5 184.4 386.8 175.5 387.0 174.3 387.2 184.5 387.5 185.2 387.8 174.0 388.0 174.5 388.2 184.9 388.5 185.1 388.8 175.8 389.0 175.1 389.2 185.8 389.5 186.5 389.8 174.7 390.0 173.9 390.2 185.1 390.5 184.8 390.8 175.4 391.0 174.2 391.2 186.0 391.5 184.9 391.8 174.9 392.0 175.1 392.2 185.7 392.5 185.2 392.8 174.9 393.0 174.8 393.2 184.1 393.5 184.1 393.8 175.6 394.0 175.6 394.2 186.3 394.5 185.5 394.8 174.5 395.0 175.4 395.2 184.7 395.5 185.8 395.8 174.6 396.0 173.4 396.2 185.8 396.5 184.6 396.8 174.3 397.0 172.2 397.2 185.5 397.5 184.8 397.8 171.3 398.0 174.2 398.2 183.6 398.5 184.2 398.8 174.6 399.0 175.0 399.2 185.0 399.5 183.8 399.8 173.7 400.0 174.5 400.2 184.4 400.5 183.9 400.8 174.2 401.0 173.6 401.2 184.0 401.5 184.6 401.8 174.6 402.0 174.9 402.2 184.6 402.5 184.3 402.8 176.2 403.0 174.0 403.2 185.6 403.5 183.7 403.8 176.0 404.0 175.1 404.2 184.6 404.5 183.9 404.8 175.4 405.0 176.3 405.2 184.1 405.5 183.5 405.8 176.2 406.0 175.9 406.2 184.2 406.5 184.3 406.8 175.8 407.0 174.9 407.2 184.8 407.5 184.8 407.8 175.8 408.0 176.0 408.2 184.6 408.5 184.6 408.8 175.8 409.0 175.8 409.2 186.4 409.5 186.0 409.8 174.3 410.0 175.3 410.2 186.7 410.5 185.3 410.8 175.5 411.0 175.0 411.2 185.9 411.5 186.3 411.8 173.3 412.0 174.6 412.2 186.9 412.5 186.7 412.8 174.6 413.0 174.6 413.2 185.7 413.5 185.8 413.8 175.5 414.0 174.1 414.2 186.1 414.5 187.3 414.8 176.7 415.0 176.6 415.2 188.3 415.5 188.7 415.8 176.8 416.0 176.6 416.2 187.0 416.5 187.5 416.8 176.5 417.0 176.2 417.2 186.5 417.5 188.3 417.8 176.5 418.0 176.7 418.2 186.8 418.5 187.6 418.8 176.3 419.0 175.9 419.2 186.6 419.5 186.9 419.8 175.8 420.0 175.3 420.2 187.3 420.5 187.7 420.8 176.0 421.0 175.8 421.2 187.4 421.5 187.1 421.8 174.1 422.0 175.7 422.2 187.7 422.5 188.7 422.8 175.7 423.0 176.0 423.2 187.1 423.5 187.5 423.8 175.6 424.0 175.1 424.2 186.2 424.5 186.0 424.8 175.4 425.0 173.5 425.2 185.4 425.5 185.2 425.8 174.8 426.0 174.8 426.2 186.7 426.5 187.3 426.8 173.3 427.0 175.1 427.2 187.4 427.5 185.8 427.8 175.3 428.0 176.1 428.2 186.2 428.5 185.9 428.8 176.1 429.0 176.8 429.2 186.4 429.5 187.5 429.8 174.7 430.0 175.9 430.2 187.2 430.5 186.6 430.8 174.6 431.0 175.3 431.2 186.4 431.5 186.1 431.8 175.2 432.0 174.9 432.2 185.6 432.5 186.2 432.8 175.5 433.0 175.4 433.2 185.4 433.5 186.0 433.8 175.0 434.0 176.0 434.2 185.3 434.5 185.0 434.8 175.2 435.0 175.5 435.2 185.5 435.5 185.5 435.8 174.3 436.0 174.7 436.2 187.4 436.5 186.1 436.8 176.3 437.0 174.7 437.2 186.5 437.5 184.9 437.8 175.6 438.0 174.1 438.2 185.3 438.5 186.2 438.8 175.9 439.0 175.4 439.2 186.0 439.5 185.1 439.8 175.2 440.0 176.4 440.2 184.9 440.5 185.2 440.8 175.7 441.0 176.1 441.2 184.2 441.5 184.1 441.8 176.1 442.0 176.1 442.2 183.9 442.5 185.5 442.8 175.4 443.0 176.6 443.2 184.1 443.5 184.7 443.8 176.3 444.0 175.9 444.2 183.9 444.5 185.6 444.8 175.7 445.0 175.2 445.2 185.1 445.5 186.0 445.8 174.7 446.0 173.3 446.2 186.6 446.5 187.0 446.8 175.3 447.0 174.8 447.2 186.2 447.5 185.8 447.8 174.6 448.0 175.9 448.2 186.0 448.5 185.8 448.8 175.5 449.0 175.4 449.2 187.0 449.5 185.6 449.8 175.1 450.0 175.9 450.2 186.7 450.5 186.5 450.8 175.5 451.0 175.2 451.2 184.9 451.5 185.0 451.8 176.5 452.0 176.3 452.2 185.4 452.5 186.1 452.8 177.0 453.0 175.8 453.2 186.8 453.5 185.9 453.8 176.3 454.0 175.9 454.2 187.1 454.5 187.4 454.8 176.4 455.0 175.3 455.2 186.5 455.5 186.5 455.8 175.9 456.0 176.2 456.2 185.4 456.5 187.8 456.8 175.7 457.0 175.1 457.2 185.4 457.5 185.7 457.8 176.5 458.0 173.3 458.2 186.8 458.5 185.3 458.8 173.6 459.0 175.6 459.2 186.1 459.5 187.0 459.8 174.8 460.0 174.7 460.2 187.1 460.5 185.2 460.8 174.9 461.0 175.2 461.2 184.8 461.5 185.5 461.8 175.0 462.0 176.1 462.2 185.3 462.5 184.9 462.8 175.5 463.0 174.7 463.2 184.8 463.5 186.0 463.8 175.9 464.0 175.6 464.2 188.3 464.5 185.7 464.8 175.9 465.0 176.7 465.2 186.2 465.5 186.1 465.8 176.7 466.0 175.1 466.2 186.4 466.5 186.0 466.8 175.6 467.0 175.5 467.2 185.8 467.5 185.9 467.8 174.9 468.0 174.8 468.2 186.3 468.5 184.7 468.8 174.6 469.0 174.4 469.2 184.4 469.5 185.6 469.8 175.0 470.0 175.2 470.2 185.9 470.5 185.5 470.8 175.5 471.0 176.0 471.2 185.4 471.5 185.2 471.8 175.5 472.0 175.7 472.2 185.7 472.5 185.3 472.8 175.2 473.0 175.7 473.2 187.1 473.5 187.6 473.8 176.3 474.0 176.0 474.2 186.0 474.5 186.1 474.8 175.6 475.0 176.8 475.2 186.2 475.5 187.8 475.8 177.2 476.0 175.3 476.2 187.1 476.5 187.5 476.8 176.9 477.0 176.5 477.2 187.4 477.5 188.6 477.8 176.1 478.0 174.2 478.2 188.2 478.5 187.5 478.8 174.3 479.0 171.3 479.2 188.7 479.5 190.1 479.8 171.0 480.0 168.9 480.2 189.3 480.5 190.8 480.8 163.0 481.0 169.2 481.2 190.2 481.5 191.8 481.8 167.3 482.0 168.2 482.2 190.7 482.5 194.2 482.8 166.9 483.0 159.8 483.2 190.7 483.5 191.9 483.8 165.7 484.0 165.5 484.2 193.4 484.5 195.3 484.8 165.5 485.0 163.2 485.2 199.8 485.5 196.6 485.8 165.1 486.0 164.7 486.2 191.4 486.5 193.0 486.8 167.3 487.0 166.7 487.2 193.5 487.5 189.8 487.8 168.7 488.0 170.0 488.2 189.1 488.5 189.4 488.8 169.2 489.0 171.7 489.2 187.8 489.5 187.6 489.8 170.5 490.0 172.8 490.2 188.6 490.5 187.3 490.8 173.6 491.0 172.3 491.2 187.4 491.5 187.7 491.8 173.9 492.0 173.7 492.2 185.3 492.5 185.1 492.8 175.2 493.0 175.4 493.2 185.8 493.5 185.6 493.8 174.8 494.0 174.6 494.2 186.6 494.5 185.0 494.8 174.5 495.0 174.5 495.2 184.4 495.5 184.7 495.8 174.9 496.0 173.7 496.2 186.5 496.5 187.2 496.8 172.8 497.0 173.3 497.2 185.9 497.5 186.2 497.8 174.0 498.0 173.6 498.2 185.7 498.5 185.5 498.8 171.7 499.0 174.9 499.2 185.9 499.5 185.1 499.8 175.5 500.0 174.5 500.2 184.8 500.5 186.0 500.8 176.4 501.0 175.3 501.2 186.3 501.5 186.1 501.8 175.2 502.0 176.6 502.2 186.3 502.5 187.8 502.8 176.5 503.0 176.8 503.2 188.1 503.5 186.5 503.8 176.0 504.0 175.5 504.2 185.5 504.5 186.6 504.8 173.2 505.0 175.7 505.2 186.2 505.5 186.4 505.8 176.0 506.0 174.7 506.2 187.2 506.5 188.2 506.8 176.6 507.0 176.2 507.2 187.8 507.5 186.8 507.8 176.2 508.0 175.4 508.2 186.7 508.5 187.0 508.8 177.0 509.0 176.9 509.2 186.9 509.5 186.3 509.8 176.3 510.0 176.9 510.2 186.2 510.5 188.1 510.8 177.1 511.0 176.6 511.2 186.8 511.5 186.1 511.8 177.0 511.7 181.7" fill="none" stroke="#0000ff" stroke-width="0.6" stroke-opacity="0.8" stroke-linejoin="bevel"/>
<line x1="350.4" y1="170" x2="350.4" y2="154" stroke="#0000ff" stroke-width="0.7" stroke-opacity="0.55"/>
<line x1="410.1" y1="190" x2="410.1" y2="214" stroke="#0000ff" stroke-width="0.7" stroke-opacity="0.55"/>
<line x1="403" y1="190" x2="403" y2="204" stroke="#0000ff" stroke-width="0.7" stroke-opacity="0.55"/>
<line x1="369" y1="175" x2="369" y2="160" stroke="#0000ff" stroke-width="0.7" stroke-opacity="0.55"/>
<path d="M308.0 180.1 308.3 180.1 308.6 188.0 308.9 171.0 309.2 170.1 309.5 187.3 309.8 191.7 310.1 168.7 310.4 170.7 310.7 187.6 311.0 189.4 311.3 169.5 311.6 170.8 311.9 188.0 312.2 186.8 312.5 171.0 312.8 170.6 313.1 189.8 313.4 191.7 313.7 169.3 314.0 168.0 314.3 188.1 314.6 188.2 314.9 166.6 315.2 168.7 315.5 189.1 315.8 187.0 316.1 171.1 316.4 170.1 316.7 188.2 317.0 189.9 317.3 167.5 317.6 171.7 317.9 188.3 318.2 187.3 318.5 169.2 318.8 170.9 319.1 187.0 319.4 188.0 319.7 169.6 320.0 170.4 320.3 190.2 320.6 190.4 320.9 169.2 321.2 170.6 321.5 186.3 321.8 186.1 322.1 172.8 322.4 174.7 322.7 189.3 323.0 188.6 323.3 173.2 323.6 174.4 323.9 186.2 324.2 190.2 324.5 175.5 324.8 176.0 325.1 187.5 325.4 188.4 325.7 174.1 326.0 175.5 326.3 191.4 326.6 189.9 326.9 176.0 327.2 176.3 327.5 189.5 327.8 187.8 328.1 175.6 328.4 174.1 328.7 189.3 329.0 189.2 329.3 175.8 329.6 176.4 329.9 189.8 330.2 187.0 330.5 173.9 330.8 175.6 331.1 188.0 331.4 187.4 331.7 175.8 332.0 171.8 332.3 188.3 332.6 188.7 332.9 175.6 333.2 175.0 333.5 186.2 333.8 186.6 334.1 176.4 334.4 176.0 334.7 188.4 335.0 190.3 335.3 174.4 335.6 175.7 335.9 188.2 336.2 188.3 336.5 174.9 336.8 174.8 337.1 187.6 337.4 188.1 337.7 174.8 338.0 172.5 338.3 188.2 338.6 189.5 338.9 173.2 339.2 176.0 339.5 186.7 339.8 187.9 340.1 174.1 340.4 175.0 340.7 186.5 341.0 188.2 341.3 174.3 341.6 176.4 341.9 190.7 342.2 187.4 342.5 175.8 342.8 175.8 343.1 188.3 343.4 187.6 343.7 176.4 344.0 174.2 344.3 187.6 344.6 188.5 344.9 171.0 345.2 176.1 345.5 186.8 345.8 188.4 346.1 171.8 346.4 175.8 346.7 187.2 347.0 190.0 347.3 176.8 347.6 175.5 347.9 187.7 348.2 188.2 348.5 175.2 348.8 177.1 349.1 187.3 349.4 188.8 349.7 176.6 350.0 176.1 350.3 187.8 350.6 187.6 350.9 175.6 351.2 174.9 351.5 187.3 351.8 188.5 352.1 175.2 352.4 173.6 352.7 188.8 353.0 188.5 353.3 173.1 353.6 173.8 353.9 187.9 354.2 188.2 354.5 174.0 354.8 176.2 355.1 187.4 355.4 190.8 355.7 172.2 356.0 176.8 356.3 187.1 356.6 187.3 356.9 176.7 357.2 176.7 357.5 188.0 357.8 186.5 358.1 176.3 358.4 175.7 358.7 186.8 359.0 186.8 359.3 174.7 359.6 176.3 359.9 186.6 360.2 185.5 360.5 175.4 360.8 176.4 361.1 185.8 361.4 186.6 361.7 175.9 362.0 175.4 362.3 185.8 362.6 187.7 362.9 175.6 363.2 176.6 363.5 186.9 363.8 186.8 364.1 176.5 364.4 174.7 364.7 187.0 365.0 187.3 365.3 175.0 365.6 176.0 365.9 187.5 366.2 186.0 366.5 173.4 366.8 176.1 367.1 187.2 367.4 186.3 367.7 174.2 368.0 171.5 368.3 185.8 368.6 186.3 368.9 175.8 369.2 176.0 369.5 184.8 369.8 185.3 370.1 176.2 370.4 175.4 370.7 186.5 371.0 185.2 371.3 176.1 371.6 174.3 371.9 185.5 372.2 184.5 372.5 176.2 372.8 173.2 373.1 186.1 373.4 185.9 373.7 174.1 374.0 172.8 374.3 186.6 374.6 186.7 374.9 173.1 375.2 173.7 375.5 186.4 375.8 185.7 376.1 171.4 376.4 170.1 376.7 185.5 377.0 187.1 377.3 171.5 377.6 173.4 377.9 185.4 378.2 186.3 378.5 170.8 378.8 173.3 379.1 184.4 379.4 184.2 379.7 172.5 380.0 174.1 380.3 185.8 380.6 185.1 380.9 171.3 381.2 172.9 381.5 185.5 381.8 185.5 382.1 174.7 382.4 174.9 382.7 185.7 383.0 185.7 383.3 173.1 383.6 174.3 383.9 187.5 384.2 186.4 384.5 173.9 384.8 172.4 385.1 186.1 385.4 186.9 385.7 174.5 386.0 173.4 386.3 186.8 386.6 187.9 386.9 173.1 387.2 169.5 387.5 186.9 387.8 186.7 388.1 173.9 388.4 174.5 388.7 189.2 389.0 187.1 389.3 171.2 389.6 173.1 389.9 185.5 390.2 186.2 390.5 174.7 390.8 175.6 391.1 185.6 391.4 185.6 391.7 175.3 392.0 172.3 392.3 187.1 392.6 188.6 392.9 173.7 393.2 174.3 393.5 184.9 393.8 186.0 394.1 174.0 394.4 172.6 394.7 186.2 395.0 185.8 395.3 173.5 395.6 169.7 395.9 184.9 396.2 185.0 396.5 170.2 396.8 173.2 397.1 186.4 397.4 188.2 397.7 172.5 398.0 172.3 398.3 187.8 398.6 187.4 398.9 170.9 399.2 172.7 399.5 189.3 399.8 188.6 400.1 173.6 400.4 174.5 400.7 188.0 401.0 186.7 401.3 174.6 401.6 172.5 401.9 190.5 402.2 188.9 402.5 173.3 402.8 173.5 403.1 186.6 403.4 186.4 403.7 174.9 404.0 174.6 404.3 185.4 404.6 184.6 404.9 173.7 405.2 173.1 405.5 186.9 405.8 184.9 406.1 174.2 406.4 174.5 406.7 187.0 407.0 189.3 407.3 171.7 407.6 175.4 407.9 185.6 408.2 187.4 408.5 176.2 408.8 176.3 409.1 186.8 409.4 187.5 409.7 177.1 410.0 175.6 410.3 188.7 410.6 189.1 410.9 176.0 411.2 176.8 411.5 185.7 411.8 187.8 412.1 174.7 412.4 175.5 412.7 184.4 413.0 186.1 413.3 175.7 413.6 172.1 413.9 184.0 414.2 184.8 414.5 174.3 414.8 172.6 415.1 184.8 415.4 187.0 415.7 173.5 416.0 175.2 416.3 186.6 416.6 186.8 416.9 171.0 417.2 174.5 417.5 186.9 417.8 189.3 418.1 175.1 418.4 173.8 418.7 187.6 419.0 187.7 419.3 174.3 419.6 174.7 419.9 185.8 420.2 188.1 420.5 175.1 420.8 175.2 421.1 185.9 421.4 185.5 421.7 175.0 422.0 174.9 422.3 185.4 422.6 184.0 422.9 172.6 423.2 175.0 423.5 184.0 423.8 184.4 424.1 174.7 424.4 174.5 424.7 184.3 425.0 185.0 425.3 171.1 425.6 174.3 425.9 184.8 426.2 186.1 426.5 171.5 426.8 174.4 427.1 186.8 427.4 186.9 427.7 175.4 428.0 173.6 428.3 187.3 428.6 188.5 428.9 175.1 429.2 174.7 429.5 188.0 429.8 187.7 430.1 170.7 430.4 173.6 430.7 188.9 431.0 186.8 431.3 175.1 431.6 173.5 431.9 187.5 432.2 188.8 432.5 173.9 432.8 175.3 433.1 189.6 433.4 188.3 433.7 175.3 434.0 175.9 434.3 187.6 434.6 186.7 434.9 177.1 435.2 176.4 435.5 187.3 435.8 186.4 436.1 174.7 436.4 173.5 436.7 187.6 437.0 187.1 437.3 174.1 437.6 176.5 437.9 188.5 438.2 190.3 438.5 175.0 438.8 171.4 439.1 188.6 439.4 188.3 439.7 171.3 440.0 173.3 440.3 186.2 440.6 186.1 440.9 170.6 441.2 171.8 441.5 187.6 441.8 186.7 442.1 173.4 442.4 172.5 442.7 186.2 443.0 185.8 443.3 173.7 443.6 171.5 443.9 186.8 444.2 186.2 444.5 173.6 444.8 173.0 445.1 186.2 445.4 186.5 445.7 175.0 446.0 174.7 446.3 184.8 446.6 187.0 446.9 174.3 447.2 174.7 447.5 186.5 447.8 186.1 448.1 173.4 448.4 175.4 448.7 186.7 449.0 184.5 449.3 173.4 449.6 173.8 449.9 186.7 450.2 186.8 450.5 172.5 450.8 172.0 451.1 186.3 451.4 186.2 451.7 174.5 452.0 172.8 452.3 186.8 452.6 186.6 452.9 175.8 453.2 174.6 453.5 186.6 453.8 185.5 454.1 174.6 454.4 175.2 454.7 188.1 455.0 188.3 455.3 174.6 455.6 174.8 455.9 185.4 456.2 186.3 456.5 176.5 456.8 173.9 457.1 186.4 457.4 185.1 457.7 176.1 458.0 174.4 458.3 185.9 458.6 187.6 458.9 173.6 459.2 174.0 459.5 188.4 459.8 187.4 460.1 176.2 460.4 175.9 460.7 187.1 461.0 187.5 461.3 175.6 461.6 175.7 461.9 191.2 462.2 190.5 462.5 174.0 462.8 174.3 463.1 190.1 463.4 189.2 463.7 172.0 464.0 174.4 464.3 188.5 464.6 189.3 464.9 175.0 465.2 175.9 465.5 191.0 465.8 188.7 466.1 174.2 466.4 174.8 466.7 188.8 467.0 189.8 467.3 176.3 467.6 175.3 467.9 187.7 468.2 187.7 468.5 175.5 468.8 174.1 469.1 187.1 469.4 186.2 469.7 172.9 470.0 172.0 470.3 186.8 470.6 186.9 470.9 173.9 471.2 169.5 471.5 188.0 471.8 187.1 472.1 170.7 472.4 171.2 472.7 187.0 473.0 188.2 473.3 175.4 473.6 174.8 473.9 189.2 474.2 190.6 474.5 174.9 474.8 174.4 475.1 188.0 475.4 187.4 475.7 173.6 476.0 176.4 476.3 187.3 476.6 186.9 476.9 174.0 477.2 173.8 477.5 189.6 477.8 192.9 478.1 173.0 478.4 170.8 478.7 190.8 479.0 192.5 479.3 170.5 479.6 169.4 479.9 190.8 480.2 190.0 480.5 169.0 480.8 164.7 481.1 192.2 481.4 190.0 481.7 163.3 482.0 167.5 482.3 190.2 482.6 193.2 482.9 167.1 483.2 165.6 483.5 193.0 483.8 192.2 484.1 166.1 484.4 161.6 484.7 193.2 485.0 195.0 485.3 167.0 485.6 167.2 485.9 192.8 486.2 190.1 486.5 167.5 486.8 167.7 487.1 191.3 487.4 188.5 487.7 163.7 488.0 168.0 488.3 188.6 488.6 187.8 488.9 166.7 489.2 167.4 489.5 188.7 489.8 188.7 490.1 166.6 490.4 170.2 490.7 186.8 491.0 188.1 491.3 167.9 491.6 168.1 491.9 186.4 492.2 188.7 492.5 173.0 492.8 169.5 493.1 186.6 493.4 186.1 493.7 175.0 494.0 173.5 494.3 187.4 494.6 189.6 494.9 175.1 495.2 173.9 495.5 186.6 495.8 186.0 496.1 173.8 496.4 174.3 496.7 187.8 497.0 186.7 497.3 173.9 497.6 173.9 497.9 187.5 498.2 187.3 498.5 171.2 498.8 173.5 499.1 187.7 499.4 186.2 499.7 175.6 500.0 174.4 500.3 186.5 500.6 187.6 500.9 174.8 501.2 174.1 501.5 188.4 501.8 186.1 502.1 174.4 502.4 175.5 502.7 186.4 503.0 187.4 503.3 173.5 503.6 175.1 503.9 186.5 504.2 186.7 504.5 172.2 504.8 175.7 505.1 187.8 505.4 187.0 505.7 175.2 506.0 176.0 506.3 186.8 506.6 189.3 506.9 176.7 507.2 176.9 507.5 186.6 507.8 192.9 508.1 175.6 508.4 176.2 508.7 193.2 509.0 189.5 509.3 175.0 509.6 176.7 509.9 188.1 510.2 188.5 510.5 176.6 510.8 173.4 511.1 189.3 511.4 189.1 511.7 176.1 511.7 181.8" fill="none" stroke="#ff0000" stroke-width="0.6" stroke-opacity="0.58" stroke-linejoin="bevel"/>
<path d="M308.0 180.1 308.3 180.1 308.6 191.7 308.9 171.3 309.2 170.2 309.5 186.8 309.8 188.1 310.1 169.5 310.4 168.4 310.7 186.8 311.0 186.2 311.3 168.6 311.6 166.5 311.9 186.8 312.2 185.7 312.5 171.3 312.8 172.1 313.1 189.6 313.4 189.6 313.7 170.1 314.0 167.7 314.3 189.5 314.6 189.9 314.9 166.2 315.2 168.1 315.5 194.2 315.8 193.6 316.1 172.1 316.4 173.2 316.7 190.5 317.0 190.6 317.3 171.2 317.6 170.9 317.9 194.3 318.2 193.2 318.5 174.1 318.8 173.8 319.1 189.8 319.4 187.6 319.7 173.5 320.0 173.5 320.3 190.3 320.6 187.5 320.9 172.2 321.2 171.8 321.5 192.2 321.8 187.2 322.1 173.3 322.4 175.1 322.7 188.5 323.0 190.1 323.3 175.7 323.6 174.4 323.9 186.6 324.2 187.3 324.5 175.8 324.8 174.7 325.1 187.6 325.4 189.4 325.7 174.4 326.0 177.1 326.3 190.2 326.6 190.9 326.9 177.0 327.2 177.6 327.5 191.6 327.8 188.4 328.1 176.4 328.4 177.9 328.7 188.7 329.0 189.7 329.3 176.8 329.6 177.1 329.9 190.5 330.2 190.8 330.5 176.5 330.8 176.4 331.1 191.0 331.4 188.3 331.7 177.0 332.0 174.1 332.3 188.5 332.6 193.0 332.9 176.3 333.2 174.1 333.5 190.7 333.8 189.0 334.1 175.6 334.4 173.6 334.7 188.2 335.0 190.2 335.3 176.5 335.6 174.9 335.9 190.2 336.2 191.2 336.5 174.7 336.8 174.7 337.1 192.7 337.4 188.7 337.7 174.9 338.0 174.8 338.3 188.7 338.6 187.0 338.9 175.1 339.2 175.1 339.5 187.3 339.8 187.3 340.1 175.5 340.4 175.9 340.7 185.1 341.0 187.4 341.3 176.1 341.6 175.7 341.9 189.0 342.2 187.1 342.5 174.6 342.8 175.0 343.1 187.7 343.4 188.3 343.7 173.3 344.0 174.3 344.3 187.2 344.6 187.4 344.9 172.8 345.2 173.5 345.5 188.1 345.8 189.2 346.1 172.5 346.4 172.6 346.7 190.0 347.0 188.1 347.3 174.5 347.6 176.2 347.9 188.3 348.2 187.5 348.5 176.8 348.8 174.5 349.1 188.9 349.4 187.1 349.7 175.8 350.0 174.1 350.3 187.8 350.6 188.7 350.9 173.6 351.2 177.1 351.5 187.1 351.8 189.3 352.1 176.7 352.4 175.9 352.7 188.0 353.0 186.6 353.3 174.4 353.6 172.4 353.9 188.6 354.2 188.0 354.5 175.4 354.8 175.8 355.1 186.5 355.4 186.7 355.7 174.3 356.0 176.9 356.3 191.0 356.6 187.9 356.9 177.2 357.2 176.2 357.5 187.9 357.8 188.7 358.1 177.4 358.4 174.9 358.7 190.6 359.0 189.4 359.3 176.6 359.6 176.6 359.9 188.3 360.2 188.8 360.5 174.2 360.8 172.5 361.1 187.4 361.4 186.9 361.7 175.1 362.0 176.0 362.3 188.9 362.6 188.5 362.9 175.7 363.2 175.7 363.5 187.7 363.8 187.0 364.1 175.8 364.4 174.5 364.7 187.7 365.0 185.3 365.3 171.8 365.6 176.0 365.9 185.8 366.2 186.0 366.5 175.0 366.8 173.8 367.1 185.9 367.4 184.7 367.7 175.8 368.0 176.0 368.3 185.0 368.6 184.5 368.9 173.4 369.2 175.9 369.5 185.4 369.8 186.1 370.1 175.9 370.4 175.1 370.7 185.1 371.0 185.9 371.3 175.3 371.6 174.5 371.9 186.0 372.2 185.5 372.5 174.7 372.8 174.5 373.1 187.0 373.4 185.5 373.7 173.5 374.0 174.9 374.3 186.6 374.6 186.6 374.9 173.6 375.2 175.5 375.5 184.9 375.8 184.8 376.1 173.8 376.4 173.2 376.7 186.4 377.0 185.7 377.3 175.3 377.6 174.5 377.9 183.9 378.2 184.2 378.5 175.0 378.8 173.8 379.1 185.9 379.4 185.5 379.7 173.8 380.0 172.6 380.3 186.5 380.6 186.0 380.9 172.3 381.2 173.7 381.5 186.9 381.8 188.2 382.1 174.4 382.4 173.3 382.7 188.5 383.0 186.5 383.3 174.2 383.6 174.6 383.9 188.5 384.2 186.1 384.5 174.6 384.8 175.0 385.1 186.4 385.4 187.0 385.7 176.2 386.0 176.1 386.3 187.2 386.6 188.9 386.9 175.4 387.2 175.2 387.5 189.0 387.8 188.8 388.1 173.2 388.4 174.9 388.7 187.8 389.0 189.7 389.3 175.1 389.6 175.4 389.9 188.9 390.2 190.0 390.5 175.8 390.8 174.2 391.1 186.6 391.4 188.1 391.7 175.9 392.0 173.0 392.3 189.4 392.6 186.1 392.9 175.6 393.2 173.2 393.5 185.7 393.8 185.6 394.1 174.3 394.4 174.0 394.7 186.1 395.0 186.9 395.3 170.6 395.6 173.5 395.9 186.7 396.2 186.0 396.5 171.1 396.8 173.0 397.1 186.1 397.4 186.5 397.7 171.5 398.0 170.7 398.3 187.8 398.6 187.6 398.9 172.7 399.2 174.0 399.5 187.0 399.8 188.0 400.1 172.7 400.4 175.2 400.7 188.7 401.0 186.3 401.3 171.7 401.6 171.6 401.9 186.1 402.2 187.8 402.5 174.8 402.8 174.7 403.1 186.2 403.4 186.1 403.7 173.0 404.0 173.6 404.3 187.4 404.6 188.5 404.9 172.5 405.2 173.7 405.5 186.0 405.8 188.1 406.1 173.2 406.4 171.2 406.7 187.6 407.0 188.5 407.3 168.2 407.6 173.5 407.9 186.9 408.2 186.4 408.5 173.2 408.8 175.1 409.1 186.7 409.4 189.9 409.7 173.1 410.0 175.4 410.3 188.3 410.6 189.7 410.9 175.0 411.2 175.9 411.5 188.9 411.8 189.3 412.1 175.3 412.4 174.5 412.7 187.3 413.0 189.3 413.3 175.9 413.6 173.8 413.9 187.1 414.2 187.7 414.5 175.5 414.8 173.0 415.1 186.4 415.4 185.2 415.7 174.7 416.0 174.6 416.3 185.8 416.6 186.3 416.9 173.2 417.2 175.3 417.5 188.6 417.8 189.1 418.1 175.6 418.4 173.1 418.7 186.2 419.0 186.6 419.3 175.3 419.6 175.3 419.9 188.8 420.2 189.7 420.5 176.8 420.8 176.9 421.1 190.5 421.4 188.1 421.7 176.6 422.0 177.1 422.3 188.4 422.6 187.7 422.9 175.9 423.2 175.5 423.5 187.5 423.8 188.4 424.1 174.5 424.4 174.0 424.7 187.7 425.0 189.3 425.3 171.9 425.6 173.5 425.9 186.7 426.2 187.9 426.5 172.5 426.8 173.0 427.1 186.8 427.4 187.7 427.7 173.8 428.0 171.7 428.3 188.9 428.6 186.7 428.9 174.0 429.2 170.2 429.5 189.8 429.8 190.4 430.1 173.9 430.4 174.9 430.7 189.0 431.0 187.5 431.3 173.5 431.6 172.2 431.9 189.2 432.2 186.8 432.5 172.2 432.8 174.2 433.1 186.7 433.4 186.6 433.7 174.1 434.0 172.3 434.3 189.5 434.6 188.8 434.9 174.2 435.2 175.1 435.5 186.6 435.8 187.4 436.1 173.1 436.4 176.1 436.7 187.8 437.0 188.8 437.3 176.5 437.6 174.3 437.9 188.5 438.2 188.9 438.5 174.9 438.8 174.8 439.1 187.2 439.4 187.0 439.7 172.8 440.0 173.9 440.3 185.8 440.6 187.1 440.9 170.9 441.2 170.1 441.5 184.8 441.8 188.1 442.1 172.7 442.4 171.7 442.7 187.2 443.0 186.4 443.3 172.7 443.6 174.0 443.9 187.6 444.2 185.5 444.5 175.1 444.8 173.8 445.1 191.9 445.4 187.4 445.7 173.4 446.0 172.3 446.3 189.6 446.6 188.6 446.9 173.6 447.2 173.0 447.5 188.9 447.8 187.3 448.1 171.1 448.4 172.9 448.7 189.3 449.0 186.0 449.3 172.3 449.6 172.4 449.9 185.5 450.2 186.6 450.5 169.9 450.8 173.0 451.1 187.0 451.4 186.0 451.7 167.9 452.0 170.8 452.3 186.1 452.6 186.0 452.9 173.3 453.2 170.8 453.5 185.8 453.8 185.6 454.1 173.3 454.4 174.6 454.7 186.7 455.0 185.5 455.3 175.3 455.6 173.3 455.9 186.3 456.2 185.7 456.5 175.4 456.8 175.0 457.1 186.7 457.4 186.4 457.7 174.3 458.0 174.3 458.3 189.3 458.6 187.7 458.9 174.3 459.2 173.3 459.5 191.3 459.8 188.4 460.1 174.6 460.4 174.7 460.7 187.9 461.0 187.8 461.3 171.9 461.6 174.1 461.9 192.2 462.2 187.6 462.5 173.8 462.8 174.4 463.1 187.7 463.4 187.4 463.7 174.4 464.0 171.7 464.3 189.2 464.6 187.9 464.9 174.0 465.2 173.4 465.5 188.8 465.8 189.1 466.1 171.6 466.4 171.7 466.7 188.8 467.0 187.8 467.3 173.9 467.6 174.7 467.9 186.4 468.2 187.8 468.5 175.0 468.8 174.6 469.1 186.5 469.4 185.0 469.7 175.8 470.0 174.8 470.3 186.1 470.6 187.5 470.9 174.8 471.2 176.4 471.5 186.7 471.8 187.0 472.1 176.4 472.4 175.4 472.7 188.8 473.0 189.5 473.3 175.6 473.6 174.3 473.9 188.0 474.2 187.7 474.5 175.1 474.8 176.6 475.1 187.9 475.4 187.4 475.7 175.0 476.0 174.9 476.3 189.3 476.6 188.5 476.9 174.3 477.2 175.4 477.5 189.7 477.8 188.1 478.1 172.7 478.4 172.7 478.7 189.7 479.0 188.2 479.3 168.8 479.6 166.8 479.9 190.1 480.2 192.1 480.5 165.3 480.8 162.5 481.1 190.4 481.4 193.2 481.7 166.6 482.0 168.8 482.3 188.9 482.6 190.0 482.9 165.6 483.2 165.7 483.5 192.9 483.8 199.3 484.1 162.7 484.4 165.5 484.7 195.8 485.0 202.2 485.3 166.6 485.6 169.3 485.9 196.8 486.2 195.6 486.5 167.6 486.8 165.9 487.1 201.8 487.4 201.4 487.7 169.6 488.0 166.9 488.3 196.2 488.6 192.4 488.9 169.0 489.2 168.3 489.5 196.2 489.8 190.4 490.1 171.5 490.4 169.5 490.7 190.0 491.0 189.0 491.3 166.9 491.6 173.3 491.9 188.9 492.2 186.9 492.5 172.7 492.8 173.7 493.1 188.9 493.4 189.3 493.7 174.5 494.0 174.8 494.3 187.7 494.6 186.4 494.9 174.9 495.2 175.5 495.5 186.2 495.8 185.2 496.1 175.2 496.4 176.5 496.7 185.5 497.0 186.8 497.3 174.7 497.6 175.5 497.9 187.4 498.2 186.5 498.5 175.8 498.8 175.4 499.1 186.9 499.4 188.5 499.7 174.9 500.0 173.8 500.3 186.5 500.6 189.3 500.9 175.4 501.2 176.0 501.5 187.8 501.8 187.4 502.1 175.0 502.4 175.1 502.7 188.7 503.0 188.6 503.3 176.7 503.6 176.1 503.9 187.6 504.2 187.9 504.5 172.7 504.8 174.0 505.1 188.3 505.4 186.7 505.7 175.2 506.0 173.7 506.3 186.2 506.6 186.3 506.9 175.1 507.2 172.8 507.5 187.5 507.8 189.3 508.1 175.1 508.4 174.0 508.7 187.9 509.0 187.5 509.3 173.8 509.6 174.8 509.9 187.4 510.2 189.2 510.5 172.6 510.8 175.2 511.1 188.6 511.4 192.0 511.7 175.2 511.7 181.8" fill="none" stroke="#ff0000" stroke-width="0.6" stroke-opacity="0.58" stroke-linejoin="bevel"/>
<line x1="481.5" y1="175" x2="481.5" y2="157.8" stroke="#ff0000" stroke-width="0.7" stroke-opacity="0.6"/>
<line x1="483.5" y1="175" x2="483.5" y2="160" stroke="#ff0000" stroke-width="0.7" stroke-opacity="0.6"/>
</g>
<rect x="297.5" y="151" width="224.8" height="66.2" fill="none" stroke="#cfcfcf" stroke-width="0.9"/>
<text x="307.6" y="223" font-size="5.86" text-anchor="middle" fill="#333333" stroke="#333333" stroke-width="0.08" textLength="3.24" lengthAdjust="spacingAndGlyphs">0</text>
<text x="335.57" y="223" font-size="5.86" text-anchor="middle" fill="#333333" stroke="#333333" stroke-width="0.08" textLength="6.49" lengthAdjust="spacingAndGlyphs">50</text>
<text x="363.54" y="223" font-size="5.86" text-anchor="middle" fill="#333333" stroke="#333333" stroke-width="0.08" textLength="9.73" lengthAdjust="spacingAndGlyphs">100</text>
<text x="391.51" y="223" font-size="5.86" text-anchor="middle" fill="#333333" stroke="#333333" stroke-width="0.08" textLength="9.73" lengthAdjust="spacingAndGlyphs">150</text>
<text x="419.49" y="223" font-size="5.86" text-anchor="middle" fill="#333333" stroke="#333333" stroke-width="0.08" textLength="9.73" lengthAdjust="spacingAndGlyphs">200</text>
<text x="447.46" y="223" font-size="5.86" text-anchor="middle" fill="#333333" stroke="#333333" stroke-width="0.08" textLength="9.73" lengthAdjust="spacingAndGlyphs">250</text>
<text x="475.43" y="223" font-size="5.86" text-anchor="middle" fill="#333333" stroke="#333333" stroke-width="0.08" textLength="9.73" lengthAdjust="spacingAndGlyphs">300</text>
<text x="503.4" y="223" font-size="5.86" text-anchor="middle" fill="#333333" stroke="#333333" stroke-width="0.08" textLength="9.73" lengthAdjust="spacingAndGlyphs">350</text>
<text x="295.2" y="161.74" font-size="5.86" text-anchor="end" fill="#333333" stroke="#333333" stroke-width="0.08" textLength="3.24" lengthAdjust="spacingAndGlyphs">2</text>
<text x="295.2" y="172.38" font-size="5.86" text-anchor="end" fill="#333333" stroke="#333333" stroke-width="0.08" textLength="3.24" lengthAdjust="spacingAndGlyphs">1</text>
<text x="295.2" y="183.02" font-size="5.86" text-anchor="end" fill="#333333" stroke="#333333" stroke-width="0.08" textLength="3.24" lengthAdjust="spacingAndGlyphs">0</text>
<text x="295.2" y="193.66" font-size="5.86" text-anchor="end" fill="#333333" stroke="#333333" stroke-width="0.08" textLength="7.52" lengthAdjust="spacingAndGlyphs">−1</text>
<text x="295.2" y="204.3" font-size="5.86" text-anchor="end" fill="#333333" stroke="#333333" stroke-width="0.08" textLength="7.52" lengthAdjust="spacingAndGlyphs">−2</text>
<text x="295.2" y="214.94" font-size="5.86" text-anchor="end" fill="#333333" stroke="#333333" stroke-width="0.08" textLength="7.52" lengthAdjust="spacingAndGlyphs">−3</text>
<text transform="translate(275.21,141.2) scale(0.85,1)" x="0" y="0" font-size="17" fill="#000000">E</text>
<rect x="296.9" y="129" width="90.2" height="17.3" fill="#ffffff" stroke="#ececec" stroke-width="0.6" rx="1.2"/>
<line x1="298.9" y1="134" x2="311.2" y2="134" stroke="#0000ff" stroke-width="0.9" stroke-opacity="0.6"/>
<line x1="298.9" y1="142.2" x2="311.2" y2="142.2" stroke="#ff0000" stroke-width="0.9" stroke-opacity="0.6"/>
<text x="315.7" y="136.13" font-size="6.44" text-anchor="start" fill="#262626" stroke="#262626" stroke-width="0.08" textLength="59.86" lengthAdjust="spacingAndGlyphs">Participant ID=5 (TD)</text>
<text x="315.7" y="144.33" font-size="6.44" text-anchor="start" fill="#262626" stroke="#262626" stroke-width="0.08" textLength="69.14" lengthAdjust="spacingAndGlyphs">Participant ID=11 (DMD)</text>
<text x="409.9" y="235.6" font-size="8.74" text-anchor="middle" fill="#262626" stroke="#262626" stroke-width="0.105" textLength="39.76" lengthAdjust="spacingAndGlyphs">Time (sec)</text>
<text transform="translate(280.6,184.1) rotate(-90)" x="0" y="0" font-size="7.7" text-anchor="middle" fill="#262626" stroke="#262626" stroke-width="0.092" textLength="53.25" lengthAdjust="spacingAndGlyphs">Acceleration (g)</text>
<rect x="561.5" y="151" width="224.3" height="66.2" fill="#ffffff" stroke="none" stroke-width="1"/>
<line x1="571.7" y1="151" x2="571.7" y2="217.2" stroke="#e9e9e9" stroke-width="0.7"/>
<line x1="599.71" y1="151" x2="599.71" y2="217.2" stroke="#e9e9e9" stroke-width="0.7"/>
<line x1="627.73" y1="151" x2="627.73" y2="217.2" stroke="#e9e9e9" stroke-width="0.7"/>
<line x1="655.74" y1="151" x2="655.74" y2="217.2" stroke="#e9e9e9" stroke-width="0.7"/>
<line x1="683.76" y1="151" x2="683.76" y2="217.2" stroke="#e9e9e9" stroke-width="0.7"/>
<line x1="711.77" y1="151" x2="711.77" y2="217.2" stroke="#e9e9e9" stroke-width="0.7"/>
<line x1="739.79" y1="151" x2="739.79" y2="217.2" stroke="#e9e9e9" stroke-width="0.7"/>
<line x1="767.8" y1="151" x2="767.8" y2="217.2" stroke="#e9e9e9" stroke-width="0.7"/>
<line x1="561.5" y1="152.3" x2="785.8" y2="152.3" stroke="#e9e9e9" stroke-width="0.7"/>
<line x1="561.5" y1="164.5" x2="785.8" y2="164.5" stroke="#e9e9e9" stroke-width="0.7"/>
<line x1="561.5" y1="176.7" x2="785.8" y2="176.7" stroke="#e9e9e9" stroke-width="0.7"/>
<line x1="561.5" y1="188.9" x2="785.8" y2="188.9" stroke="#e9e9e9" stroke-width="0.7"/>
<line x1="561.5" y1="201.1" x2="785.8" y2="201.1" stroke="#e9e9e9" stroke-width="0.7"/>
<line x1="561.5" y1="213.3" x2="785.8" y2="213.3" stroke="#e9e9e9" stroke-width="0.7"/>
<clipPath id="cp561"><rect x="561.5" y="151" width="224.29999999999995" height="66.19999999999999"/></clipPath><g clip-path="url(#cp561)">
<path d="M572.0 176.8 572.2 176.8 572.5 193.6 572.8 169.3 573.0 169.3 573.2 189.7 573.5 190.2 573.8 168.7 574.0 164.8 574.2 192.2 574.5 190.4 574.8 168.1 575.0 167.3 575.2 189.1 575.5 192.2 575.8 170.2 576.0 167.4 576.2 186.7 576.5 195.9 576.8 166.7 577.0 167.1 577.2 188.9 577.5 195.7 577.8 168.4 578.0 170.3 578.2 190.3 578.5 200.1 578.8 171.2 579.0 170.9 579.2 187.2 579.5 192.2 579.8 170.5 580.0 170.4 580.2 188.5 580.5 185.9 580.8 170.8 581.0 171.6 581.2 187.8 581.5 186.2 581.8 164.4 582.0 169.3 582.2 189.7 582.5 188.6 582.8 166.7 583.0 162.2 583.2 197.3 583.5 193.9 583.8 170.5 584.0 168.0 584.2 195.0 584.5 190.4 584.8 164.5 585.0 168.4 585.2 194.0 585.5 191.8 585.8 167.9 586.0 167.9 586.2 191.2 586.5 191.1 586.8 162.8 587.0 168.3 587.2 186.9 587.5 196.1 587.8 164.1 588.0 168.5 588.2 185.8 588.5 187.3 588.8 169.4 589.0 160.2 589.2 187.1 589.5 187.0 589.8 171.4 590.0 169.1 590.2 183.6 590.5 188.2 590.8 168.0 591.0 164.0 591.2 188.1 591.5 190.3 591.8 168.2 592.0 165.5 592.2 185.9 592.5 189.1 592.8 165.1 593.0 167.1 593.2 189.2 593.5 186.0 593.8 168.5 594.0 166.9 594.2 186.1 594.5 185.7 594.8 166.6 595.0 169.0 595.2 185.5 595.5 183.3 595.8 171.6 596.0 171.3 596.2 187.5 596.5 186.0 596.8 172.8 597.0 171.7 597.2 196.2 597.5 186.7 597.8 170.3 598.0 169.3 598.2 190.5 598.5 190.7 598.8 163.8 599.0 156.7 599.2 189.9 599.5 188.9 599.8 167.9 600.0 170.3 600.2 186.7 600.5 187.0 600.8 168.9 601.0 168.0 601.2 204.8 601.5 185.0 601.8 167.5 602.0 170.5 602.2 189.4 602.5 195.2 602.8 170.6 603.0 160.0 603.2 190.1 603.5 189.1 603.8 169.0 604.0 170.9 604.2 190.3 604.5 193.1 604.8 170.0 605.0 168.5 605.2 194.2 605.5 188.3 605.8 169.1 606.0 165.6 606.2 189.6 606.5 199.2 606.8 169.4 607.0 170.6 607.2 195.8 607.5 193.1 607.8 168.3 608.0 165.4 608.2 189.7 608.5 190.6 608.8 164.5 609.0 158.9 609.2 186.6 609.5 186.2 609.8 162.4 610.0 166.0 610.2 188.3 610.5 187.2 610.8 165.3 611.0 164.5 611.2 187.9 611.5 191.1 611.8 168.1 612.0 165.1 612.2 194.1 612.5 186.4 612.8 161.4 613.0 164.3 613.2 195.8 613.5 189.1 613.8 162.3 614.0 165.1 614.2 187.8 614.5 194.6 614.8 167.0 615.0 162.4 615.2 185.0 615.5 188.0 615.8 167.1 616.0 165.7 616.2 190.3 616.5 184.8 616.8 166.0 617.0 166.2 617.2 185.3 617.5 189.5 617.8 165.8 618.0 167.9 618.2 191.6 618.5 187.2 618.8 162.1 619.0 167.8 619.2 188.2 619.5 200.4 619.8 165.9 620.0 168.4 620.2 195.5 620.5 188.9 620.8 163.2 621.0 165.8 621.2 187.7 621.5 191.0 621.8 168.4 622.0 164.0 622.2 197.9 622.5 188.7 622.8 160.7 623.0 168.4 623.2 186.4 623.5 186.1 623.8 168.8 624.0 170.6 624.2 186.0 624.5 189.7 624.8 164.3 625.0 167.1 625.2 183.8 625.5 185.1 625.8 168.4 626.0 166.0 626.2 185.3 626.5 187.3 626.8 169.8 627.0 168.8 627.2 184.2 627.5 187.1 627.8 170.9 628.0 166.7 628.2 187.6 628.5 195.7 628.8 169.2 629.0 167.4 629.2 186.4 629.5 185.4 629.8 166.4 630.0 168.3 630.2 184.2 630.5 184.5 630.8 165.5 631.0 168.3 631.2 189.4 631.5 186.9 631.8 160.8 632.0 166.3 632.2 189.4 632.5 191.3 632.8 166.1 633.0 162.3 633.2 196.5 633.5 191.5 633.8 163.4 634.0 168.8 634.2 194.1 634.5 198.5 634.8 167.0 635.0 169.4 635.2 199.3 635.5 192.7 635.8 163.7 636.0 168.7 636.2 194.1 636.5 189.6 636.8 168.1 637.0 168.2 637.2 190.2 637.5 184.2 637.8 167.2 638.0 168.8 638.2 186.7 638.5 190.7 638.8 169.5 639.0 165.6 639.2 191.7 639.5 182.8 639.8 165.8 640.0 167.6 640.2 182.4 640.5 199.0 640.8 168.6 641.0 167.1 641.2 184.9 641.5 191.1 641.8 171.6 642.0 168.1 642.2 186.7 642.5 186.5 642.8 168.5 643.0 168.9 643.2 183.8 643.5 185.2 643.8 167.2 644.0 169.3 644.2 184.0 644.5 194.1 644.8 164.3 645.0 161.8 645.2 184.9 645.5 189.0 645.8 165.0 646.0 169.4 646.2 187.8 646.5 188.5 646.8 164.2 647.0 167.7 647.2 193.9 647.5 187.7 647.8 168.9 648.0 170.7 648.2 189.4 648.5 194.7 648.8 167.2 649.0 168.9 649.2 187.1 649.5 187.2 649.8 168.0 650.0 168.2 650.2 189.1 650.5 183.4 650.8 161.6 651.0 166.0 651.2 182.7 651.5 181.7 651.8 164.8 652.0 160.9 652.2 183.4 652.5 181.9 652.8 162.5 653.0 166.8 653.2 182.3 653.5 185.2 653.8 167.2 654.0 156.0 654.2 190.4 654.5 189.2 654.8 165.7 655.0 156.9 655.2 186.6 655.5 187.0 655.8 167.7 656.0 167.0 656.2 196.9 656.5 187.9 656.8 168.6 657.0 169.5 657.2 189.5 657.5 188.7 657.8 167.5 658.0 168.0 658.2 193.1 658.5 194.7 658.8 165.8 659.0 168.1 659.2 192.6 659.5 189.9 659.8 166.8 660.0 165.4 660.2 195.6 660.5 190.2 660.8 164.5 661.0 169.3 661.2 189.7 661.5 187.2 661.8 170.1 662.0 168.3 662.2 189.4 662.5 187.2 662.8 170.0 663.0 167.4 663.2 186.7 663.5 187.4 663.8 166.5 664.0 162.9 664.2 185.0 664.5 184.2 664.8 168.6 665.0 169.1 665.2 185.8 665.5 187.5 665.8 168.0 666.0 166.3 666.2 188.9 666.5 191.6 666.8 167.6 667.0 167.5 667.2 188.2 667.5 189.0 667.8 169.6 668.0 166.0 668.2 199.5 668.5 188.5 668.8 166.0 669.0 171.1 669.2 190.1 669.5 191.9 669.8 170.6 670.0 170.0 670.2 193.6 670.5 193.0 670.8 167.3 671.0 169.4 671.2 189.7 671.5 198.0 671.8 164.2 672.0 168.8 672.2 195.1 672.5 198.6 672.8 169.9 673.0 164.9 673.2 193.1 673.5 189.7 673.8 164.0 674.0 168.6 674.2 192.1 674.5 191.3 674.8 168.6 675.0 170.9 675.2 191.7 675.5 201.4 675.8 169.8 676.0 167.7 676.2 198.9 676.5 189.3 676.8 164.9 677.0 169.6 677.2 195.6 677.5 190.9 677.8 168.7 678.0 171.0 678.2 190.7 678.5 194.8 678.8 171.5 679.0 166.9 679.2 204.1 679.5 193.2 679.8 156.8 680.0 170.0 680.2 197.8 680.5 197.8 680.8 169.5 681.0 169.3 681.2 202.4 681.5 189.6 681.8 169.6 682.0 166.3 682.2 187.8 682.5 185.6 682.8 164.2 683.0 170.0 683.2 186.4 683.5 189.7 683.8 170.3 684.0 163.1 684.2 185.2 684.5 187.5 684.8 165.0 685.0 170.4 685.2 190.1 685.5 187.0 685.8 169.7 686.0 171.1 686.2 181.5 686.5 186.6 686.8 170.6 687.0 168.3 687.2 184.1 687.5 185.7 687.8 168.0 688.0 169.6 688.2 185.2 688.5 190.0 688.8 169.1 689.0 161.9 689.2 192.5 689.5 186.6 689.8 169.7 690.0 163.4 690.2 189.6 690.5 191.9 690.8 167.2 691.0 169.4 691.2 189.4 691.5 189.3 691.8 169.8 692.0 168.8 692.2 188.6 692.5 189.2 692.8 169.9 693.0 170.2 693.2 188.4 693.5 183.7 693.8 169.2 694.0 168.3 694.2 186.3 694.5 186.7 694.8 169.0 695.0 165.8 695.2 185.5 695.5 196.9 695.8 167.2 696.0 162.9 696.2 188.3 696.5 186.9 696.8 164.2 697.0 167.9 697.2 193.7 697.5 190.0 697.8 164.1 698.0 163.0 698.2 188.6 698.5 192.3 698.8 167.4 699.0 167.3 699.2 188.0 699.5 187.0 699.8 170.4 700.0 167.0 700.2 188.9 700.5 190.8 700.8 165.6 701.0 169.4 701.2 188.7 701.5 191.0 701.8 168.2 702.0 168.5 702.2 188.7 702.5 191.3 702.8 170.1 703.0 163.8 703.2 195.6 703.5 185.9 703.8 163.6 704.0 162.5 704.2 193.3 704.5 194.5 704.8 165.7 705.0 169.4 705.2 186.2 705.5 186.7 705.8 156.1 706.0 167.6 706.2 185.6 706.5 184.7 706.8 168.0 707.0 169.3 707.2 185.6 707.5 193.8 707.8 172.0 708.0 170.7 708.2 186.0 708.5 189.4 708.8 169.8 709.0 168.1 709.2 189.3 709.5 186.5 709.8 171.0 710.0 171.4 710.2 198.7 710.5 187.0 710.8 168.9 711.0 167.9 711.2 190.7 711.5 188.0 711.8 170.1 712.0 168.2 712.2 189.9 712.5 188.4 712.8 167.0 713.0 167.6 713.2 189.8 713.5 186.5 713.8 163.8 714.0 170.2 714.2 184.8 714.5 187.6 714.8 170.4 715.0 169.8 715.2 188.3 715.5 184.0 715.8 169.9 716.0 171.3 716.2 186.8 716.5 193.3 716.8 164.6 717.0 170.4 717.2 186.6 717.5 186.4 717.8 170.2 718.0 171.7 718.2 192.3 718.5 198.7 718.8 166.9 719.0 168.3 719.2 199.6 719.5 195.8 719.8 165.3 720.0 170.2 720.2 188.5 720.5 185.9 720.8 165.3 721.0 170.1 721.2 186.3 721.5 186.8 721.8 170.3 722.0 170.7 722.2 189.5 722.5 186.2 722.8 165.4 723.0 168.3 723.2 188.3 723.5 187.3 723.8 169.9 724.0 170.9 724.2 188.7 724.5 187.9 724.8 168.0 725.0 170.3 725.2 188.0 725.5 189.7 725.8 164.2 726.0 162.3 726.2 188.0 726.5 185.5 726.8 165.5 727.0 160.8 727.2 187.7 727.5 185.2 727.8 163.0 728.0 164.6 728.2 187.5 728.5 188.7 728.8 159.3 729.0 167.5 729.2 187.8 729.5 187.8 729.8 165.3 730.0 166.5 730.2 189.5 730.5 195.0 730.8 165.1 731.0 168.8 731.2 188.6 731.5 187.9 731.8 170.1 732.0 167.8 732.2 188.6 732.5 190.4 732.8 168.0 733.0 156.3 733.2 189.0 733.5 191.8 733.8 165.8 734.0 162.8 734.2 189.4 734.5 187.1 734.8 162.9 735.0 167.9 735.2 189.4 735.5 192.5 735.8 166.4 736.0 165.5 736.2 188.5 736.5 186.4 736.8 167.0 737.0 160.6 737.2 185.5 737.5 186.9 737.8 164.3 738.0 163.0 738.2 185.5 738.5 184.6 738.8 165.5 739.0 167.5 739.2 183.9 739.5 185.6 739.8 168.5 740.0 163.8 740.2 183.0 740.5 184.6 740.8 167.2 741.0 168.1 741.2 186.2 741.5 186.9 741.8 168.5 742.0 168.2 742.2 187.8 742.5 191.8 742.8 170.5 743.0 169.6 743.2 191.3 743.5 185.1 743.8 169.7 744.0 170.0 744.2 188.0 744.5 198.5 744.8 160.4 745.0 158.4 745.2 190.9 745.5 189.6 745.8 167.6 746.0 168.1 746.2 184.0 746.5 183.5 746.8 167.1 747.0 168.0 747.2 186.1 747.5 184.4 747.8 167.6 748.0 166.2 748.2 186.1 748.5 185.3 748.8 169.0 749.0 165.1 749.2 190.5 749.5 186.9 749.8 169.0 750.0 167.4 750.2 193.5 750.5 184.5 750.8 168.2 751.0 167.3 751.2 185.8 751.5 185.9 751.8 157.1 752.0 170.1 752.2 185.3 752.5 185.1 752.8 171.2 753.0 169.7 753.2 185.2 753.5 185.1 753.8 172.7 754.0 172.2 754.2 187.7 754.5 188.4 754.8 173.3 755.0 172.7 755.2 190.0 755.5 198.7 755.8 171.6 756.0 171.5 756.2 183.4 756.5 185.7 756.8 170.0 757.0 172.1 757.2 184.2 757.5 187.8 757.8 169.1 758.0 171.7 758.2 188.2 758.5 186.1 758.8 171.7 759.0 171.3 759.2 192.2 759.5 192.0 759.8 172.3 760.0 170.2 760.2 187.9 760.5 187.7 760.8 171.2 761.0 168.5 761.2 190.0 761.5 187.6 761.8 171.8 762.0 171.1 762.2 187.5 762.5 191.9 762.8 166.3 763.0 167.7 763.2 187.5 763.5 190.5 763.8 167.7 764.0 167.7 764.2 187.7 764.5 188.2 764.8 168.5 765.0 167.7 765.2 195.4 765.5 190.6 765.8 167.7 766.0 162.1 766.2 186.9 766.5 187.4 766.8 165.7 767.0 164.7 767.2 182.8 767.5 185.4 767.8 168.2 768.0 165.0 768.2 190.3 768.5 187.6 768.8 164.5 769.0 157.4 769.2 188.1 769.5 185.5 769.8 163.2 770.0 163.0 770.2 201.1 770.5 187.2 770.8 165.5 771.0 163.7 771.2 198.0 771.5 200.4 771.8 168.7 772.0 170.6 772.2 189.6 772.5 189.9 772.8 170.3 773.0 164.0 773.2 190.4 773.5 184.9 773.8 170.5 774.0 167.4 774.2 193.7 774.5 193.9 774.8 170.3 775.0 177.0" fill="none" stroke="#0000ff" stroke-width="0.6" stroke-opacity="0.42" stroke-linejoin="bevel"/>
<path d="M572.0 176.8 572.2 176.8 572.5 187.6 572.8 168.1 573.0 164.6 573.2 190.8 573.5 184.4 573.8 167.5 574.0 168.3 574.2 185.9 574.5 187.2 574.8 168.7 575.0 168.2 575.2 185.9 575.5 184.7 575.8 166.7 576.0 168.7 576.2 184.4 576.5 183.6 576.8 167.0 577.0 167.7 577.2 183.2 577.5 187.1 577.8 168.0 578.0 171.0 578.2 186.0 578.5 193.2 578.8 170.5 579.0 170.8 579.2 187.3 579.5 188.9 579.8 168.9 580.0 168.8 580.2 189.8 580.5 184.6 580.8 170.8 581.0 166.4 581.2 185.7 581.5 188.6 581.8 170.3 582.0 167.5 582.2 183.3 582.5 189.0 582.8 168.0 583.0 169.6 583.2 187.4 583.5 184.5 583.8 171.5 584.0 167.0 584.2 188.7 584.5 187.0 584.8 168.0 585.0 170.7 585.2 186.5 585.5 195.7 585.8 171.2 586.0 168.4 586.2 190.4 586.5 187.9 586.8 168.1 587.0 167.6 587.2 185.9 587.5 187.5 587.8 168.1 588.0 165.6 588.2 187.8 588.5 188.3 588.8 168.5 589.0 164.5 589.2 193.6 589.5 188.5 589.8 166.1 590.0 164.6 590.2 201.4 590.5 188.2 590.8 163.0 591.0 167.1 591.2 192.7 591.5 193.8 591.8 164.2 592.0 167.0 592.2 194.4 592.5 189.9 592.8 169.5 593.0 168.2 593.2 190.1 593.5 188.0 593.8 169.6 594.0 168.3 594.2 187.2 594.5 195.4 594.8 167.2 595.0 170.6 595.2 187.7 595.5 193.6 595.8 168.3 596.0 171.3 596.2 190.0 596.5 187.4 596.8 164.7 597.0 166.4 597.2 187.3 597.5 186.5 597.8 169.7 598.0 169.4 598.2 189.6 598.5 188.9 598.8 169.1 599.0 168.2 599.2 189.8 599.5 190.5 599.8 168.8 600.0 167.7 600.2 187.2 600.5 186.2 600.8 172.5 601.0 168.3 601.2 201.7 601.5 186.2 601.8 153.9 602.0 169.0 602.2 187.5 602.5 187.2 602.8 168.3 603.0 166.2 603.2 186.3 603.5 190.0 603.8 166.8 604.0 162.1 604.2 190.1 604.5 192.3 604.8 164.9 605.0 169.3 605.2 187.3 605.5 191.2 605.8 168.4 606.0 166.2 606.2 186.2 606.5 192.2 606.8 164.8 607.0 165.8 607.2 184.1 607.5 186.1 607.8 164.3 608.0 165.3 608.2 189.7 608.5 186.4 608.8 168.4 609.0 165.3 609.2 186.8 609.5 191.0 609.8 167.9 610.0 165.6 610.2 190.6 610.5 192.0 610.8 167.9 611.0 169.5 611.2 194.2 611.5 194.5 611.8 165.9 612.0 167.4 612.2 193.8 612.5 188.6 612.8 165.0 613.0 168.6 613.2 197.5 613.5 188.7 613.8 169.5 614.0 168.2 614.2 184.6 614.5 190.7 614.8 163.4 615.0 168.1 615.2 194.6 615.5 192.2 615.8 168.1 616.0 161.7 616.2 185.7 616.5 185.7 616.8 166.4 617.0 165.2 617.2 189.1 617.5 186.4 617.8 166.1 618.0 166.5 618.2 188.0 618.5 185.1 618.8 167.5 619.0 166.3 619.2 184.9 619.5 183.7 619.8 170.4 620.0 169.1 620.2 183.2 620.5 182.7 620.8 168.6 621.0 170.9 621.2 186.3 621.5 186.3 621.8 169.5 622.0 163.9 622.2 185.5 622.5 186.4 622.8 168.9 623.0 165.5 623.2 187.5 623.5 188.5 623.8 164.1 624.0 168.2 624.2 187.7 624.5 190.6 624.8 170.0 625.0 170.1 625.2 192.8 625.5 190.3 625.8 170.9 626.0 170.2 626.2 195.7 626.5 191.3 626.8 170.3 627.0 166.8 627.2 192.1 627.5 190.9 627.8 159.0 628.0 164.3 628.2 193.9 628.5 188.4 628.8 164.2 629.0 161.6 629.2 189.4 629.5 185.6 629.8 165.0 630.0 167.4 630.2 184.7 630.5 187.8 630.8 169.4 631.0 168.1 631.2 189.1 631.5 184.0 631.8 168.0 632.0 168.8 632.2 184.9 632.5 182.4 632.8 169.2 633.0 166.3 633.2 184.5 633.5 182.0 633.8 169.5 634.0 169.6 634.2 187.3 634.5 185.3 634.8 167.1 635.0 170.1 635.2 183.0 635.5 184.1 635.8 168.1 636.0 171.2 636.2 185.4 636.5 186.6 636.8 171.2 637.0 167.8 637.2 184.5 637.5 185.1 637.8 167.6 638.0 167.1 638.2 185.9 638.5 186.5 638.8 172.2 639.0 169.4 639.2 188.2 639.5 189.0 639.8 166.8 640.0 164.1 640.2 191.6 640.5 197.6 640.8 169.0 641.0 163.8 641.2 191.8 641.5 194.8 641.8 168.0 642.0 168.3 642.2 190.1 642.5 189.0 642.8 166.4 643.0 166.7 643.2 190.1 643.5 192.4 643.8 168.3 644.0 168.9 644.2 193.3 644.5 193.2 644.8 170.8 645.0 171.7 645.2 185.6 645.5 189.7 645.8 172.6 646.0 171.7 646.2 191.0 646.5 185.9 646.8 171.7 647.0 170.8 647.2 194.0 647.5 187.1 647.8 172.2 648.0 170.8 648.2 186.2 648.5 190.5 648.8 170.4 649.0 170.6 649.2 190.0 649.5 193.8 649.8 167.6 650.0 170.1 650.2 190.1 650.5 190.1 650.8 170.1 651.0 169.1 651.2 186.6 651.5 185.7 651.8 166.7 652.0 168.3 652.2 187.5 652.5 186.1 652.8 171.7 653.0 170.3 653.2 186.4 653.5 186.4 653.8 172.5 654.0 170.9 654.2 187.5 654.5 184.7 654.8 170.7 655.0 169.8 655.2 186.0 655.5 187.1 655.8 165.5 656.0 167.6 656.2 182.6 656.5 182.6 656.8 165.7 657.0 154.7 657.2 184.3 657.5 186.1 657.8 165.0 658.0 168.5 658.2 189.2 658.5 190.6 658.8 164.6 659.0 169.3 659.2 187.1 659.5 195.1 659.8 169.6 660.0 168.9 660.2 188.9 660.5 190.9 660.8 168.4 661.0 169.6 661.2 200.8 661.5 191.5 661.8 165.2 662.0 157.9 662.2 192.5 662.5 190.2 662.8 164.2 663.0 166.5 663.2 191.7 663.5 194.0 663.8 170.3 664.0 167.0 664.2 190.7 664.5 191.4 664.8 169.6 665.0 161.8 665.2 190.6 665.5 200.7 665.8 168.8 666.0 169.6 666.2 188.2 666.5 187.5 666.8 169.5 667.0 170.9 667.2 189.7 667.5 192.6 667.8 161.9 668.0 166.2 668.2 194.6 668.5 194.0 668.8 169.8 669.0 169.1 669.2 190.3 669.5 189.0 669.8 166.7 670.0 168.7 670.2 185.3 670.5 185.0 670.8 171.0 671.0 169.4 671.2 184.3 671.5 183.2 671.8 170.2 672.0 169.9 672.2 183.3 672.5 184.4 672.8 169.9 673.0 165.4 673.2 187.7 673.5 190.4 673.8 166.3 674.0 163.1 674.2 185.9 674.5 192.3 674.8 165.4 675.0 166.1 675.2 191.2 675.5 189.9 675.8 167.5 676.0 167.6 676.2 187.1 676.5 185.4 676.8 163.6 677.0 168.8 677.2 186.0 677.5 185.2 677.8 172.6 678.0 172.8 678.2 185.5 678.5 185.8 678.8 172.6 679.0 172.7 679.2 186.4 679.5 187.3 679.8 172.0 680.0 169.7 680.2 186.7 680.5 190.1 680.8 169.4 681.0 168.6 681.2 189.7 681.5 193.1 681.8 169.9 682.0 167.9 682.2 186.9 682.5 188.2 682.8 168.2 683.0 162.6 683.2 188.5 683.5 187.3 683.8 169.6 684.0 164.4 684.2 189.9 684.5 186.2 684.8 163.5 685.0 162.6 685.2 190.5 685.5 187.8 685.8 167.7 686.0 170.9 686.2 191.7 686.5 193.0 686.8 169.4 687.0 168.7 687.2 186.6 687.5 188.7 687.8 171.7 688.0 171.7 688.2 195.6 688.5 191.1 688.8 172.0 689.0 172.0 689.2 189.3 689.5 188.1 689.8 169.6 690.0 169.9 690.2 198.6 690.5 185.5 690.8 171.2 691.0 169.4 691.2 185.8 691.5 190.7 691.8 166.1 692.0 170.5 692.2 183.8 692.5 183.5 692.8 169.6 693.0 162.9 693.2 182.7 693.5 182.1 693.8 167.6 694.0 166.9 694.2 183.9 694.5 187.9 694.8 168.5 695.0 169.2 695.2 188.8 695.5 190.1 695.8 169.7 696.0 169.6 696.2 206.3 696.5 199.7 696.8 168.0 697.0 170.0 697.2 196.1 697.5 191.7 697.8 166.6 698.0 169.2 698.2 192.9 698.5 190.7 698.8 163.5 699.0 170.0 699.2 191.2 699.5 192.9 699.8 169.5 700.0 166.1 700.2 188.8 700.5 207.8 700.8 167.1 701.0 165.5 701.2 188.5 701.5 188.9 701.8 172.2 702.0 172.5 702.2 189.1 702.5 190.3 702.8 172.6 703.0 171.9 703.2 199.8 703.5 187.8 703.8 172.4 704.0 170.6 704.2 188.6 704.5 189.7 704.8 169.5 705.0 165.9 705.2 192.6 705.5 190.1 705.8 169.7 706.0 167.8 706.2 191.2 706.5 189.1 706.8 165.4 707.0 169.7 707.2 190.1 707.5 186.5 707.8 164.5 708.0 165.6 708.2 188.7 708.5 191.6 708.8 165.2 709.0 170.9 709.2 195.2 709.5 193.6 709.8 165.9 710.0 164.3 710.2 196.2 710.5 191.0 710.8 168.5 711.0 169.2 711.2 201.0 711.5 193.9 711.8 171.0 712.0 166.9 712.2 192.7 712.5 189.2 712.8 171.4 713.0 170.7 713.2 187.8 713.5 186.8 713.8 168.8 714.0 171.0 714.2 183.7 714.5 191.7 714.8 171.8 715.0 171.9 715.2 186.4 715.5 189.7 715.8 170.9 716.0 170.3 716.2 186.3 716.5 187.0 716.8 170.0 717.0 164.8 717.2 187.8 717.5 186.7 717.8 169.5 718.0 170.1 718.2 185.6 718.5 186.8 718.8 170.3 719.0 167.3 719.2 184.4 719.5 185.7 719.8 167.9 720.0 168.3 720.2 187.7 720.5 186.1 720.8 165.4 721.0 170.1 721.2 195.0 721.5 187.1 721.8 165.6 722.0 168.9 722.2 183.6 722.5 186.2 722.8 168.7 723.0 168.6 723.2 188.0 723.5 185.8 723.8 170.4 724.0 170.5 724.2 184.9 724.5 188.6 724.8 171.5 725.0 168.2 725.2 187.5 725.5 190.8 725.8 170.5 726.0 171.6 726.2 191.9 726.5 190.3 726.8 170.8 727.0 171.5 727.2 189.4 727.5 190.5 727.8 172.4 728.0 170.9 728.2 197.9 728.5 193.2 728.8 171.5 729.0 169.2 729.2 189.7 729.5 188.8 729.8 159.8 730.0 170.7 730.2 189.1 730.5 187.4 730.8 169.5 731.0 164.3 731.2 194.6 731.5 189.5 731.8 164.8 732.0 162.4 732.2 195.8 732.5 186.8 732.8 169.9 733.0 169.2 733.2 187.1 733.5 192.9 733.8 168.0 734.0 163.2 734.2 185.9 734.5 186.9 734.8 169.2 735.0 167.9 735.2 186.2 735.5 185.7 735.8 167.7 736.0 167.4 736.2 184.8 736.5 186.7 736.8 167.3 737.0 166.2 737.2 185.9 737.5 185.7 737.8 163.4 738.0 165.5 738.2 186.8 738.5 190.5 738.8 167.6 739.0 165.6 739.2 194.4 739.5 187.3 739.8 167.9 740.0 167.9 740.2 194.3 740.5 191.3 740.8 169.9 741.0 168.1 741.2 189.4 741.5 188.0 741.8 169.9 742.0 170.0 742.2 189.2 742.5 189.1 742.8 171.3 743.0 170.8 743.2 185.9 743.5 185.2 743.8 169.4 744.0 168.9 744.2 191.5 744.5 193.3 744.8 168.0 745.0 167.2 745.2 192.8 745.5 197.0 745.8 164.8 746.0 166.5 746.2 198.6 746.5 189.8 746.8 168.7 747.0 170.9 747.2 193.2 747.5 188.3 747.8 170.7 748.0 169.4 748.2 191.7 748.5 187.9 748.8 171.6 749.0 170.6 749.2 189.1 749.5 188.9 749.8 167.3 750.0 168.6 750.2 189.0 750.5 191.7 750.8 166.2 751.0 168.6 751.2 188.2 751.5 194.9 751.8 168.6 752.0 170.0 752.2 188.5 752.5 188.5 752.8 169.8 753.0 169.5 753.2 188.9 753.5 185.6 753.8 168.0 754.0 161.4 754.2 185.4 754.5 189.3 754.8 168.9 755.0 170.6 755.2 183.4 755.5 183.4 755.8 168.7 756.0 170.6 756.2 185.2 756.5 182.2 756.8 169.2 757.0 169.6 757.2 184.3 757.5 181.9 757.8 161.1 758.0 167.6 758.2 186.6 758.5 187.6 758.8 162.0 759.0 162.2 759.2 186.1 759.5 189.7 759.8 164.1 760.0 155.7 760.2 184.0 760.5 187.9 760.8 163.0 761.0 167.3 761.2 190.4 761.5 184.2 761.8 166.6 762.0 167.3 762.2 183.1 762.5 183.6 762.8 160.7 763.0 168.8 763.2 187.9 763.5 184.0 763.8 167.0 764.0 168.5 764.2 187.4 764.5 189.8 764.8 169.6 765.0 168.2 765.2 189.6 765.5 196.1 765.8 165.7 766.0 168.5 766.2 190.7 766.5 191.0 766.8 164.9 767.0 164.7 767.2 192.3 767.5 190.7 767.8 164.3 768.0 167.7 768.2 191.1 768.5 188.7 768.8 162.0 769.0 159.9 769.2 187.9 769.5 189.8 769.8 168.3 770.0 166.4 770.2 189.5 770.5 188.2 770.8 169.7 771.0 170.4 771.2 185.7 771.5 184.7 771.8 168.9 772.0 166.4 772.2 192.3 772.5 186.1 772.8 169.1 773.0 168.3 773.2 184.8 773.5 190.1 773.8 164.8 774.0 165.9 774.2 186.4 774.5 191.2 774.8 166.6 775.0 177.0" fill="none" stroke="#0000ff" stroke-width="0.6" stroke-opacity="0.42" stroke-linejoin="bevel"/>
<path d="M572.0 176.8 572.2 176.8 572.5 188.1 572.8 169.9 573.0 169.5 573.2 188.7 573.5 189.6 573.8 170.1 574.0 169.0 574.2 185.8 574.5 187.3 574.8 169.8 575.0 169.6 575.2 186.6 575.5 190.6 575.8 168.4 576.0 167.1 576.2 185.1 576.5 184.2 576.8 168.9 577.0 171.4 577.2 183.5 577.5 185.5 577.8 171.4 578.0 171.9 578.2 184.8 578.5 185.9 578.8 167.3 579.0 171.8 579.2 184.1 579.5 190.2 579.8 173.8 580.0 168.2 580.2 188.0 580.5 199.2 580.8 172.0 581.0 171.7 581.2 196.0 581.5 192.7 581.8 169.8 582.0 172.0 582.2 191.8 582.5 186.5 582.8 171.5 583.0 168.3 583.2 193.2 583.5 190.5 583.8 167.4 584.0 163.9 584.2 186.3 584.5 186.9 584.8 166.0 585.0 167.2 585.2 186.9 585.5 188.5 585.8 166.8 586.0 167.9 586.2 185.8 586.5 187.5 586.8 166.2 587.0 169.0 587.2 192.1 587.5 187.4 587.8 161.5 588.0 171.1 588.2 194.2 588.5 195.3 588.8 167.7 589.0 167.6 589.2 190.4 589.5 192.7 589.8 165.7 590.0 166.7 590.2 199.2 590.5 195.3 590.8 169.2 591.0 167.3 591.2 189.0 591.5 186.5 591.8 166.5 592.0 164.0 592.2 185.0 592.5 184.5 592.8 164.9 593.0 163.0 593.2 182.9 593.5 184.4 593.8 164.1 594.0 162.6 594.2 188.2 594.5 190.1 594.8 159.6 595.0 160.5 595.2 185.8 595.5 186.4 595.8 164.9 596.0 168.0 596.2 189.2 596.5 186.0 596.8 167.8 597.0 164.3 597.2 189.7 597.5 194.7 597.8 166.0 598.0 165.6 598.2 186.6 598.5 190.1 598.8 168.0 599.0 168.9 599.2 188.0 599.5 189.5 599.8 170.3 600.0 164.7 600.2 187.6 600.5 184.1 600.8 162.6 601.0 164.7 601.2 188.7 601.5 185.3 601.8 168.0 602.0 166.6 602.2 186.1 602.5 190.2 602.8 165.9 603.0 167.0 603.2 186.7 603.5 185.9 603.8 168.6 604.0 165.8 604.2 185.2 604.5 189.2 604.8 169.1 605.0 168.5 605.2 188.1 605.5 186.4 605.8 167.3 606.0 169.8 606.2 188.8 606.5 186.4 606.8 169.8 607.0 168.5 607.2 192.1 607.5 188.0 607.8 167.0 608.0 166.8 608.2 185.4 608.5 193.3 608.8 168.8 609.0 163.7 609.2 185.2 609.5 188.8 609.8 170.4 610.0 170.3 610.2 185.5 610.5 185.3 610.8 169.3 611.0 169.3 611.2 184.5 611.5 198.2 611.8 166.5 612.0 164.3 612.2 183.1 612.5 185.3 612.8 166.7 613.0 169.8 613.2 185.8 613.5 184.9 613.8 170.7 614.0 170.0 614.2 183.0 614.5 185.9 614.8 169.2 615.0 169.6 615.2 186.7 615.5 188.2 615.8 168.5 616.0 167.5 616.2 184.8 616.5 185.7 616.8 168.6 617.0 161.6 617.2 187.8 617.5 184.7 617.8 158.6 618.0 167.9 618.2 185.7 618.5 194.4 618.8 165.6 619.0 162.2 619.2 189.1 619.5 187.3 619.8 166.8 620.0 164.3 620.2 185.4 620.5 186.5 620.8 163.8 621.0 166.9 621.2 182.9 621.5 187.2 621.8 166.5 622.0 167.9 622.2 186.1 622.5 189.6 622.8 169.2 623.0 162.3 623.2 189.1 623.5 187.1 623.8 167.3 624.0 170.8 624.2 190.2 624.5 196.6 624.8 170.0 625.0 171.6 625.2 199.7 625.5 199.3 625.8 171.1 626.0 167.4 626.2 200.0 626.5 204.4 626.8 165.0 627.0 171.1 627.2 197.3 627.5 190.0 627.8 170.7 628.0 169.4 628.2 195.5 628.5 193.2 628.8 169.9 629.0 167.6 629.2 196.0 629.5 195.1 629.8 169.3 630.0 168.8 630.2 187.8 630.5 186.8 630.8 168.5 631.0 170.4 631.2 185.7 631.5 184.6 631.8 166.9 632.0 170.2 632.2 188.4 632.5 188.5 632.8 168.6 633.0 168.8 633.2 186.5 633.5 185.0 633.8 164.4 634.0 166.2 634.2 183.8 634.5 194.0 634.8 168.4 635.0 165.8 635.2 182.4 635.5 188.5 635.8 160.8 636.0 164.4 636.2 184.5 636.5 182.9 636.8 167.3 637.0 166.4 637.2 185.1 637.5 183.0 637.8 163.4 638.0 168.6 638.2 189.6 638.5 188.4 638.8 160.7 639.0 162.1 639.2 188.2 639.5 185.7 639.8 168.6 640.0 162.7 640.2 186.5 640.5 188.8 640.8 161.5 641.0 169.5 641.2 190.3 641.5 186.5 641.8 167.2 642.0 166.9 642.2 187.0 642.5 186.1 642.8 162.3 643.0 169.0 643.2 181.5 643.5 181.7 643.8 163.8 644.0 171.2 644.2 188.1 644.5 184.9 644.8 170.9 645.0 171.0 645.2 185.1 645.5 185.0 645.8 172.0 646.0 171.8 646.2 186.2 646.5 187.6 646.8 171.1 647.0 173.4 647.2 186.1 647.5 192.0 647.8 172.5 648.0 170.8 648.2 187.1 648.5 190.0 648.8 162.0 649.0 170.2 649.2 189.4 649.5 185.8 649.8 170.7 650.0 165.9 650.2 186.9 650.5 189.0 650.8 170.9 651.0 165.2 651.2 187.6 651.5 188.3 651.8 170.3 652.0 171.6 652.2 187.3 652.5 188.2 652.8 171.9 653.0 172.5 653.2 187.2 653.5 186.6 653.8 169.5 654.0 167.0 654.2 186.5 654.5 186.6 654.8 166.0 655.0 167.2 655.2 192.9 655.5 189.4 655.8 159.7 656.0 170.5 656.2 189.2 656.5 190.9 656.8 164.0 657.0 169.7 657.2 189.9 657.5 187.5 657.8 170.2 658.0 169.3 658.2 192.1 658.5 199.3 658.8 171.9 659.0 170.3 659.2 188.4 659.5 188.2 659.8 169.5 660.0 168.5 660.2 188.9 660.5 202.8 660.8 168.8 661.0 160.5 661.2 193.9 661.5 191.5 661.8 166.7 662.0 167.5 662.2 194.3 662.5 191.8 662.8 169.8 663.0 168.5 663.2 194.5 663.5 191.0 663.8 167.6 664.0 171.1 664.2 193.1 664.5 193.8 664.8 167.4 665.0 171.1 665.2 196.3 665.5 195.3 665.8 167.2 666.0 173.2 666.2 196.8 666.5 199.6 666.8 169.9 667.0 170.3 667.2 189.0 667.5 193.7 667.8 171.3 668.0 161.7 668.2 195.1 668.5 187.4 668.8 172.0 669.0 171.9 669.2 189.2 669.5 188.3 669.8 168.7 670.0 166.6 670.2 185.3 670.5 188.8 670.8 170.7 671.0 167.2 671.2 188.5 671.5 193.5 671.8 172.0 672.0 169.8 672.2 186.5 672.5 189.8 672.8 168.4 673.0 168.8 673.2 186.9 673.5 188.8 673.8 170.1 674.0 167.1 674.2 191.4 674.5 186.4 674.8 167.4 675.0 163.9 675.2 187.6 675.5 185.4 675.8 170.1 676.0 161.8 676.2 186.5 676.5 186.9 676.8 166.7 677.0 167.3 677.2 197.5 677.5 192.6 677.8 167.6 678.0 163.1 678.2 187.5 678.5 188.9 678.8 152.8 679.0 163.1 679.2 187.1 679.5 184.5 679.8 159.4 680.0 166.8 680.2 184.6 680.5 186.1 680.8 157.5 681.0 163.0 681.2 187.6 681.5 184.6 681.8 160.9 682.0 166.3 682.2 185.7 682.5 183.7 682.8 170.2 683.0 167.3 683.2 185.2 683.5 187.2 683.8 162.8 684.0 167.7 684.2 188.1 684.5 186.8 684.8 168.7 685.0 166.1 685.2 188.1 685.5 192.8 685.8 171.3 686.0 170.7 686.2 190.2 686.5 191.5 686.8 168.1 687.0 168.5 687.2 189.7 687.5 190.7 687.8 170.4 688.0 168.8 688.2 187.2 688.5 190.0 688.8 170.0 689.0 169.3 689.2 191.2 689.5 194.1 689.8 169.0 690.0 171.4 690.2 189.7 690.5 194.9 690.8 170.4 691.0 169.8 691.2 187.7 691.5 188.4 691.8 164.8 692.0 165.7 692.2 189.6 692.5 186.5 692.8 167.4 693.0 164.4 693.2 186.8 693.5 200.7 693.8 169.4 694.0 168.6 694.2 185.7 694.5 188.3 694.8 169.1 695.0 164.9 695.2 189.3 695.5 181.9 695.8 168.4 696.0 168.7 696.2 182.7 696.5 185.4 696.8 170.1 697.0 168.0 697.2 184.7 697.5 185.7 697.8 169.0 698.0 167.3 698.2 188.1 698.5 182.7 698.8 167.7 699.0 165.9 699.2 188.3 699.5 184.5 699.8 169.3 700.0 168.6 700.2 188.1 700.5 183.9 700.8 167.1 701.0 165.1 701.2 184.4 701.5 188.4 701.8 168.1 702.0 165.8 702.2 185.3 702.5 186.4 702.8 170.9 703.0 169.7 703.2 189.8 703.5 184.8 703.8 170.7 704.0 171.1 704.2 193.0 704.5 191.4 704.8 167.4 705.0 171.3 705.2 186.4 705.5 185.3 705.8 170.5 706.0 172.1 706.2 190.2 706.5 186.9 706.8 171.4 707.0 169.1 707.2 187.0 707.5 191.9 707.8 169.4 708.0 159.2 708.2 185.8 708.5 191.0 708.8 170.7 709.0 171.2 709.2 191.3 709.5 186.4 709.8 168.1 710.0 170.5 710.2 190.1 710.5 187.5 710.8 170.1 711.0 169.8 711.2 188.3 711.5 188.5 711.8 165.8 712.0 170.3 712.2 188.1 712.5 185.1 712.8 169.9 713.0 171.9 713.2 185.1 713.5 189.6 713.8 165.7 714.0 171.1 714.2 189.5 714.5 185.1 714.8 171.1 715.0 169.4 715.2 187.0 715.5 187.0 715.8 169.8 716.0 171.1 716.2 185.3 716.5 198.0 716.8 169.4 717.0 167.0 717.2 191.3 717.5 189.8 717.8 168.2 718.0 169.2 718.2 189.6 718.5 186.4 718.8 169.3 719.0 166.8 719.2 188.4 719.5 187.9 719.8 170.3 720.0 166.3 720.2 188.4 720.5 189.7 720.8 168.4 721.0 168.6 721.2 187.5 721.5 189.5 721.8 166.5 722.0 165.9 722.2 188.9 722.5 190.3 722.8 168.8 723.0 169.8 723.2 198.4 723.5 193.0 723.8 167.1 724.0 164.5 724.2 190.9 724.5 194.0 724.8 167.9 725.0 167.4 725.2 190.9 725.5 191.0 725.8 168.7 726.0 128.6 726.2 189.8 726.5 190.3 726.8 163.5 727.0 167.8 727.2 189.3 727.5 192.6 727.8 168.4 728.0 167.9 728.2 186.2 728.5 188.9 728.8 165.9 729.0 168.3 729.2 184.4 729.5 186.7 729.8 168.4 730.0 168.1 730.2 184.6 730.5 187.4 730.8 168.0 731.0 165.4 731.2 183.2 731.5 183.0 731.8 167.5 732.0 169.8 732.2 188.3 732.5 183.8 732.8 164.3 733.0 167.6 733.2 185.3 733.5 187.3 733.8 167.7 734.0 159.2 734.2 183.0 734.5 186.0 734.8 161.6 735.0 162.0 735.2 186.3 735.5 185.4 735.8 162.5 736.0 164.2 736.2 182.3 736.5 187.4 736.8 159.8 737.0 168.8 737.2 183.8 737.5 183.3 737.8 166.5 738.0 166.9 738.2 185.4 738.5 184.2 738.8 170.4 739.0 166.7 739.2 185.4 739.5 185.9 739.8 167.6 740.0 167.8 740.2 187.2 740.5 193.9 740.8 164.6 741.0 170.8 741.2 185.9 741.5 189.2 741.8 170.6 742.0 169.2 742.2 210.3 742.5 189.7 742.8 170.4 743.0 166.6 743.2 189.9 743.5 195.9 743.8 169.7 744.0 172.3 744.2 188.6 744.5 189.2 744.8 171.5 745.0 166.7 745.2 192.5 745.5 188.6 745.8 171.0 746.0 170.9 746.2 185.9 746.5 189.1 746.8 168.8 747.0 165.7 747.2 185.2 747.5 184.5 747.8 165.6 748.0 167.6 748.2 182.2 748.5 182.7 748.8 168.7 749.0 169.4 749.2 181.8 749.5 181.8 749.8 168.6 750.0 166.8 750.2 184.4 750.5 184.7 750.8 164.9 751.0 166.6 751.2 185.2 751.5 190.1 751.8 166.7 752.0 166.1 752.2 186.7 752.5 186.5 752.8 167.5 753.0 164.6 753.2 186.7 753.5 185.1 753.8 167.0 754.0 169.1 754.2 185.3 754.5 185.5 754.8 169.3 755.0 170.6 755.2 187.8 755.5 187.3 755.8 171.6 756.0 166.1 756.2 186.4 756.5 183.3 756.8 170.5 757.0 164.4 757.2 184.7 757.5 189.1 757.8 166.5 758.0 167.5 758.2 185.3 758.5 184.8 758.8 169.3 759.0 167.8 759.2 194.6 759.5 191.1 759.8 170.0 760.0 170.5 760.2 185.1 760.5 186.1 760.8 167.2 761.0 167.5 761.2 194.2 761.5 191.2 761.8 164.0 762.0 167.0 762.2 186.6 762.5 189.1 762.8 166.2 763.0 165.4 763.2 184.9 763.5 187.2 763.8 167.2 764.0 169.4 764.2 186.8 764.5 184.0 764.8 164.6 765.0 167.4 765.2 185.9 765.5 184.9 765.8 158.8 766.0 167.8 766.2 183.8 766.5 182.1 766.8 169.3 767.0 169.3 767.2 182.7 767.5 184.2 767.8 161.0 768.0 164.3 768.2 185.2 768.5 187.6 768.8 159.9 769.0 168.3 769.2 188.4 769.5 187.1 769.8 168.1 770.0 168.4 770.2 187.4 770.5 192.1 770.8 164.8 771.0 170.0 771.2 184.7 771.5 188.3 771.8 171.0 772.0 169.0 772.2 186.0 772.5 188.1 772.8 169.6 773.0 166.0 773.2 191.2 773.5 185.9 773.8 169.7 774.0 169.8 774.2 188.6 774.5 189.8 774.8 171.0 775.0 177.0" fill="none" stroke="#0000ff" stroke-width="0.6" stroke-opacity="0.42" stroke-linejoin="bevel"/>
<path d="M572.0 176.4 572.2 176.4 572.5 180.2 572.8 172.7 573.0 170.8 573.2 180.9 573.5 180.1 573.8 170.7 574.0 171.7 574.2 181.2 574.5 181.5 574.8 170.7 575.0 172.5 575.2 181.7 575.5 184.0 575.8 171.5 576.0 172.8 576.2 182.6 576.5 182.4 576.8 171.1 577.0 171.4 577.2 181.6 577.5 182.2 577.8 172.4 578.0 172.5 578.2 182.1 578.5 182.4 578.8 173.0 579.0 172.2 579.2 182.4 579.5 183.4 579.8 173.1 580.0 173.4 580.2 181.5 580.5 182.1 580.8 171.3 581.0 171.7 581.2 182.8 581.5 181.6 581.8 172.1 582.0 172.1 582.2 180.1 582.5 180.2 582.8 171.7 583.0 171.5 583.2 182.3 583.5 180.1 583.8 171.9 584.0 170.9 584.2 180.2 584.5 180.7 584.8 172.9 585.0 172.9 585.2 180.1 585.5 181.1 585.8 173.3 586.0 173.2 586.2 180.6 586.5 181.8 586.8 173.7 587.0 173.1 587.2 180.5 587.5 181.5 587.8 173.2 588.0 172.9 588.2 180.6 588.5 181.0 588.8 172.9 589.0 172.2 589.2 180.5 589.5 181.5 589.8 170.6 590.0 170.7 590.2 181.8 590.5 183.6 590.8 171.6 591.0 170.5 591.2 181.3 591.5 183.2 591.8 171.7 592.0 171.7 592.2 181.8 592.5 183.5 592.8 170.0 593.0 171.9 593.2 181.8 593.5 182.2 593.8 172.1 594.0 170.6 594.2 181.1 594.5 181.5 594.8 171.9 595.0 171.5 595.2 180.8 595.5 180.1 595.8 171.7 596.0 171.9 596.2 180.3 596.5 181.2 596.8 171.2 597.0 171.2 597.2 182.0 597.5 181.4 597.8 172.2 598.0 172.5 598.2 183.0 598.5 182.6 598.8 172.8 599.0 171.9 599.2 182.5 599.5 181.4 599.8 171.4 600.0 171.4 600.2 181.2 600.5 181.5 600.8 171.2 601.0 170.9 601.2 181.0 601.5 180.9 601.8 172.1 602.0 172.2 602.2 183.0 602.5 181.4 602.8 172.4 603.0 171.7 603.2 181.1 603.5 182.7 603.8 170.8 604.0 171.4 604.2 180.4 604.5 181.4 604.8 171.2 605.0 171.3 605.2 179.9 605.5 179.2 605.8 171.2 606.0 172.2 606.2 180.9 606.5 181.8 606.8 172.6 607.0 172.6 607.2 181.4 607.5 181.2 607.8 172.1 608.0 172.0 608.2 182.5 608.5 182.4 608.8 173.5 609.0 172.8 609.2 184.0 609.5 182.4 609.8 172.6 610.0 172.6 610.2 182.2 610.5 182.1 610.8 172.8 611.0 171.5 611.2 181.3 611.5 182.5 611.8 173.7 612.0 172.9 612.2 183.9 612.5 183.5 612.8 173.7 613.0 172.4 613.2 181.5 613.5 181.8 613.8 172.1 614.0 173.7 614.2 183.1 614.5 182.7 614.8 173.4 615.0 173.2 615.2 181.8 615.5 183.0 615.8 171.6 616.0 171.8 616.2 181.3 616.5 180.3 616.8 170.8 617.0 171.4 617.2 181.0 617.5 182.1 617.8 171.2 618.0 171.0 618.2 179.7 618.5 180.5 618.8 170.9 619.0 171.0 619.2 179.8 619.5 179.5 619.8 170.4 620.0 170.2 620.2 180.7 620.5 179.2 620.8 171.2 621.0 170.3 621.2 179.6 621.5 180.2 621.8 169.8 622.0 170.9 622.2 179.6 622.5 180.1 622.8 170.6 623.0 170.4 623.2 179.8 623.5 178.9 623.8 170.2 624.0 171.2 624.2 179.7 624.5 181.1 624.8 171.3 625.0 171.0 625.2 180.1 625.5 179.8 625.8 171.1 626.0 171.8 626.2 180.5 626.5 180.8 626.8 171.4 627.0 170.3 627.2 180.7 627.5 181.9 627.8 171.3 628.0 171.8 628.2 184.1 628.5 181.1 628.8 171.5 629.0 172.5 629.2 181.7 629.5 182.1 629.8 170.5 630.0 172.2 630.2 181.5 630.5 181.2 630.8 171.2 631.0 171.3 631.2 180.9 631.5 181.1 631.8 172.2 632.0 172.0 632.2 182.1 632.5 181.5 632.8 172.1 633.0 172.1 633.2 181.8 633.5 181.8 633.8 171.3 634.0 169.9 634.2 180.3 634.5 180.2 634.8 170.9 635.0 169.7 635.2 179.5 635.5 180.2 635.8 170.2 636.0 170.0 636.2 179.9 636.5 180.5 636.8 170.4 637.0 170.0 637.2 180.0 637.5 180.0 637.8 170.3 638.0 169.4 638.2 181.9 638.5 180.8 638.8 170.1 639.0 169.9 639.2 180.5 639.5 180.4 639.8 171.7 640.0 172.5 640.2 180.9 640.5 180.9 640.8 172.1 641.0 172.1 641.2 181.8 641.5 181.5 641.8 173.2 642.0 172.3 642.2 182.1 642.5 181.9 642.8 172.7 643.0 172.0 643.2 181.0 643.5 180.9 643.8 172.8 644.0 172.1 644.2 181.7 644.5 182.8 644.8 173.1 645.0 172.9 645.2 181.3 645.5 182.3 645.8 172.7 646.0 173.6 646.2 182.1 646.5 181.5 646.8 173.2 647.0 172.9 647.2 181.4 647.5 181.1 647.8 171.9 648.0 172.8 648.2 181.6 648.5 181.3 648.8 172.8 649.0 171.6 649.2 181.9 649.5 181.3 649.8 171.4 650.0 172.3 650.2 182.0 650.5 180.6 650.8 172.0 651.0 170.9 651.2 180.5 651.5 181.1 651.8 171.4 652.0 170.4 652.2 181.4 652.5 182.1 652.8 172.3 653.0 172.8 653.2 182.9 653.5 184.1 653.8 172.6 654.0 171.3 654.2 183.9 654.5 183.4 654.8 171.5 655.0 171.3 655.2 181.8 655.5 181.7 655.8 171.1 656.0 170.6 656.2 182.0 656.5 181.3 656.8 171.9 657.0 170.7 657.2 181.0 657.5 182.6 657.8 172.1 658.0 170.6 658.2 181.2 658.5 183.0 658.8 172.8 659.0 172.2 659.2 180.6 659.5 182.0 659.8 172.4 660.0 173.0 660.2 182.2 660.5 182.5 660.8 173.5 661.0 173.0 661.2 183.1 661.5 183.2 661.8 173.3 662.0 171.8 662.2 183.0 662.5 181.9 662.8 171.6 663.0 173.5 663.2 182.5 663.5 183.8 663.8 173.2 664.0 173.3 664.2 182.5 664.5 182.5 664.8 170.6 665.0 172.7 665.2 183.3 665.5 183.6 665.8 172.0 666.0 173.6 666.2 183.4 666.5 184.7 666.8 173.3 667.0 173.1 667.2 184.4 667.5 184.8 667.8 175.2 668.0 173.8 668.2 183.8 668.5 183.7 668.8 175.7 669.0 174.7 669.2 183.6 669.5 185.6 669.8 174.9 670.0 173.8 670.2 184.1 670.5 183.0 670.8 173.8 671.0 173.4 671.2 182.7 671.5 185.3 671.8 173.4 672.0 173.3 672.2 182.9 672.5 183.5 672.8 172.9 673.0 172.7 673.2 182.9 673.5 183.1 673.8 172.6 674.0 172.3 674.2 182.6 674.5 183.3 674.8 173.0 675.0 173.9 675.2 182.8 675.5 184.3 675.8 173.2 676.0 174.6 676.2 182.7 676.5 184.0 676.8 174.2 677.0 174.2 677.2 183.8 677.5 183.9 677.8 173.3 678.0 173.6 678.2 183.6 678.5 181.9 678.8 172.5 679.0 170.8 679.2 181.8 679.5 182.1 679.8 172.8 680.0 171.8 680.2 182.8 680.5 181.5 680.8 172.1 681.0 173.3 681.2 181.3 681.5 182.2 681.8 172.1 682.0 172.4 682.2 182.6 682.5 184.0 682.8 172.4 683.0 171.6 683.2 181.6 683.5 183.2 683.8 171.5 684.0 172.6 684.2 182.7 684.5 181.7 684.8 170.9 685.0 171.6 685.2 182.5 685.5 181.7 685.8 172.1 686.0 170.1 686.2 182.6 686.5 181.5 686.8 171.1 687.0 170.8 687.2 181.4 687.5 181.5 687.8 170.6 688.0 170.9 688.2 182.1 688.5 182.4 688.8 169.9 689.0 171.0 689.2 182.3 689.5 180.7 689.8 171.6 690.0 171.9 690.2 181.4 690.5 181.4 690.8 171.9 691.0 170.4 691.2 181.2 691.5 180.8 691.8 170.6 692.0 171.0 692.2 182.2 692.5 181.6 692.8 170.7 693.0 170.6 693.2 181.1 693.5 181.0 693.8 172.0 694.0 171.5 694.2 181.8 694.5 179.8 694.8 170.4 695.0 170.8 695.2 181.5 695.5 181.2 695.8 170.5 696.0 170.5 696.2 180.4 696.5 181.2 696.8 170.6 697.0 170.4 697.2 180.4 697.5 183.9 697.8 170.9 698.0 171.5 698.2 182.0 698.5 181.2 698.8 169.5 699.0 172.1 699.2 180.7 699.5 181.9 699.8 172.2 700.0 172.3 700.2 181.0 700.5 180.6 700.8 172.5 701.0 170.8 701.2 180.7 701.5 180.7 701.8 171.7 702.0 172.6 702.2 180.9 702.5 181.3 702.8 173.0 703.0 172.8 703.2 181.8 703.5 181.0 703.8 173.3 704.0 172.3 704.2 180.9 704.5 183.7 704.8 172.8 705.0 172.3 705.2 181.1 705.5 181.4 705.8 172.0 706.0 172.9 706.2 183.9 706.5 182.1 706.8 173.3 707.0 172.2 707.2 182.4 707.5 182.7 707.8 172.8 708.0 172.3 708.2 183.2 708.5 183.5 708.8 173.7 709.0 173.4 709.2 182.5 709.5 185.4 709.8 174.4 710.0 173.7 710.2 183.6 710.5 183.4 710.8 173.7 711.0 173.3 711.2 184.8 711.5 183.6 711.8 173.1 712.0 171.9 712.2 183.2 712.5 183.5 712.8 173.2 713.0 173.9 713.2 183.3 713.5 184.9 713.8 174.0 714.0 173.5 714.2 182.4 714.5 183.5 714.8 174.4 715.0 174.5 715.2 182.7 715.5 182.1 715.8 173.8 716.0 173.9 716.2 183.1 716.5 183.2 716.8 173.4 717.0 173.5 717.2 182.4 717.5 182.6 717.8 173.1 718.0 172.7 718.2 183.4 718.5 184.1 718.8 173.6 719.0 173.2 719.2 183.6 719.5 184.6 719.8 174.3 720.0 173.5 720.2 183.1 720.5 183.9 720.8 173.9 721.0 172.1 721.2 183.9 721.5 184.6 721.8 174.0 722.0 171.8 722.2 185.4 722.5 182.5 722.8 172.9 723.0 174.1 723.2 184.4 723.5 183.4 723.8 173.5 724.0 174.5 724.2 182.6 724.5 183.5 724.8 173.9 725.0 173.1 725.2 181.8 725.5 181.6 725.8 172.8 726.0 172.8 726.2 182.0 726.5 181.9 726.8 173.4 727.0 172.2 727.2 182.2 727.5 181.1 727.8 172.5 728.0 170.6 728.2 181.1 728.5 181.0 728.8 171.8 729.0 172.5 729.2 180.6 729.5 179.3 729.8 171.2 730.0 171.7 730.2 180.0 730.5 181.8 730.8 171.1 731.0 170.6 731.2 180.9 731.5 181.9 731.8 171.3 732.0 170.4 732.2 181.5 732.5 180.0 732.8 172.1 733.0 171.8 733.2 180.8 733.5 179.7 733.8 171.4 734.0 170.6 734.2 179.3 734.5 180.3 734.8 171.2 735.0 170.9 735.2 180.1 735.5 178.8 735.8 170.1 736.0 170.4 736.2 179.2 736.5 180.0 736.8 168.9 737.0 169.2 737.2 179.7 737.5 180.1 737.8 168.6 738.0 169.8 738.2 181.0 738.5 180.6 738.8 168.9 739.0 168.5 739.2 179.3 739.5 178.5 739.8 168.4 740.0 168.0 740.2 178.5 740.5 179.4 740.8 168.9 741.0 170.5 741.2 179.8 741.5 181.8 741.8 170.4 742.0 169.0 742.2 181.5 742.5 181.9 742.8 169.6 743.0 167.5 743.2 181.7 743.5 184.0 743.8 168.9 744.0 169.3 744.2 186.3 744.5 186.3 744.8 167.4 745.0 168.4 745.2 186.6 745.5 186.7 745.8 166.4 746.0 166.3 746.2 187.8 746.5 186.0 746.8 165.8 747.0 164.8 747.2 188.1 747.5 190.3 747.8 162.7 748.0 164.3 748.2 185.9 748.5 188.0 748.8 166.4 749.0 164.1 749.2 188.1 749.5 188.2 749.8 167.4 750.0 167.3 750.2 188.8 750.5 184.2 750.8 168.7 751.0 167.1 751.2 183.8 751.5 182.1 751.8 167.7 752.0 169.9 752.2 182.2 752.5 180.9 752.8 170.9 753.0 171.2 753.2 182.8 753.5 182.1 753.8 170.9 754.0 169.4 754.2 180.8 754.5 182.3 754.8 169.9 755.0 171.0 755.2 183.1 755.5 181.9 755.8 170.6 756.0 170.6 756.2 180.1 756.5 181.9 756.8 170.3 757.0 170.2 757.2 179.2 757.5 178.8 757.8 170.2 758.0 169.8 758.2 178.3 758.5 179.0 758.8 165.8 759.0 169.4 759.2 179.0 759.5 181.1 759.8 170.9 760.0 171.1 760.2 180.1 760.5 180.1 760.8 170.3 761.0 170.3 761.2 180.3 761.5 181.8 761.8 171.8 762.0 170.4 762.2 181.5 762.5 181.9 762.8 171.7 763.0 168.3 763.2 181.1 763.5 179.4 763.8 170.7 764.0 170.9 764.2 179.6 764.5 181.5 764.8 171.5 765.0 170.9 765.2 181.0 765.5 181.5 765.8 172.0 766.0 170.5 766.2 179.7 766.5 179.8 766.8 169.7 767.0 171.1 767.2 179.9 767.5 181.6 767.8 169.7 768.0 171.5 768.2 181.9 768.5 180.4 768.8 171.3 769.0 170.7 769.2 181.0 769.5 182.6 769.8 170.6 770.0 169.1 770.2 182.7 770.5 184.6 770.8 171.8 771.0 171.5 771.2 181.8 771.5 181.3 771.8 171.5 772.0 171.1 772.2 182.8 772.5 181.6 772.8 171.5 773.0 171.6 773.2 181.3 773.5 181.1 773.8 171.8 774.0 172.2 774.2 181.6 774.5 181.3 774.8 171.2 775.0 177.1" fill="none" stroke="#0000ff" stroke-width="0.6" stroke-opacity="0.8" stroke-linejoin="bevel"/>
<line x1="595.5" y1="190" x2="595.5" y2="207" stroke="#0000ff" stroke-width="0.7" stroke-opacity="0.55"/>
<line x1="610.3" y1="190" x2="610.3" y2="212" stroke="#0000ff" stroke-width="0.7" stroke-opacity="0.55"/>
<line x1="620.5" y1="190" x2="620.5" y2="210" stroke="#0000ff" stroke-width="0.7" stroke-opacity="0.55"/>
<line x1="636" y1="190" x2="636" y2="214" stroke="#0000ff" stroke-width="0.7" stroke-opacity="0.55"/>
<line x1="666" y1="170" x2="666" y2="154" stroke="#0000ff" stroke-width="0.7" stroke-opacity="0.55"/>
<line x1="669" y1="190" x2="669" y2="214" stroke="#0000ff" stroke-width="0.7" stroke-opacity="0.55"/>
<path d="M572.0 176.4 572.3 176.4 572.6 183.6 572.9 169.1 573.2 171.2 573.5 181.8 573.8 182.3 574.1 172.2 574.4 171.9 574.7 181.1 575.0 182.0 575.3 171.0 575.6 172.7 575.9 182.4 576.2 183.5 576.5 171.8 576.8 173.2 577.1 181.3 577.4 181.4 577.7 172.1 578.0 173.5 578.3 181.3 578.6 181.2 578.9 173.4 579.2 172.8 579.5 182.4 579.8 182.8 580.1 172.7 580.4 173.0 580.7 182.6 581.0 183.0 581.3 171.7 581.6 172.1 581.9 184.3 582.2 181.7 582.5 172.0 582.8 168.3 583.1 184.8 583.4 184.3 583.7 171.1 584.0 170.2 584.3 180.9 584.6 182.5 584.9 169.4 585.2 168.0 585.5 180.5 585.8 182.7 586.1 170.8 586.4 171.9 586.7 184.2 587.0 182.1 587.3 172.5 587.6 172.8 587.9 181.2 588.2 181.2 588.5 173.1 588.8 171.2 589.1 181.1 589.4 181.9 589.7 172.3 590.0 171.7 590.3 182.6 590.6 180.6 590.9 169.8 591.2 170.1 591.5 181.3 591.8 180.9 592.1 168.9 592.4 169.7 592.7 181.1 593.0 180.4 593.3 168.8 593.6 169.3 593.9 182.4 594.2 182.0 594.5 168.1 594.8 168.3 595.1 182.8 595.4 181.2 595.7 167.5 596.0 170.7 596.3 182.1 596.6 184.0 596.9 169.9 597.2 171.4 597.5 185.1 597.8 182.8 598.1 168.5 598.4 170.1 598.7 185.5 599.0 184.8 599.3 169.4 599.6 171.5 599.9 182.2 600.2 182.7 600.5 171.8 600.8 169.4 601.1 183.1 601.4 183.2 601.7 169.3 602.0 169.6 602.3 182.9 602.6 181.0 602.9 172.1 603.2 169.4 603.5 180.9 603.8 179.3 604.1 168.8 604.4 169.9 604.7 179.2 605.0 181.0 605.3 167.2 605.6 167.7 605.9 179.4 606.2 180.5 606.5 170.4 606.8 169.9 607.1 180.8 607.4 181.5 607.7 170.3 608.0 169.4 608.3 181.6 608.6 185.8 608.9 170.4 609.2 167.2 609.5 184.8 609.8 182.2 610.1 170.4 610.4 170.8 610.7 182.9 611.0 186.8 611.3 171.2 611.6 171.8 611.9 184.1 612.2 182.0 612.5 171.8 612.8 169.4 613.1 183.2 613.4 181.8 613.7 171.1 614.0 172.4 614.3 181.4 614.6 181.3 614.9 169.7 615.2 172.5 615.5 184.5 615.8 183.1 616.1 171.2 616.4 170.3 616.7 181.4 617.0 181.2 617.3 169.6 617.6 170.7 617.9 183.5 618.2 181.8 618.5 170.7 618.8 169.0 619.1 182.1 619.4 183.7 619.7 168.7 620.0 170.7 620.3 182.6 620.6 182.2 620.9 171.9 621.2 170.2 621.5 182.2 621.8 181.4 622.1 171.0 622.4 171.8 622.7 181.2 623.0 181.2 623.3 169.8 623.6 170.6 623.9 179.7 624.2 180.6 624.5 170.8 624.8 170.2 625.1 180.8 625.4 182.2 625.7 166.5 626.0 170.9 626.3 181.7 626.6 183.0 626.9 170.7 627.2 171.2 627.5 181.7 627.8 181.7 628.1 167.8 628.4 170.1 628.7 181.7 629.0 182.7 629.3 168.9 629.6 169.9 629.9 185.5 630.2 183.3 630.5 167.1 630.8 171.1 631.1 182.5 631.4 183.5 631.7 170.2 632.0 171.3 632.3 186.0 632.6 182.0 632.9 170.5 633.2 171.3 633.5 181.5 633.8 180.9 634.1 169.3 634.4 170.6 634.7 180.6 635.0 182.1 635.3 169.8 635.6 170.4 635.9 181.5 636.2 181.1 636.5 168.3 636.8 169.0 637.1 181.5 637.4 185.2 637.7 170.0 638.0 170.5 638.3 183.8 638.6 183.1 638.9 170.0 639.2 171.1 639.5 182.6 639.8 184.2 640.1 170.8 640.4 170.2 640.7 181.8 641.0 182.6 641.3 167.9 641.6 170.9 641.9 182.1 642.2 180.8 642.5 167.2 642.8 168.7 643.1 181.9 643.4 182.4 643.7 170.8 644.0 170.1 644.3 180.6 644.6 182.9 644.9 171.9 645.2 171.1 645.5 181.4 645.8 183.2 646.1 171.3 646.4 172.9 646.7 182.3 647.0 183.5 647.3 171.2 647.6 170.5 647.9 185.2 648.2 183.6 648.5 172.0 648.8 170.7 649.1 183.3 649.4 182.7 649.7 172.2 650.0 170.8 650.3 184.0 650.6 184.2 650.9 171.8 651.2 171.3 651.5 183.1 651.8 182.2 652.1 170.2 652.4 171.2 652.7 182.4 653.0 183.0 653.3 170.4 653.6 171.7 653.9 183.6 654.2 182.2 654.5 169.1 654.8 169.9 655.1 181.9 655.4 182.2 655.7 170.6 656.0 171.3 656.3 183.1 656.6 184.0 656.9 172.2 657.2 171.3 657.5 184.3 657.8 184.6 658.1 170.8 658.4 170.2 658.7 184.8 659.0 182.0 659.3 170.3 659.6 171.2 659.9 183.4 660.2 184.4 660.5 170.9 660.8 169.7 661.1 184.7 661.4 185.1 661.7 171.4 662.0 172.2 662.3 183.6 662.6 183.4 662.9 172.2 663.2 171.9 663.5 184.6 663.8 184.2 664.1 173.1 664.4 173.4 664.7 183.5 665.0 184.9 665.3 171.5 665.6 173.0 665.9 187.5 666.2 183.6 666.5 173.6 666.8 172.1 667.1 186.0 667.4 184.7 667.7 170.5 668.0 172.8 668.3 184.3 668.6 185.3 668.9 169.2 669.2 173.1 669.5 183.9 669.8 185.3 670.1 172.1 670.4 172.1 670.7 184.9 671.0 184.0 671.3 173.7 671.6 173.1 671.9 184.4 672.2 183.6 672.5 174.5 672.8 173.0 673.1 183.6 673.4 184.1 673.7 173.0 674.0 173.8 674.3 183.9 674.6 184.4 674.9 173.5 675.2 172.5 675.5 183.3 675.8 183.3 676.1 172.0 676.4 173.5 676.7 185.0 677.0 183.9 677.3 171.9 677.6 171.0 677.9 182.9 678.2 183.8 678.5 171.1 678.8 170.5 679.1 182.0 679.4 182.8 679.7 172.1 680.0 172.0 680.3 181.9 680.6 184.9 680.9 169.7 681.2 167.9 681.5 182.0 681.8 183.9 682.1 172.0 682.4 172.6 682.7 182.6 683.0 181.6 683.3 172.2 683.6 172.9 683.9 183.2 684.2 182.7 684.5 170.2 684.8 171.8 685.1 183.2 685.4 182.8 685.7 172.6 686.0 170.5 686.3 182.9 686.6 183.3 686.9 172.3 687.2 171.5 687.5 182.2 687.8 181.0 688.1 170.1 688.4 169.5 688.7 182.0 689.0 184.8 689.3 171.2 689.6 171.3 689.9 180.2 690.2 180.7 690.5 171.7 690.8 171.9 691.1 180.3 691.4 181.0 691.7 167.8 692.0 170.9 692.3 180.6 692.6 182.4 692.9 171.8 693.2 172.4 693.5 180.6 693.8 180.6 694.1 172.6 694.4 171.4 694.7 180.4 695.0 183.9 695.3 171.4 695.6 170.3 695.9 180.8 696.2 180.3 696.5 171.5 696.8 169.3 697.1 179.9 697.4 180.9 697.7 170.3 698.0 170.4 698.3 179.9 698.6 180.8 698.9 168.5 699.2 169.0 699.5 181.6 699.8 180.1 700.1 172.0 700.4 171.7 700.7 180.8 701.0 180.0 701.3 171.6 701.6 170.6 701.9 180.8 702.2 180.5 702.5 172.3 702.8 172.2 703.1 181.1 703.4 180.4 703.7 172.5 704.0 172.7 704.3 181.1 704.6 182.9 704.9 171.3 705.2 171.0 705.5 182.7 705.8 184.3 706.1 171.4 706.4 170.5 706.7 182.3 707.0 184.5 707.3 169.9 707.6 171.6 707.9 183.2 708.2 182.8 708.5 172.2 708.8 173.0 709.1 185.6 709.4 183.6 709.7 169.4 710.0 172.7 710.3 182.9 710.6 184.1 710.9 171.8 711.2 173.0 711.5 184.1 711.8 183.7 712.1 172.5 712.4 171.1 712.7 184.6 713.0 185.0 713.3 171.5 713.6 173.3 713.9 185.9 714.2 183.8 714.5 172.8 714.8 172.7 715.1 185.5 715.4 184.9 715.7 172.4 716.0 173.1 716.3 185.2 716.6 184.2 716.9 174.5 717.2 171.8 717.5 185.1 717.8 185.9 718.1 173.5 718.4 174.7 718.7 186.8 719.0 185.0 719.3 174.4 719.6 174.5 719.9 187.3 720.2 184.3 720.5 172.4 720.8 172.2 721.1 183.4 721.4 185.9 721.7 172.4 722.0 169.5 722.3 183.3 722.6 182.6 722.9 171.9 723.2 173.0 723.5 182.8 723.8 183.6 724.1 173.2 724.4 168.8 724.7 185.0 725.0 182.3 725.3 171.5 725.6 171.0 725.9 183.7 726.2 182.9 726.5 171.4 726.8 171.3 727.1 182.3 727.4 183.2 727.7 169.2 728.0 170.3 728.3 181.3 728.6 181.2 728.9 170.6 729.2 168.9 729.5 183.4 729.8 180.8 730.1 170.3 730.4 171.7 730.7 183.2 731.0 182.9 731.3 171.0 731.6 171.4 731.9 183.6 732.2 183.7 732.5 171.6 732.8 171.4 733.1 184.5 733.4 181.9 733.7 171.6 734.0 168.7 734.3 180.6 734.6 182.1 734.9 169.7 735.2 168.4 735.5 182.0 735.8 181.8 736.1 166.5 736.4 165.8 736.7 180.4 737.0 181.0 737.3 166.2 737.6 167.0 737.9 180.5 738.2 181.6 738.5 169.0 738.8 169.4 739.1 180.8 739.4 181.0 739.7 166.3 740.0 168.8 740.3 178.6 740.6 180.5 740.9 168.2 741.2 168.6 741.5 181.4 741.8 181.7 742.1 169.0 742.4 166.2 742.7 182.9 743.0 180.6 743.3 162.6 743.6 162.9 743.9 181.7 744.2 184.7 744.5 162.9 744.8 165.1 745.1 184.0 745.4 196.8 745.7 164.1 746.0 160.1 746.3 186.6 746.6 188.4 746.9 159.0 747.2 156.2 747.5 190.6 747.8 194.5 748.1 160.9 748.4 159.1 748.7 192.2 749.0 191.3 749.3 164.6 749.6 164.1 749.9 187.3 750.2 184.7 750.5 165.3 750.8 167.0 751.1 188.2 751.4 184.7 751.7 165.9 752.0 168.6 752.3 182.8 752.6 182.4 752.9 170.9 753.2 172.0 753.5 181.8 753.8 180.9 754.1 171.1 754.4 172.1 754.7 181.4 755.0 181.8 755.3 171.5 755.6 170.3 755.9 183.8 756.2 182.5 756.5 170.7 756.8 171.0 757.1 181.5 757.4 180.2 757.7 170.0 758.0 168.5 758.3 180.1 758.6 180.5 758.9 168.9 759.2 169.6 759.5 181.9 759.8 181.4 760.1 169.8 760.4 169.4 760.7 181.1 761.0 182.0 761.3 170.8 761.6 170.1 761.9 183.0 762.2 181.1 762.5 168.1 762.8 171.6 763.1 182.6 763.4 183.4 763.7 170.5 764.0 169.2 764.3 182.2 764.6 182.5 764.9 170.9 765.2 169.8 765.5 181.4 765.8 181.5 766.1 168.4 766.4 169.0 766.7 181.9 767.0 181.6 767.3 170.9 767.6 170.1 767.9 180.4 768.2 180.3 768.5 168.0 768.8 170.9 769.1 182.0 769.4 182.0 769.7 169.6 770.0 169.9 770.3 183.7 770.6 183.7 770.9 170.5 771.2 171.0 771.5 184.6 771.8 183.2 772.1 168.9 772.4 169.6 772.7 184.2 773.0 185.7 773.3 170.8 773.6 170.2 773.9 183.2 774.2 183.7 774.5 171.0 774.8 171.0 775.1 185.3 775.0 177.1" fill="none" stroke="#ff0000" stroke-width="0.6" stroke-opacity="0.58" stroke-linejoin="bevel"/>
<path d="M572.0 176.4 572.3 176.4 572.6 182.8 572.9 171.3 573.2 171.7 573.5 182.7 573.8 182.2 574.1 172.8 574.4 172.1 574.7 183.9 575.0 182.4 575.3 172.1 575.6 171.7 575.9 184.4 576.2 186.8 576.5 170.2 576.8 171.7 577.1 186.8 577.4 184.8 577.7 169.8 578.0 171.8 578.3 184.3 578.6 183.0 578.9 168.2 579.2 169.5 579.5 183.8 579.8 183.6 580.1 173.0 580.4 172.0 580.7 182.9 581.0 181.8 581.3 172.9 581.6 171.8 581.9 183.8 582.2 181.1 582.5 169.8 582.8 172.3 583.1 183.1 583.4 181.5 583.7 171.3 584.0 171.0 584.3 182.1 584.6 186.6 584.9 170.1 585.2 168.5 585.5 183.9 585.8 183.5 586.1 167.1 586.4 167.0 586.7 184.3 587.0 183.3 587.3 168.9 587.6 167.1 587.9 183.0 588.2 184.1 588.5 170.2 588.8 170.0 589.1 184.3 589.4 182.3 589.7 169.4 590.0 171.1 590.3 181.7 590.6 183.4 590.9 171.4 591.2 171.5 591.5 182.5 591.8 184.0 592.1 171.2 592.4 170.0 592.7 185.8 593.0 181.9 593.3 171.1 593.6 171.1 593.9 180.0 594.2 180.6 594.5 169.8 594.8 170.8 595.1 181.0 595.4 179.3 595.7 171.7 596.0 171.4 596.3 180.3 596.6 179.7 596.9 170.7 597.2 171.5 597.5 180.5 597.8 183.4 598.1 171.5 598.4 168.1 598.7 182.7 599.0 183.7 599.3 168.2 599.6 170.4 599.9 182.0 600.2 182.4 600.5 170.4 600.8 170.1 601.1 180.9 601.4 181.8 601.7 168.5 602.0 165.9 602.3 182.2 602.6 182.6 602.9 170.1 603.2 166.6 603.5 181.9 603.8 181.6 604.1 168.4 604.4 164.5 604.7 183.9 605.0 182.4 605.3 168.7 605.6 169.1 605.9 184.8 606.2 182.9 606.5 170.4 606.8 170.2 607.1 183.5 607.4 185.0 607.7 167.1 608.0 168.8 608.3 185.2 608.6 183.4 608.9 170.8 609.2 170.9 609.5 184.7 609.8 182.4 610.1 169.8 610.4 171.8 610.7 181.8 611.0 182.5 611.3 171.7 611.6 171.7 611.9 184.1 612.2 181.3 612.5 168.3 612.8 171.5 613.1 181.9 613.4 181.6 613.7 169.8 614.0 169.5 614.3 183.1 614.6 181.9 614.9 171.3 615.2 170.3 615.5 183.6 615.8 181.2 616.1 171.6 616.4 168.3 616.7 180.8 617.0 182.9 617.3 170.7 617.6 170.6 617.9 183.1 618.2 181.3 618.5 169.5 618.8 170.5 619.1 182.9 619.4 183.7 619.7 169.1 620.0 169.6 620.3 182.4 620.6 183.1 620.9 169.4 621.2 170.3 621.5 183.4 621.8 181.8 622.1 164.9 622.4 169.1 622.7 181.0 623.0 180.4 623.3 167.8 623.6 168.6 623.9 180.9 624.2 182.1 624.5 167.9 624.8 165.6 625.1 182.4 625.4 182.5 625.7 169.0 626.0 169.0 626.3 182.1 626.6 182.8 626.9 170.4 627.2 169.8 627.5 183.1 627.8 183.3 628.1 168.3 628.4 169.7 628.7 182.9 629.0 183.4 629.3 170.8 629.6 170.1 629.9 182.6 630.2 183.3 630.5 169.1 630.8 170.5 631.1 181.6 631.4 181.3 631.7 170.0 632.0 169.3 632.3 183.1 632.6 181.5 632.9 170.3 633.2 169.4 633.5 182.3 633.8 183.5 634.1 169.8 634.4 169.7 634.7 183.0 635.0 180.2 635.3 167.2 635.6 167.0 635.9 182.2 636.2 180.7 636.5 166.0 636.8 167.1 637.1 180.5 637.4 180.4 637.7 167.7 638.0 169.3 638.3 181.6 638.6 183.0 638.9 165.9 639.2 167.9 639.5 181.9 639.8 183.5 640.1 170.6 640.4 168.9 640.7 183.5 641.0 185.2 641.3 166.3 641.6 167.9 641.9 185.1 642.2 184.1 642.5 171.0 642.8 169.3 643.1 186.1 643.4 183.1 643.7 170.7 644.0 171.0 644.3 185.6 644.6 183.9 644.9 171.7 645.2 170.8 645.5 181.7 645.8 181.6 646.1 171.8 646.4 171.1 646.7 183.0 647.0 181.9 647.3 171.0 647.6 170.0 647.9 187.1 648.2 184.2 648.5 169.1 648.8 169.8 649.1 185.2 649.4 188.9 649.7 172.0 650.0 170.5 650.3 184.1 650.6 183.4 650.9 171.6 651.2 168.9 651.5 183.7 651.8 187.0 652.1 168.4 652.4 166.2 652.7 186.5 653.0 184.6 653.3 171.1 653.6 171.3 653.9 187.1 654.2 183.6 654.5 171.0 654.8 170.2 655.1 183.5 655.4 184.1 655.7 168.7 656.0 170.0 656.3 182.7 656.6 181.2 656.9 171.7 657.2 172.2 657.5 180.5 657.8 184.1 658.1 171.5 658.4 172.1 658.7 182.5 659.0 181.4 659.3 168.3 659.6 172.9 659.9 184.6 660.2 183.7 660.5 172.4 660.8 171.8 661.1 182.2 661.4 183.3 661.7 172.6 662.0 172.3 662.3 188.8 662.6 183.2 662.9 170.5 663.2 172.6 663.5 183.1 663.8 182.3 664.1 173.8 664.4 172.7 664.7 183.8 665.0 182.3 665.3 172.7 665.6 171.2 665.9 182.4 666.2 184.2 666.5 172.9 666.8 169.7 667.1 183.8 667.4 185.7 667.7 172.8 668.0 169.1 668.3 186.3 668.6 184.8 668.9 172.4 669.2 172.0 669.5 184.6 669.8 185.6 670.1 170.7 670.4 171.6 670.7 184.2 671.0 183.6 671.3 171.3 671.6 173.4 671.9 185.7 672.2 183.7 672.5 171.8 672.8 172.6 673.1 184.1 673.4 182.6 673.7 171.8 674.0 172.6 674.3 183.4 674.6 183.0 674.9 171.9 675.2 170.3 675.5 184.8 675.8 186.1 676.1 172.2 676.4 169.4 676.7 184.6 677.0 185.1 677.3 170.9 677.6 172.8 677.9 184.9 678.2 183.3 678.5 170.4 678.8 171.4 679.1 184.5 679.4 185.5 679.7 170.2 680.0 171.5 680.3 184.7 680.6 184.8 680.9 171.1 681.2 172.6 681.5 185.4 681.8 184.9 682.1 168.4 682.4 172.5 682.7 183.7 683.0 184.5 683.3 170.2 683.6 172.2 683.9 183.5 684.2 182.9 684.5 173.4 684.8 172.9 685.1 185.7 685.4 184.3 685.7 172.9 686.0 172.7 686.3 182.7 686.6 183.5 686.9 169.8 687.2 171.1 687.5 185.1 687.8 182.0 688.1 170.9 688.4 171.6 688.7 181.7 689.0 181.8 689.3 170.6 689.6 170.7 689.9 183.6 690.2 184.8 690.5 170.6 690.8 170.8 691.1 182.6 691.4 185.8 691.7 171.6 692.0 168.5 692.3 186.2 692.6 182.5 692.9 168.1 693.2 169.6 693.5 183.8 693.8 180.9 694.1 169.3 694.4 171.0 694.7 181.1 695.0 180.9 695.3 168.0 695.6 169.8 695.9 181.1 696.2 181.0 696.5 170.3 696.8 170.0 697.1 182.6 697.4 180.4 697.7 169.1 698.0 169.0 698.3 181.2 698.6 183.8 698.9 168.4 699.2 169.7 699.5 183.5 699.8 182.2 700.1 169.4 700.4 169.1 700.7 184.0 701.0 182.0 701.3 167.1 701.6 169.9 701.9 182.7 702.2 183.2 702.5 168.7 702.8 171.3 703.1 181.8 703.4 181.6 703.7 170.2 704.0 171.0 704.3 181.9 704.6 182.8 704.9 169.9 705.2 171.3 705.5 183.2 705.8 182.7 706.1 169.6 706.4 172.2 706.7 181.6 707.0 182.1 707.3 170.4 707.6 171.6 707.9 182.1 708.2 182.5 708.5 171.2 708.8 171.9 709.1 183.3 709.4 183.6 709.7 171.1 710.0 171.5 710.3 185.3 710.6 184.7 710.9 172.9 711.2 172.9 711.5 186.6 711.8 184.6 712.1 173.6 712.4 174.2 712.7 184.1 713.0 186.7 713.3 173.9 713.6 174.3 713.9 185.6 714.2 185.0 714.5 170.8 714.8 174.1 715.1 185.0 715.4 188.8 715.7 173.8 716.0 172.9 716.3 185.0 716.6 185.8 716.9 175.3 717.2 173.3 717.5 186.4 717.8 185.0 718.1 174.1 718.4 175.1 718.7 185.5 719.0 185.4 719.3 175.8 719.6 173.9 719.9 184.9 720.2 184.0 720.5 172.2 720.8 174.8 721.1 184.5 721.4 182.4 721.7 172.5 722.0 174.6 722.3 184.2 722.6 184.0 722.9 174.4 723.2 174.3 723.5 183.2 723.8 182.2 724.1 173.2 724.4 173.4 724.7 181.8 725.0 183.4 725.3 172.7 725.6 170.9 725.9 182.5 726.2 183.3 726.5 172.6 726.8 171.3 727.1 181.8 727.4 182.7 727.7 169.9 728.0 170.6 728.3 181.5 728.6 181.5 728.9 168.6 729.2 171.5 729.5 182.4 729.8 180.5 730.1 170.1 730.4 169.1 730.7 184.5 731.0 182.7 731.3 170.6 731.6 170.8 731.9 181.4 732.2 184.0 732.5 170.6 732.8 167.2 733.1 181.0 733.4 181.3 733.7 169.8 734.0 169.5 734.3 179.7 734.6 180.7 734.9 169.9 735.2 167.6 735.5 181.6 735.8 180.9 736.1 168.8 736.4 169.4 736.7 181.3 737.0 180.5 737.3 169.0 737.6 166.3 737.9 180.8 738.2 182.0 738.5 168.9 738.8 168.9 739.1 180.1 739.4 181.6 739.7 169.0 740.0 168.7 740.3 180.3 740.6 178.2 740.9 169.4 741.2 169.1 741.5 179.7 741.8 179.7 742.1 169.4 742.4 165.9 742.7 183.9 743.0 180.8 743.3 166.3 743.6 166.3 743.9 181.7 744.2 183.9 744.5 163.3 744.8 162.8 745.1 183.1 745.4 187.6 745.7 163.4 746.0 158.3 746.3 190.2 746.6 193.9 746.9 156.9 747.2 160.8 747.5 192.1 747.8 190.2 748.1 159.4 748.4 160.7 748.7 188.8 749.0 192.4 749.3 164.1 749.6 163.4 749.9 188.5 750.2 183.3 750.5 162.4 750.8 166.4 751.1 183.5 751.4 184.5 751.7 166.0 752.0 167.8 752.3 182.5 752.6 182.3 752.9 168.3 753.2 171.0 753.5 181.4 753.8 183.4 754.1 169.6 754.4 170.6 754.7 180.8 755.0 181.1 755.3 169.2 755.6 169.4 755.9 179.8 756.2 179.6 756.5 169.7 756.8 169.3 757.1 181.5 757.4 179.3 757.7 170.5 758.0 169.1 758.3 180.8 758.6 180.1 758.9 170.5 759.2 169.0 759.5 181.2 759.8 184.1 760.1 169.9 760.4 170.6 760.7 181.7 761.0 181.7 761.3 170.8 761.6 170.2 761.9 184.1 762.2 182.3 762.5 170.3 762.8 169.8 763.1 182.6 763.4 181.0 763.7 168.9 764.0 169.2 764.3 181.9 764.6 180.9 764.9 168.9 765.2 169.0 765.5 182.2 765.8 181.8 766.1 168.3 766.4 169.0 766.7 185.1 767.0 181.3 767.3 170.3 767.6 169.9 767.9 181.5 768.2 183.4 768.5 170.6 768.8 171.7 769.1 186.5 769.4 182.2 769.7 170.9 770.0 171.9 770.3 181.9 770.6 184.8 770.9 170.9 771.2 170.0 771.5 181.9 771.8 182.5 772.1 170.3 772.4 169.0 772.7 183.1 773.0 181.4 773.3 166.1 773.6 168.1 773.9 181.5 774.2 182.0 774.5 170.6 774.8 171.9 775.1 184.0 775.0 177.1" fill="none" stroke="#ff0000" stroke-width="0.6" stroke-opacity="0.58" stroke-linejoin="bevel"/>
<line x1="573.5" y1="185" x2="573.5" y2="198" stroke="#ff0000" stroke-width="0.7" stroke-opacity="0.6"/>
<line x1="745" y1="175" x2="745" y2="160.7" stroke="#ff0000" stroke-width="0.7" stroke-opacity="0.6"/>
</g>
<rect x="561.5" y="151" width="224.3" height="66.2" fill="none" stroke="#cfcfcf" stroke-width="0.9"/>
<text x="571.7" y="223" font-size="5.86" text-anchor="middle" fill="#333333" stroke="#333333" stroke-width="0.08" textLength="3.24" lengthAdjust="spacingAndGlyphs">0</text>
<text x="599.71" y="223" font-size="5.86" text-anchor="middle" fill="#333333" stroke="#333333" stroke-width="0.08" textLength="6.49" lengthAdjust="spacingAndGlyphs">50</text>
<text x="627.73" y="223" font-size="5.86" text-anchor="middle" fill="#333333" stroke="#333333" stroke-width="0.08" textLength="9.73" lengthAdjust="spacingAndGlyphs">100</text>
<text x="655.74" y="223" font-size="5.86" text-anchor="middle" fill="#333333" stroke="#333333" stroke-width="0.08" textLength="9.73" lengthAdjust="spacingAndGlyphs">150</text>
<text x="683.76" y="223" font-size="5.86" text-anchor="middle" fill="#333333" stroke="#333333" stroke-width="0.08" textLength="9.73" lengthAdjust="spacingAndGlyphs">200</text>
<text x="711.77" y="223" font-size="5.86" text-anchor="middle" fill="#333333" stroke="#333333" stroke-width="0.08" textLength="9.73" lengthAdjust="spacingAndGlyphs">250</text>
<text x="739.79" y="223" font-size="5.86" text-anchor="middle" fill="#333333" stroke="#333333" stroke-width="0.08" textLength="9.73" lengthAdjust="spacingAndGlyphs">300</text>
<text x="767.8" y="223" font-size="5.86" text-anchor="middle" fill="#333333" stroke="#333333" stroke-width="0.08" textLength="9.73" lengthAdjust="spacingAndGlyphs">350</text>
<text x="559.2" y="154.24" font-size="5.86" text-anchor="end" fill="#333333" stroke="#333333" stroke-width="0.08" textLength="3.24" lengthAdjust="spacingAndGlyphs">2</text>
<text x="559.2" y="166.44" font-size="5.86" text-anchor="end" fill="#333333" stroke="#333333" stroke-width="0.08" textLength="3.24" lengthAdjust="spacingAndGlyphs">1</text>
<text x="559.2" y="178.64" font-size="5.86" text-anchor="end" fill="#333333" stroke="#333333" stroke-width="0.08" textLength="3.24" lengthAdjust="spacingAndGlyphs">0</text>
<text x="559.2" y="190.84" font-size="5.86" text-anchor="end" fill="#333333" stroke="#333333" stroke-width="0.08" textLength="7.52" lengthAdjust="spacingAndGlyphs">−1</text>
<text x="559.2" y="203.04" font-size="5.86" text-anchor="end" fill="#333333" stroke="#333333" stroke-width="0.08" textLength="7.52" lengthAdjust="spacingAndGlyphs">−2</text>
<text x="559.2" y="215.24" font-size="5.86" text-anchor="end" fill="#333333" stroke="#333333" stroke-width="0.08" textLength="7.52" lengthAdjust="spacingAndGlyphs">−3</text>
<text transform="translate(538.4,141.2) scale(0.93,1)" x="0" y="0" font-size="17" fill="#000000">F</text>
<rect x="561.1" y="129" width="90.2" height="17.3" fill="#ffffff" stroke="#ececec" stroke-width="0.6" rx="1.2"/>
<line x1="563.4" y1="134" x2="574.8" y2="134" stroke="#0000ff" stroke-width="0.9" stroke-opacity="0.6"/>
<line x1="563.4" y1="142.2" x2="574.8" y2="142.2" stroke="#ff0000" stroke-width="0.9" stroke-opacity="0.6"/>
<text x="579.3" y="136.13" font-size="6.44" text-anchor="start" fill="#262626" stroke="#262626" stroke-width="0.08" textLength="59.86" lengthAdjust="spacingAndGlyphs">Participant ID=5 (TD)</text>
<text x="579.3" y="144.33" font-size="6.44" text-anchor="start" fill="#262626" stroke="#262626" stroke-width="0.08" textLength="69.14" lengthAdjust="spacingAndGlyphs">Participant ID=11 (DMD)</text>
<text x="673.6" y="235.6" font-size="8.74" text-anchor="middle" fill="#262626" stroke="#262626" stroke-width="0.105" textLength="39.76" lengthAdjust="spacingAndGlyphs">Time (sec)</text>
<text transform="translate(544.8,183.5) rotate(-90)" x="0" y="0" font-size="7.7" text-anchor="middle" fill="#262626" stroke="#262626" stroke-width="0.092" textLength="53.25" lengthAdjust="spacingAndGlyphs">Acceleration (g)</text>
<rect x="45.3" y="265" width="202.3" height="147.3" fill="#ffffff" stroke="none" stroke-width="1"/>
<path d="M54.1 405.7 L59.3 403.1 L61.3 399.2 L63.2 403.1 L67.1 399.9 L69.1 402.9 L73.6 403.1 L77.5 399.2 L81.7 386.2 L84 392.7 L86 398.6 L88.6 394 L93.8 401.2 L99 404.4 L104.8 405 L111.3 404.4 L118 405.2 L125 405.5 L237.8 405.9" fill="none" stroke="#ff0000" stroke-width="0.95" stroke-opacity="0.95" stroke-linejoin="round"/>
<path d="M54.1 405.5 L58 405.5 L60.3 355 L60.4 340 L60.7 281 L62.6 271.7 L63.8 340 L64.5 392.7 L66.5 397.9 L69.7 382.3 L72.3 401.2 L74.3 403.1 L77.2 393.4 L82.1 401.8 L84.7 399.9 L88.6 404.2 L92.5 399.2 L97 403.1 L102.2 403.8 L106.1 405 L120 405.6 L237.8 405.9" fill="none" stroke="#0000ff" stroke-width="0.95" stroke-opacity="0.85" stroke-linejoin="round"/>
<rect x="45.3" y="265" width="202.3" height="147.3" fill="none" stroke="#999999" stroke-width="1"/>
<line x1="54.5" y1="412.3" x2="54.5" y2="413.7" stroke="#999999" stroke-width="0.6"/>
<text x="54.5" y="419.9" font-size="4.94" text-anchor="middle" fill="#333333" stroke="#333333" stroke-width="0.08" textLength="2.74" lengthAdjust="spacingAndGlyphs">0</text>
<line x1="78.94" y1="412.3" x2="78.94" y2="413.7" stroke="#999999" stroke-width="0.6"/>
<text x="78.94" y="419.9" font-size="4.94" text-anchor="middle" fill="#333333" stroke="#333333" stroke-width="0.08" textLength="2.74" lengthAdjust="spacingAndGlyphs">2</text>
<line x1="103.39" y1="412.3" x2="103.39" y2="413.7" stroke="#999999" stroke-width="0.6"/>
<text x="103.39" y="419.9" font-size="4.94" text-anchor="middle" fill="#333333" stroke="#333333" stroke-width="0.08" textLength="2.74" lengthAdjust="spacingAndGlyphs">4</text>
<line x1="127.83" y1="412.3" x2="127.83" y2="413.7" stroke="#999999" stroke-width="0.6"/>
<text x="127.83" y="419.9" font-size="4.94" text-anchor="middle" fill="#333333" stroke="#333333" stroke-width="0.08" textLength="2.74" lengthAdjust="spacingAndGlyphs">6</text>
<line x1="152.27" y1="412.3" x2="152.27" y2="413.7" stroke="#999999" stroke-width="0.6"/>
<text x="152.27" y="419.9" font-size="4.94" text-anchor="middle" fill="#333333" stroke="#333333" stroke-width="0.08" textLength="2.74" lengthAdjust="spacingAndGlyphs">8</text>
<line x1="176.71" y1="412.3" x2="176.71" y2="413.7" stroke="#999999" stroke-width="0.6"/>
<text x="176.71" y="419.9" font-size="4.94" text-anchor="middle" fill="#333333" stroke="#333333" stroke-width="0.08" textLength="5.47" lengthAdjust="spacingAndGlyphs">10</text>
<line x1="201.16" y1="412.3" x2="201.16" y2="413.7" stroke="#999999" stroke-width="0.6"/>
<text x="201.16" y="419.9" font-size="4.94" text-anchor="middle" fill="#333333" stroke="#333333" stroke-width="0.08" textLength="5.47" lengthAdjust="spacingAndGlyphs">12</text>
<line x1="225.6" y1="412.3" x2="225.6" y2="413.7" stroke="#999999" stroke-width="0.6"/>
<text x="225.6" y="419.9" font-size="4.94" text-anchor="middle" fill="#333333" stroke="#333333" stroke-width="0.08" textLength="5.47" lengthAdjust="spacingAndGlyphs">14</text>
<line x1="43.9" y1="405.9" x2="45.3" y2="405.9" stroke="#999999" stroke-width="0.6"/>
<text x="42.7" y="407.63" font-size="5.23" text-anchor="end" fill="#333333" stroke="#333333" stroke-width="0.08" textLength="18.82" lengthAdjust="spacingAndGlyphs">0.00000</text>
<line x1="43.9" y1="381.58" x2="45.3" y2="381.58" stroke="#999999" stroke-width="0.6"/>
<text x="42.7" y="383.31" font-size="5.23" text-anchor="end" fill="#333333" stroke="#333333" stroke-width="0.08" textLength="18.82" lengthAdjust="spacingAndGlyphs">0.00002</text>
<line x1="43.9" y1="357.26" x2="45.3" y2="357.26" stroke="#999999" stroke-width="0.6"/>
<text x="42.7" y="358.99" font-size="5.23" text-anchor="end" fill="#333333" stroke="#333333" stroke-width="0.08" textLength="18.82" lengthAdjust="spacingAndGlyphs">0.00004</text>
<line x1="43.9" y1="332.94" x2="45.3" y2="332.94" stroke="#999999" stroke-width="0.6"/>
<text x="42.7" y="334.67" font-size="5.23" text-anchor="end" fill="#333333" stroke="#333333" stroke-width="0.08" textLength="18.82" lengthAdjust="spacingAndGlyphs">0.00006</text>
<line x1="43.9" y1="308.62" x2="45.3" y2="308.62" stroke="#999999" stroke-width="0.6"/>
<text x="42.7" y="310.35" font-size="5.23" text-anchor="end" fill="#333333" stroke="#333333" stroke-width="0.08" textLength="18.82" lengthAdjust="spacingAndGlyphs">0.00008</text>
<line x1="43.9" y1="284.3" x2="45.3" y2="284.3" stroke="#999999" stroke-width="0.6"/>
<text x="42.7" y="286.03" font-size="5.23" text-anchor="end" fill="#333333" stroke="#333333" stroke-width="0.08" textLength="18.82" lengthAdjust="spacingAndGlyphs">0.00010</text>
<text transform="translate(11.13,265.7) scale(0.85,1)" x="0" y="0" font-size="17" fill="#000000">G</text>
<rect x="142.9" y="268.5" width="101.5" height="19.6" fill="#ffffff" stroke="#e4e4e4" stroke-width="0.6" rx="1.5"/>
<line x1="144.8" y1="273.3" x2="158.8" y2="273.3" stroke="#ff0000" stroke-width="0.95"/>
<line x1="144.8" y1="282.5" x2="158.8" y2="282.5" stroke="#0000ff" stroke-width="1" stroke-opacity="0.85"/>
<text x="163.6" y="275.69" font-size="7.24" text-anchor="start" fill="#262626" stroke="#262626" stroke-width="0.08" textLength="77.79" lengthAdjust="spacingAndGlyphs">Participant ID=11 (DMD)</text>
<text x="163.6" y="284.89" font-size="7.24" text-anchor="start" fill="#262626" stroke="#262626" stroke-width="0.08" textLength="67.34" lengthAdjust="spacingAndGlyphs">Participant ID=5 (TD)</text>
<text x="146.9" y="436.9" font-size="10.35" text-anchor="middle" fill="#262626" stroke="#262626" stroke-width="0.124" textLength="67.87" lengthAdjust="spacingAndGlyphs">Frequency (Hz)</text>
<text transform="translate(12.3,338.6) rotate(-90)" x="0" y="0" font-size="10.12" text-anchor="middle" fill="#262626" stroke="#262626" stroke-width="0.121" textLength="49.68" lengthAdjust="spacingAndGlyphs">PSD (W/kg)</text>
<rect x="314.5" y="269.4" width="197.1" height="143.6" fill="#ffffff" stroke="none" stroke-width="1"/>
<path d="M323.6 405.3 L326.1 381.9 L328.5 402.9 L331.7 402.1 L336.5 396.5 L339 372.3 L340.1 325.6 L343 394 L347.4 283.7 L350.3 381.1 L354.3 362.6 L356.7 388.4 L360.7 399.7 L364.8 403.7 L371.2 403.7 L378 404.5 L395 405.6 L503 406.2" fill="none" stroke="#ff0000" stroke-width="0.95" stroke-opacity="0.95" stroke-linejoin="round"/>
<path d="M323.6 405.3 L325.3 396.5 L327.4 352.1 L328.5 385.2 L329.6 400.5 L330.9 401.3 L332.5 399.7 L334.5 365 L336.1 394.8 L338.2 393.2 L341.4 294.2 L343 275.6 L345.4 392.4 L347 392.4 L349.8 382.7 L352.7 395.6 L355.9 394 L358.3 390 L360.7 398.1 L364.8 398.9 L368 402.1 L372.8 402.9 L378 404.5 L395 405.6 L503 406.2" fill="none" stroke="#0000ff" stroke-width="0.95" stroke-opacity="0.85" stroke-linejoin="round"/>
<rect x="314.5" y="269.4" width="197.1" height="143.6" fill="none" stroke="#999999" stroke-width="1"/>
<line x1="323.7" y1="413" x2="323.7" y2="414.4" stroke="#999999" stroke-width="0.6"/>
<text x="323.7" y="420.6" font-size="4.94" text-anchor="middle" fill="#333333" stroke="#333333" stroke-width="0.08" textLength="2.74" lengthAdjust="spacingAndGlyphs">0</text>
<line x1="347.51" y1="413" x2="347.51" y2="414.4" stroke="#999999" stroke-width="0.6"/>
<text x="347.51" y="420.6" font-size="4.94" text-anchor="middle" fill="#333333" stroke="#333333" stroke-width="0.08" textLength="2.74" lengthAdjust="spacingAndGlyphs">2</text>
<line x1="371.33" y1="413" x2="371.33" y2="414.4" stroke="#999999" stroke-width="0.6"/>
<text x="371.33" y="420.6" font-size="4.94" text-anchor="middle" fill="#333333" stroke="#333333" stroke-width="0.08" textLength="2.74" lengthAdjust="spacingAndGlyphs">4</text>
<line x1="395.14" y1="413" x2="395.14" y2="414.4" stroke="#999999" stroke-width="0.6"/>
<text x="395.14" y="420.6" font-size="4.94" text-anchor="middle" fill="#333333" stroke="#333333" stroke-width="0.08" textLength="2.74" lengthAdjust="spacingAndGlyphs">6</text>
<line x1="418.96" y1="413" x2="418.96" y2="414.4" stroke="#999999" stroke-width="0.6"/>
<text x="418.96" y="420.6" font-size="4.94" text-anchor="middle" fill="#333333" stroke="#333333" stroke-width="0.08" textLength="2.74" lengthAdjust="spacingAndGlyphs">8</text>
<line x1="442.77" y1="413" x2="442.77" y2="414.4" stroke="#999999" stroke-width="0.6"/>
<text x="442.77" y="420.6" font-size="4.94" text-anchor="middle" fill="#333333" stroke="#333333" stroke-width="0.08" textLength="5.47" lengthAdjust="spacingAndGlyphs">10</text>
<line x1="466.59" y1="413" x2="466.59" y2="414.4" stroke="#999999" stroke-width="0.6"/>
<text x="466.59" y="420.6" font-size="4.94" text-anchor="middle" fill="#333333" stroke="#333333" stroke-width="0.08" textLength="5.47" lengthAdjust="spacingAndGlyphs">12</text>
<line x1="490.4" y1="413" x2="490.4" y2="414.4" stroke="#999999" stroke-width="0.6"/>
<text x="490.4" y="420.6" font-size="4.94" text-anchor="middle" fill="#333333" stroke="#333333" stroke-width="0.08" textLength="5.47" lengthAdjust="spacingAndGlyphs">14</text>
<line x1="313.1" y1="406.3" x2="314.5" y2="406.3" stroke="#999999" stroke-width="0.6"/>
<text x="311.9" y="407.93" font-size="4.94" text-anchor="end" fill="#333333" stroke="#333333" stroke-width="0.08" textLength="6.84" lengthAdjust="spacingAndGlyphs">0.0</text>
<line x1="313.1" y1="386.15" x2="314.5" y2="386.15" stroke="#999999" stroke-width="0.6"/>
<text x="311.9" y="387.78" font-size="4.94" text-anchor="end" fill="#333333" stroke="#333333" stroke-width="0.08" textLength="6.84" lengthAdjust="spacingAndGlyphs">0.5</text>
<line x1="313.1" y1="366" x2="314.5" y2="366" stroke="#999999" stroke-width="0.6"/>
<text x="311.9" y="367.63" font-size="4.94" text-anchor="end" fill="#333333" stroke="#333333" stroke-width="0.08" textLength="6.84" lengthAdjust="spacingAndGlyphs">1.0</text>
<line x1="313.1" y1="345.85" x2="314.5" y2="345.85" stroke="#999999" stroke-width="0.6"/>
<text x="311.9" y="347.48" font-size="4.94" text-anchor="end" fill="#333333" stroke="#333333" stroke-width="0.08" textLength="6.84" lengthAdjust="spacingAndGlyphs">1.5</text>
<line x1="313.1" y1="325.7" x2="314.5" y2="325.7" stroke="#999999" stroke-width="0.6"/>
<text x="311.9" y="327.33" font-size="4.94" text-anchor="end" fill="#333333" stroke="#333333" stroke-width="0.08" textLength="6.84" lengthAdjust="spacingAndGlyphs">2.0</text>
<line x1="313.1" y1="305.55" x2="314.5" y2="305.55" stroke="#999999" stroke-width="0.6"/>
<text x="311.9" y="307.18" font-size="4.94" text-anchor="end" fill="#333333" stroke="#333333" stroke-width="0.08" textLength="6.84" lengthAdjust="spacingAndGlyphs">2.5</text>
<line x1="313.1" y1="285.4" x2="314.5" y2="285.4" stroke="#999999" stroke-width="0.6"/>
<text x="311.9" y="287.03" font-size="4.94" text-anchor="end" fill="#333333" stroke="#333333" stroke-width="0.08" textLength="6.84" lengthAdjust="spacingAndGlyphs">3.0</text>
<text x="314.5" y="267.8" font-size="4.94" text-anchor="start" fill="#333333" stroke="#333333" stroke-width="0.08" textLength="11.72" lengthAdjust="spacingAndGlyphs">1e−5</text>
<text transform="translate(278.74,266) scale(0.97,1)" x="0" y="0" font-size="17" fill="#000000">H</text>
<rect x="409.8" y="272.2" width="99.8" height="20.3" fill="#ffffff" stroke="#e4e4e4" stroke-width="0.6" rx="1.5"/>
<line x1="411.9" y1="277.3" x2="424.9" y2="277.3" stroke="#ff0000" stroke-width="0.95"/>
<line x1="411.9" y1="286.3" x2="424.9" y2="286.3" stroke="#0000ff" stroke-width="1" stroke-opacity="0.85"/>
<text x="430" y="279.69" font-size="7.24" text-anchor="start" fill="#262626" stroke="#262626" stroke-width="0.08" textLength="77.79" lengthAdjust="spacingAndGlyphs">Participant ID=11 (DMD)</text>
<text x="430" y="288.69" font-size="7.24" text-anchor="start" fill="#262626" stroke="#262626" stroke-width="0.08" textLength="67.34" lengthAdjust="spacingAndGlyphs">Participant ID=5 (TD)</text>
<text x="413.7" y="436.8" font-size="10.35" text-anchor="middle" fill="#262626" stroke="#262626" stroke-width="0.124" textLength="67.87" lengthAdjust="spacingAndGlyphs">Frequency (Hz)</text>
<text transform="translate(293.2,340.5) rotate(-90)" x="0" y="0" font-size="10.12" text-anchor="middle" fill="#262626" stroke="#262626" stroke-width="0.121" textLength="49.68" lengthAdjust="spacingAndGlyphs">PSD (W/kg)</text>
<rect x="574.6" y="269.8" width="200.9" height="145.7" fill="#ffffff" stroke="none" stroke-width="1"/>
<path d="M583.9 408.5 C584.1 408.43 585.99 408.31 586.3 407.6 C586.61 406.89 587.41 402.72 587.6 400 C587.79 397.28 588.43 380 588.6 375 C588.77 370 589.53 345.83 589.7 340 C589.88 334.17 590.56 309.13 590.7 305 C590.84 300.87 591.28 289.98 591.4 290.4 C591.52 290.82 592 305.87 592.1 310 C592.2 314.13 592.51 333.75 592.6 340 C592.69 346.25 593.1 379.83 593.2 385 C593.3 390.17 593.7 400.29 593.8 402 C593.9 403.71 594.28 405.69 594.4 405.5 C594.52 405.31 594.91 402.68 595.2 399.7 C595.49 396.72 597.5 369.67 597.9 369.8 C598.3 369.93 599.62 398.28 600 401.3 C600.38 404.32 601.52 405.7 602.4 406.1 C603.27 406.5 608.75 406.03 610.5 406.1 C612.25 406.17 620.98 406.77 623.4 406.9 C625.82 407.03 636.87 407.57 639.5 407.7 C642.13 407.83 644.46 408.37 655 408.5 C665.54 408.63 756.75 409.23 766 409.3" fill="none" stroke="#ff0000" stroke-width="0.95" stroke-opacity="0.95" stroke-linejoin="round"/>
<path d="M583.9 408.5 C584.2 408.43 587.11 408.41 587.5 407.7 C587.89 406.99 588.43 403.14 588.6 400 C588.77 396.86 589.37 375 589.5 370 C589.63 365 590.08 347.81 590.2 340 C590.33 332.19 590.85 279.63 591 276.3 C591.15 272.97 591.83 294.27 592 300 C592.17 305.73 592.95 337.5 593.1 345 C593.25 352.5 593.68 384.96 593.8 390 C593.92 395.04 594.32 404.29 594.5 405.5 C594.68 406.71 595.61 406.6 596 404.5 C596.39 402.4 598.73 380.3 599.2 380.3 C599.67 380.3 601.2 402.35 601.6 404.5 C602 406.65 603.59 406.37 604 406.1 C604.41 405.83 606.02 401.3 606.5 401.3 C606.98 401.3 608.97 405.77 609.7 406.1 C610.43 406.43 614.63 405.43 615.3 405.3 C615.97 405.17 617.03 404.97 617.7 404.5 C618.38 404.03 622.52 399.7 623.4 399.7 C624.27 399.7 627.46 404.21 628.2 404.5 C628.94 404.79 631.62 403 632.3 403.2 C632.97 403.4 635.5 406.66 636.3 406.9 C637.1 407.14 641.09 406.03 641.9 406.1 C642.71 406.17 644.91 407.57 646 407.7 C647.09 407.83 653 407.62 655 407.7 C657 407.77 660.75 408.47 670 408.6 C679.25 408.73 758 409.24 766 409.3" fill="none" stroke="#0000ff" stroke-width="1.1" stroke-opacity="0.72" stroke-linejoin="round"/>
<rect x="574.6" y="269.8" width="200.9" height="145.7" fill="none" stroke="#999999" stroke-width="1"/>
<line x1="584" y1="415.5" x2="584" y2="416.9" stroke="#999999" stroke-width="0.6"/>
<text x="584" y="423.1" font-size="4.94" text-anchor="middle" fill="#333333" stroke="#333333" stroke-width="0.08" textLength="2.74" lengthAdjust="spacingAndGlyphs">0</text>
<line x1="608.23" y1="415.5" x2="608.23" y2="416.9" stroke="#999999" stroke-width="0.6"/>
<text x="608.23" y="423.1" font-size="4.94" text-anchor="middle" fill="#333333" stroke="#333333" stroke-width="0.08" textLength="2.74" lengthAdjust="spacingAndGlyphs">2</text>
<line x1="632.46" y1="415.5" x2="632.46" y2="416.9" stroke="#999999" stroke-width="0.6"/>
<text x="632.46" y="423.1" font-size="4.94" text-anchor="middle" fill="#333333" stroke="#333333" stroke-width="0.08" textLength="2.74" lengthAdjust="spacingAndGlyphs">4</text>
<line x1="656.69" y1="415.5" x2="656.69" y2="416.9" stroke="#999999" stroke-width="0.6"/>
<text x="656.69" y="423.1" font-size="4.94" text-anchor="middle" fill="#333333" stroke="#333333" stroke-width="0.08" textLength="2.74" lengthAdjust="spacingAndGlyphs">6</text>
<line x1="680.91" y1="415.5" x2="680.91" y2="416.9" stroke="#999999" stroke-width="0.6"/>
<text x="680.91" y="423.1" font-size="4.94" text-anchor="middle" fill="#333333" stroke="#333333" stroke-width="0.08" textLength="2.74" lengthAdjust="spacingAndGlyphs">8</text>
<line x1="705.14" y1="415.5" x2="705.14" y2="416.9" stroke="#999999" stroke-width="0.6"/>
<text x="705.14" y="423.1" font-size="4.94" text-anchor="middle" fill="#333333" stroke="#333333" stroke-width="0.08" textLength="5.47" lengthAdjust="spacingAndGlyphs">10</text>
<line x1="729.37" y1="415.5" x2="729.37" y2="416.9" stroke="#999999" stroke-width="0.6"/>
<text x="729.37" y="423.1" font-size="4.94" text-anchor="middle" fill="#333333" stroke="#333333" stroke-width="0.08" textLength="5.47" lengthAdjust="spacingAndGlyphs">12</text>
<line x1="753.6" y1="415.5" x2="753.6" y2="416.9" stroke="#999999" stroke-width="0.6"/>
<text x="753.6" y="423.1" font-size="4.94" text-anchor="middle" fill="#333333" stroke="#333333" stroke-width="0.08" textLength="5.47" lengthAdjust="spacingAndGlyphs">14</text>
<line x1="573.2" y1="409.2" x2="574.6" y2="409.2" stroke="#999999" stroke-width="0.6"/>
<text x="572" y="410.83" font-size="4.94" text-anchor="end" fill="#333333" stroke="#333333" stroke-width="0.08" textLength="2.74" lengthAdjust="spacingAndGlyphs">0</text>
<line x1="573.2" y1="384.62" x2="574.6" y2="384.62" stroke="#999999" stroke-width="0.6"/>
<text x="572" y="386.25" font-size="4.94" text-anchor="end" fill="#333333" stroke="#333333" stroke-width="0.08" textLength="2.74" lengthAdjust="spacingAndGlyphs">1</text>
<line x1="573.2" y1="360.04" x2="574.6" y2="360.04" stroke="#999999" stroke-width="0.6"/>
<text x="572" y="361.67" font-size="4.94" text-anchor="end" fill="#333333" stroke="#333333" stroke-width="0.08" textLength="2.74" lengthAdjust="spacingAndGlyphs">2</text>
<line x1="573.2" y1="335.46" x2="574.6" y2="335.46" stroke="#999999" stroke-width="0.6"/>
<text x="572" y="337.09" font-size="4.94" text-anchor="end" fill="#333333" stroke="#333333" stroke-width="0.08" textLength="2.74" lengthAdjust="spacingAndGlyphs">3</text>
<line x1="573.2" y1="310.88" x2="574.6" y2="310.88" stroke="#999999" stroke-width="0.6"/>
<text x="572" y="312.51" font-size="4.94" text-anchor="end" fill="#333333" stroke="#333333" stroke-width="0.08" textLength="2.74" lengthAdjust="spacingAndGlyphs">4</text>
<line x1="573.2" y1="286.3" x2="574.6" y2="286.3" stroke="#999999" stroke-width="0.6"/>
<text x="572" y="287.93" font-size="4.94" text-anchor="end" fill="#333333" stroke="#333333" stroke-width="0.08" textLength="2.74" lengthAdjust="spacingAndGlyphs">5</text>
<text x="574.6" y="268.2" font-size="4.94" text-anchor="start" fill="#333333" stroke="#333333" stroke-width="0.08" textLength="11.72" lengthAdjust="spacingAndGlyphs">1e−5</text>
<text transform="translate(544.7,265.9) scale(1.0,1)" x="0" y="0" font-size="17" fill="#000000" stroke="#000" stroke-width="0.35">I</text>
<rect x="671.8" y="272.5" width="100.3" height="20.3" fill="#ffffff" stroke="#e4e4e4" stroke-width="0.6" rx="1.5"/>
<line x1="673.7" y1="277.5" x2="686.8" y2="277.5" stroke="#ff0000" stroke-width="0.95"/>
<line x1="673.7" y1="287" x2="686.8" y2="287" stroke="#0000ff" stroke-width="1.4" stroke-opacity="0.85"/>
<text x="692" y="279.89" font-size="7.24" text-anchor="start" fill="#262626" stroke="#262626" stroke-width="0.08" textLength="77.79" lengthAdjust="spacingAndGlyphs">Participant ID=11 (DMD)</text>
<text x="692" y="289.39" font-size="7.24" text-anchor="start" fill="#262626" stroke="#262626" stroke-width="0.08" textLength="67.34" lengthAdjust="spacingAndGlyphs">Participant ID=5 (TD)</text>
<text x="675.3" y="440" font-size="10.35" text-anchor="middle" fill="#262626" stroke="#262626" stroke-width="0.124" textLength="67.87" lengthAdjust="spacingAndGlyphs">Frequency (Hz)</text>
<text transform="translate(558.2,342.6) rotate(-90)" x="0" y="0" font-size="10.12" text-anchor="middle" fill="#262626" stroke="#262626" stroke-width="0.121" textLength="49.68" lengthAdjust="spacingAndGlyphs">PSD (W/kg)</text>
</svg></body></html>
